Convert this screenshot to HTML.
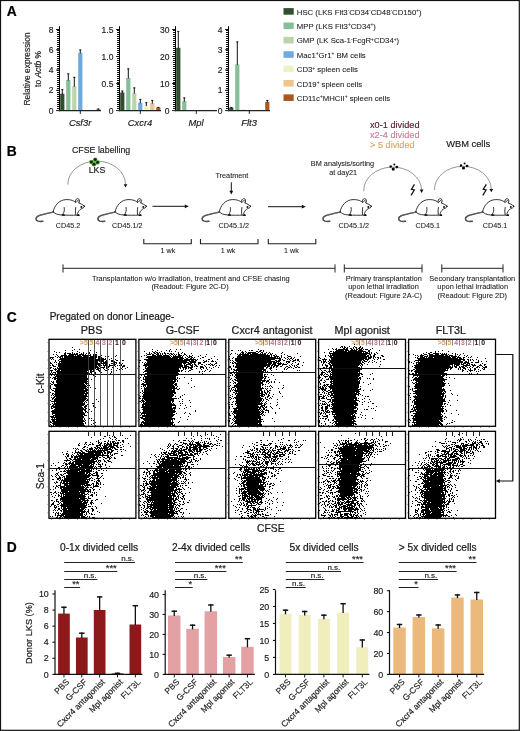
<!DOCTYPE html>
<html><head><meta charset="utf-8"><title>Figure</title>
<style>
html,body{margin:0;padding:0;background:#fff;}
body{width:520px;height:731px;overflow:hidden;}
svg{display:block;will-change:transform;font-family:"Liberation Sans", sans-serif;}

</style></head>
<body>
<svg width="520" height="731" viewBox="0 0 520 731">
<rect width="520" height="731" fill="#fff"/>
<rect x="0.5" y="0.5" width="518.8" height="729.8" fill="none" stroke="#111" stroke-width="1.2"/>
<text x="6.8" y="15.8" font-size="13.8" font-weight="bold" fill="#000" stroke="#000" stroke-width="0.22">A</text>
<text x="6.8" y="155.5" font-size="13.8" font-weight="bold" fill="#000" stroke="#000" stroke-width="0.22">B</text>
<text x="6.8" y="322" font-size="13.8" font-weight="bold" fill="#000" stroke="#000" stroke-width="0.22">C</text>
<text x="6.8" y="551.8" font-size="13.8" font-weight="bold" fill="#000" stroke="#000" stroke-width="0.22">D</text>
<rect x="60.2" y="93.7" width="4.2" height="16.9" fill="#2f4f2f"/>
<line x1="62.3" y1="89.3" x2="62.3" y2="94.2" stroke="#111" stroke-width="1"/>
<line x1="61.2" y1="89.7" x2="63.4" y2="89.7" stroke="#111" stroke-width="0.9"/>
<rect x="66.2" y="80" width="4.2" height="30.6" fill="#86bf97"/>
<line x1="68.3" y1="73.5" x2="68.3" y2="80.5" stroke="#111" stroke-width="1"/>
<line x1="67.2" y1="73.9" x2="69.4" y2="73.9" stroke="#111" stroke-width="0.9"/>
<rect x="72.2" y="86.3" width="4.2" height="24.3" fill="#b9d5a9"/>
<line x1="74.3" y1="76.9" x2="74.3" y2="86.8" stroke="#111" stroke-width="1"/>
<line x1="73.2" y1="77.3" x2="75.4" y2="77.3" stroke="#111" stroke-width="0.9"/>
<rect x="78.2" y="52.8" width="4.2" height="57.8" fill="#6eaade"/>
<line x1="80.3" y1="49.6" x2="80.3" y2="53.3" stroke="#111" stroke-width="1"/>
<line x1="79.2" y1="50" x2="81.4" y2="50" stroke="#111" stroke-width="0.9"/>
<rect x="84.2" y="110.2" width="4.2" height="0.4" fill="#eef0c6"/>
<rect x="90.2" y="110.2" width="4.2" height="0.4" fill="#eec590"/>
<rect x="96.2" y="109.4" width="4.2" height="1.2" fill="#a9591f"/>
<line x1="98.3" y1="108.6" x2="98.3" y2="109.9" stroke="#111" stroke-width="1"/>
<line x1="97.2" y1="109" x2="99.4" y2="109" stroke="#111" stroke-width="0.9"/>
<line x1="59.5" y1="26.2" x2="59.5" y2="111.2" stroke="#000" stroke-width="1"/>
<line x1="58" y1="30" x2="58" y2="110" stroke="#111" stroke-width="2" stroke-dasharray="1 1"/>
<line x1="56.1" y1="110.6" x2="59.5" y2="110.6" stroke="#111" stroke-width="1"/>
<text x="53.4" y="113.6" font-size="8.5" text-anchor="end" fill="#1a1a1a" stroke="#1a1a1a" stroke-width="0.16">0</text>
<line x1="56.1" y1="90.32" x2="59.5" y2="90.32" stroke="#111" stroke-width="1"/>
<text x="53.4" y="93.32" font-size="8.5" text-anchor="end" fill="#1a1a1a" stroke="#1a1a1a" stroke-width="0.16">2</text>
<line x1="56.1" y1="70.05" x2="59.5" y2="70.05" stroke="#111" stroke-width="1"/>
<text x="53.4" y="73.05" font-size="8.5" text-anchor="end" fill="#1a1a1a" stroke="#1a1a1a" stroke-width="0.16">4</text>
<line x1="56.1" y1="49.77" x2="59.5" y2="49.77" stroke="#111" stroke-width="1"/>
<text x="53.4" y="52.77" font-size="8.5" text-anchor="end" fill="#1a1a1a" stroke="#1a1a1a" stroke-width="0.16">6</text>
<line x1="56.1" y1="29.5" x2="59.5" y2="29.5" stroke="#111" stroke-width="1"/>
<text x="53.4" y="32.5" font-size="8.5" text-anchor="end" fill="#1a1a1a" stroke="#1a1a1a" stroke-width="0.16">8</text>
<line x1="59" y1="110.6" x2="101" y2="110.6" stroke="#222" stroke-width="1.3"/>
<line x1="80.3" y1="110.6" x2="80.3" y2="113.9" stroke="#222" stroke-width="1"/>
<text x="80.1" y="125.6" font-size="9.4" text-anchor="middle" font-style="italic" fill="#1a1a1a" stroke="#1a1a1a" stroke-width="0.16">Csf3r</text>
<rect x="120.2" y="92.5" width="4.2" height="18.1" fill="#2f4f2f"/>
<line x1="122.3" y1="90.6" x2="122.3" y2="93" stroke="#111" stroke-width="1"/>
<line x1="121.2" y1="91" x2="123.4" y2="91" stroke="#111" stroke-width="0.9"/>
<rect x="126.2" y="78" width="4.2" height="32.6" fill="#86bf97"/>
<line x1="128.3" y1="68.5" x2="128.3" y2="78.5" stroke="#111" stroke-width="1"/>
<line x1="127.2" y1="68.9" x2="129.4" y2="68.9" stroke="#111" stroke-width="0.9"/>
<rect x="132.2" y="93.1" width="4.2" height="17.5" fill="#b9d5a9"/>
<line x1="134.3" y1="87.5" x2="134.3" y2="93.6" stroke="#111" stroke-width="1"/>
<line x1="133.2" y1="87.9" x2="135.4" y2="87.9" stroke="#111" stroke-width="0.9"/>
<rect x="138.2" y="102.8" width="4.2" height="7.8" fill="#6eaade"/>
<line x1="140.3" y1="99" x2="140.3" y2="103.3" stroke="#111" stroke-width="1"/>
<line x1="139.2" y1="99.4" x2="141.4" y2="99.4" stroke="#111" stroke-width="0.9"/>
<rect x="144.2" y="105.6" width="4.2" height="5" fill="#eef0c6"/>
<line x1="146.3" y1="102.3" x2="146.3" y2="106.1" stroke="#111" stroke-width="1"/>
<line x1="145.2" y1="102.7" x2="147.4" y2="102.7" stroke="#111" stroke-width="0.9"/>
<rect x="150.2" y="103.1" width="4.2" height="7.5" fill="#eec590"/>
<line x1="152.3" y1="100" x2="152.3" y2="103.6" stroke="#111" stroke-width="1"/>
<line x1="151.2" y1="100.4" x2="153.4" y2="100.4" stroke="#111" stroke-width="0.9"/>
<rect x="156.2" y="107.5" width="4.2" height="3.1" fill="#a9591f"/>
<line x1="158.3" y1="107" x2="158.3" y2="108" stroke="#111" stroke-width="1"/>
<line x1="157.2" y1="107.4" x2="159.4" y2="107.4" stroke="#111" stroke-width="0.9"/>
<line x1="119.5" y1="26.2" x2="119.5" y2="111.2" stroke="#000" stroke-width="1"/>
<line x1="118" y1="30" x2="118" y2="110" stroke="#111" stroke-width="2" stroke-dasharray="1 1"/>
<line x1="116.1" y1="110.6" x2="119.5" y2="110.6" stroke="#111" stroke-width="1"/>
<text x="113.4" y="113.6" font-size="8.5" text-anchor="end" fill="#1a1a1a" stroke="#1a1a1a" stroke-width="0.16">0</text>
<line x1="116.1" y1="83.57" x2="119.5" y2="83.57" stroke="#111" stroke-width="1"/>
<text x="113.4" y="86.57" font-size="8.5" text-anchor="end" fill="#1a1a1a" stroke="#1a1a1a" stroke-width="0.16">0.5</text>
<line x1="116.1" y1="56.53" x2="119.5" y2="56.53" stroke="#111" stroke-width="1"/>
<text x="113.4" y="59.53" font-size="8.5" text-anchor="end" fill="#1a1a1a" stroke="#1a1a1a" stroke-width="0.16">1.0</text>
<line x1="116.1" y1="29.5" x2="119.5" y2="29.5" stroke="#111" stroke-width="1"/>
<text x="113.4" y="32.5" font-size="8.5" text-anchor="end" fill="#1a1a1a" stroke="#1a1a1a" stroke-width="0.16">1.5</text>
<line x1="119" y1="110.6" x2="161" y2="110.6" stroke="#222" stroke-width="1.3"/>
<line x1="140.3" y1="110.6" x2="140.3" y2="113.9" stroke="#222" stroke-width="1"/>
<text x="140.1" y="125.6" font-size="9.4" text-anchor="middle" font-style="italic" fill="#1a1a1a" stroke="#1a1a1a" stroke-width="0.16">Cxcr4</text>
<rect x="176.2" y="47.8" width="4.2" height="62.8" fill="#2f4f2f"/>
<line x1="178.3" y1="31" x2="178.3" y2="48.3" stroke="#111" stroke-width="1"/>
<line x1="177.2" y1="31.4" x2="179.4" y2="31.4" stroke="#111" stroke-width="0.9"/>
<rect x="182.2" y="101" width="4.2" height="9.6" fill="#86bf97"/>
<line x1="184.3" y1="97.5" x2="184.3" y2="101.5" stroke="#111" stroke-width="1"/>
<line x1="183.2" y1="97.9" x2="185.4" y2="97.9" stroke="#111" stroke-width="0.9"/>
<rect x="188.2" y="110.3" width="4.2" height="0.3" fill="#b9d5a9"/>
<rect x="194.2" y="110.4" width="4.2" height="0.2" fill="#6eaade"/>
<rect x="200.2" y="110.4" width="4.2" height="0.2" fill="#eef0c6"/>
<rect x="206.2" y="110.4" width="4.2" height="0.2" fill="#eec590"/>
<rect x="212.2" y="110.4" width="4.2" height="0.2" fill="#a9591f"/>
<line x1="175.5" y1="26.2" x2="175.5" y2="111.2" stroke="#000" stroke-width="1"/>
<line x1="174" y1="30" x2="174" y2="110" stroke="#111" stroke-width="2" stroke-dasharray="1 1"/>
<line x1="172.1" y1="110.6" x2="175.5" y2="110.6" stroke="#111" stroke-width="1"/>
<text x="169.4" y="113.6" font-size="8.5" text-anchor="end" fill="#1a1a1a" stroke="#1a1a1a" stroke-width="0.16">0</text>
<line x1="172.1" y1="83.57" x2="175.5" y2="83.57" stroke="#111" stroke-width="1"/>
<text x="169.4" y="86.57" font-size="8.5" text-anchor="end" fill="#1a1a1a" stroke="#1a1a1a" stroke-width="0.16">10</text>
<line x1="172.1" y1="56.53" x2="175.5" y2="56.53" stroke="#111" stroke-width="1"/>
<text x="169.4" y="59.53" font-size="8.5" text-anchor="end" fill="#1a1a1a" stroke="#1a1a1a" stroke-width="0.16">20</text>
<line x1="172.1" y1="29.5" x2="175.5" y2="29.5" stroke="#111" stroke-width="1"/>
<text x="169.4" y="32.5" font-size="8.5" text-anchor="end" fill="#1a1a1a" stroke="#1a1a1a" stroke-width="0.16">30</text>
<line x1="175" y1="110.6" x2="217" y2="110.6" stroke="#222" stroke-width="1.3"/>
<line x1="196.3" y1="110.6" x2="196.3" y2="113.9" stroke="#222" stroke-width="1"/>
<text x="196.1" y="125.6" font-size="9.4" text-anchor="middle" font-style="italic" fill="#1a1a1a" stroke="#1a1a1a" stroke-width="0.16">Mpl</text>
<rect x="229.2" y="107.6" width="4.2" height="3" fill="#2f4f2f"/>
<line x1="231.3" y1="107" x2="231.3" y2="108.1" stroke="#111" stroke-width="1"/>
<line x1="230.2" y1="107.4" x2="232.4" y2="107.4" stroke="#111" stroke-width="0.9"/>
<rect x="235.2" y="64.4" width="4.2" height="46.2" fill="#86bf97"/>
<line x1="237.3" y1="41.5" x2="237.3" y2="64.9" stroke="#111" stroke-width="1"/>
<line x1="236.2" y1="41.9" x2="238.4" y2="41.9" stroke="#111" stroke-width="0.9"/>
<rect x="241.2" y="109.6" width="4.2" height="1" fill="#b9d5a9"/>
<rect x="247.2" y="110.4" width="4.2" height="0.2" fill="#6eaade"/>
<rect x="253.2" y="110.4" width="4.2" height="0.2" fill="#eef0c6"/>
<rect x="259.2" y="110.4" width="4.2" height="0.2" fill="#eec590"/>
<rect x="265.2" y="101.9" width="4.2" height="8.7" fill="#a9591f"/>
<line x1="267.3" y1="100" x2="267.3" y2="102.4" stroke="#111" stroke-width="1"/>
<line x1="266.2" y1="100.4" x2="268.4" y2="100.4" stroke="#111" stroke-width="0.9"/>
<line x1="228.5" y1="26.2" x2="228.5" y2="111.2" stroke="#000" stroke-width="1"/>
<line x1="227" y1="30" x2="227" y2="110" stroke="#111" stroke-width="2" stroke-dasharray="1 1"/>
<line x1="225.1" y1="110.6" x2="228.5" y2="110.6" stroke="#111" stroke-width="1"/>
<text x="222.4" y="113.6" font-size="8.5" text-anchor="end" fill="#1a1a1a" stroke="#1a1a1a" stroke-width="0.16">0</text>
<line x1="225.1" y1="90.32" x2="228.5" y2="90.32" stroke="#111" stroke-width="1"/>
<text x="222.4" y="93.32" font-size="8.5" text-anchor="end" fill="#1a1a1a" stroke="#1a1a1a" stroke-width="0.16">1</text>
<line x1="225.1" y1="70.05" x2="228.5" y2="70.05" stroke="#111" stroke-width="1"/>
<text x="222.4" y="73.05" font-size="8.5" text-anchor="end" fill="#1a1a1a" stroke="#1a1a1a" stroke-width="0.16">2</text>
<line x1="225.1" y1="49.77" x2="228.5" y2="49.77" stroke="#111" stroke-width="1"/>
<text x="222.4" y="52.77" font-size="8.5" text-anchor="end" fill="#1a1a1a" stroke="#1a1a1a" stroke-width="0.16">3</text>
<line x1="225.1" y1="29.5" x2="228.5" y2="29.5" stroke="#111" stroke-width="1"/>
<text x="222.4" y="32.5" font-size="8.5" text-anchor="end" fill="#1a1a1a" stroke="#1a1a1a" stroke-width="0.16">4</text>
<line x1="228" y1="110.6" x2="270" y2="110.6" stroke="#222" stroke-width="1.3"/>
<line x1="249.3" y1="110.6" x2="249.3" y2="113.9" stroke="#222" stroke-width="1"/>
<text x="249.1" y="125.6" font-size="9.4" text-anchor="middle" font-style="italic" fill="#1a1a1a" stroke="#1a1a1a" stroke-width="0.16">Flt3</text>
<text transform="translate(29.6 69) rotate(-90)" font-size="8.4" text-anchor="middle" fill="#222" stroke="#222" stroke-width="0.16">Relative expression</text>
<text transform="translate(41.2 69) rotate(-90)" font-size="8.4" text-anchor="middle" fill="#222" stroke="#222" stroke-width="0.16">to <tspan font-style="italic">Actb</tspan> %</text>
<rect x="283.5" y="8.1" width="10.2" height="6.6" fill="#2f4f2f"/>
<text x="296.8" y="14.6" font-size="7.75" fill="#222" stroke="#222" stroke-width="0.08">HSC (LKS Flt3<tspan dy="-2.6" font-size="4.8">-</tspan><tspan dy="2.6">CD34</tspan><tspan dy="-2.6" font-size="4.8">-</tspan><tspan dy="2.6">CD48</tspan><tspan dy="-2.6" font-size="4.8">-</tspan><tspan dy="2.6">CD150</tspan><tspan dy="-2.6" font-size="4.8">+</tspan><tspan dy="2.6">)</tspan></text>
<rect x="283.5" y="22.48" width="10.2" height="6.6" fill="#86bf97"/>
<text x="296.8" y="28.98" font-size="7.75" fill="#222" stroke="#222" stroke-width="0.08">MPP (LKS Flt3<tspan dy="-2.6" font-size="4.8">+</tspan><tspan dy="2.6">CD34</tspan><tspan dy="-2.6" font-size="4.8">+</tspan><tspan dy="2.6">)</tspan></text>
<rect x="283.5" y="36.86" width="10.2" height="6.6" fill="#b9d5a9"/>
<text x="296.8" y="43.36" font-size="7.75" fill="#222" stroke="#222" stroke-width="0.08">GMP (LK Sca-1<tspan dy="-2.6" font-size="4.8">-</tspan><tspan dy="2.6">FcgR</tspan><tspan dy="-2.6" font-size="4.8">+</tspan><tspan dy="2.6">CD34</tspan><tspan dy="-2.6" font-size="4.8">+</tspan><tspan dy="2.6">)</tspan></text>
<rect x="283.5" y="51.24" width="10.2" height="6.6" fill="#6eaade"/>
<text x="296.8" y="57.74" font-size="7.75" fill="#222" stroke="#222" stroke-width="0.08">Mac1<tspan dy="-2.6" font-size="4.8">+</tspan><tspan dy="2.6">Gr1</tspan><tspan dy="-2.6" font-size="4.8">+</tspan><tspan dy="2.6"> BM cells</tspan></text>
<rect x="283.5" y="65.62" width="10.2" height="6.6" fill="#eef0c6"/>
<text x="296.8" y="72.12" font-size="7.75" fill="#222" stroke="#222" stroke-width="0.08">CD3<tspan dy="-2.6" font-size="4.8">+</tspan><tspan dy="2.6"> spleen cells</tspan></text>
<rect x="283.5" y="80" width="10.2" height="6.6" fill="#eec590"/>
<text x="296.8" y="86.5" font-size="7.75" fill="#222" stroke="#222" stroke-width="0.08">CD19<tspan dy="-2.6" font-size="4.8">+</tspan><tspan dy="2.6"> spleen cells</tspan></text>
<rect x="283.5" y="94.38" width="10.2" height="6.6" fill="#a9591f"/>
<text x="296.8" y="100.88" font-size="7.75" fill="#222" stroke="#222" stroke-width="0.08">CD11c<tspan dy="-2.6" font-size="4.8">+</tspan><tspan dy="2.6">MHCII</tspan><tspan dy="-2.6" font-size="4.8">+</tspan><tspan dy="2.6"> spleen cells</tspan></text>
<g transform="translate(84.4 206.3)"><g fill="none" stroke="#111" stroke-width="0.85" stroke-linejoin="round" stroke-linecap="round"><path d="M-31.2 5.4 C-30 -1 -25 -6.5 -18.3 -6.7 C-13 -6.9 -10.2 -5.2 -8.8 -3.9"/><path d="M-8.8 -3.9 C-9.8 -6.6 -7.2 -8.6 -5.6 -7.2 C-4.6 -6.2 -4.8 -4.6 -5.4 -3.6"/><path d="M-7.6 -4.6 C-7.4 -5.6 -6.6 -6.2 -6 -5.6"/><path d="M-5.6 -3.4 C-3.6 -2.6 -1.4 -1.4 0.2 -0.1 C-0.4 1.3 -1.8 2.1 -3.2 2.5 C-4.5 3.2 -5.8 4.6 -6.6 6.6 C-7 7.6 -6.6 8.4 -5.4 8.9"/><path d="M-8.6 1.2 C-9 3.6 -9.2 6 -8.6 8.4"/><path d="M-7.6 8.8 C-12 9 -18 9 -22.4 8.7 C-27 8.4 -30 7.5 -31.2 5.4"/><path d="M-20.2 1.2 C-19.6 4.2 -20.4 6.8 -22 8.3 L-19.8 8.9"/></g><path d="M-31 5.8 C-36 6.8 -42.5 8 -46 9.6 C-49 11 -49.2 13.8 -46.4 14.8 C-45 15.2 -43.2 15.2 -41.6 15" fill="none" stroke="#111" stroke-width="1.5" stroke-linecap="round"/><path d="M-31 5.8 C-36 6.8 -42.5 8 -46 9.6 C-49 11 -49.2 13.8 -46.4 14.8 C-45 15.2 -43.2 15.2 -41.6 15" fill="none" stroke="#fff" stroke-width="0.35" stroke-linecap="round"/><g fill="#111"><ellipse cx="-21.2" cy="8.7" rx="1.6" ry="0.85"/><ellipse cx="-6.2" cy="8.9" rx="1.5" ry="0.85"/><circle cx="-3" cy="0.6" r="1"/><circle cx="-0.1" cy="0" r="0.7"/></g></g>
<g transform="translate(146.3 206.3)"><g fill="none" stroke="#111" stroke-width="0.85" stroke-linejoin="round" stroke-linecap="round"><path d="M-31.2 5.4 C-30 -1 -25 -6.5 -18.3 -6.7 C-13 -6.9 -10.2 -5.2 -8.8 -3.9"/><path d="M-8.8 -3.9 C-9.8 -6.6 -7.2 -8.6 -5.6 -7.2 C-4.6 -6.2 -4.8 -4.6 -5.4 -3.6"/><path d="M-7.6 -4.6 C-7.4 -5.6 -6.6 -6.2 -6 -5.6"/><path d="M-5.6 -3.4 C-3.6 -2.6 -1.4 -1.4 0.2 -0.1 C-0.4 1.3 -1.8 2.1 -3.2 2.5 C-4.5 3.2 -5.8 4.6 -6.6 6.6 C-7 7.6 -6.6 8.4 -5.4 8.9"/><path d="M-8.6 1.2 C-9 3.6 -9.2 6 -8.6 8.4"/><path d="M-7.6 8.8 C-12 9 -18 9 -22.4 8.7 C-27 8.4 -30 7.5 -31.2 5.4"/><path d="M-20.2 1.2 C-19.6 4.2 -20.4 6.8 -22 8.3 L-19.8 8.9"/></g><path d="M-31 5.8 C-36 6.8 -42.5 8 -46 9.6 C-49 11 -49.2 13.8 -46.4 14.8 C-45 15.2 -43.2 15.2 -41.6 15" fill="none" stroke="#111" stroke-width="1.5" stroke-linecap="round"/><path d="M-31 5.8 C-36 6.8 -42.5 8 -46 9.6 C-49 11 -49.2 13.8 -46.4 14.8 C-45 15.2 -43.2 15.2 -41.6 15" fill="none" stroke="#fff" stroke-width="0.35" stroke-linecap="round"/><g fill="#111"><ellipse cx="-21.2" cy="8.7" rx="1.6" ry="0.85"/><ellipse cx="-6.2" cy="8.9" rx="1.5" ry="0.85"/><circle cx="-3" cy="0.6" r="1"/><circle cx="-0.1" cy="0" r="0.7"/></g></g>
<g transform="translate(250.5 206.3)"><g fill="none" stroke="#111" stroke-width="0.85" stroke-linejoin="round" stroke-linecap="round"><path d="M-31.2 5.4 C-30 -1 -25 -6.5 -18.3 -6.7 C-13 -6.9 -10.2 -5.2 -8.8 -3.9"/><path d="M-8.8 -3.9 C-9.8 -6.6 -7.2 -8.6 -5.6 -7.2 C-4.6 -6.2 -4.8 -4.6 -5.4 -3.6"/><path d="M-7.6 -4.6 C-7.4 -5.6 -6.6 -6.2 -6 -5.6"/><path d="M-5.6 -3.4 C-3.6 -2.6 -1.4 -1.4 0.2 -0.1 C-0.4 1.3 -1.8 2.1 -3.2 2.5 C-4.5 3.2 -5.8 4.6 -6.6 6.6 C-7 7.6 -6.6 8.4 -5.4 8.9"/><path d="M-8.6 1.2 C-9 3.6 -9.2 6 -8.6 8.4"/><path d="M-7.6 8.8 C-12 9 -18 9 -22.4 8.7 C-27 8.4 -30 7.5 -31.2 5.4"/><path d="M-20.2 1.2 C-19.6 4.2 -20.4 6.8 -22 8.3 L-19.8 8.9"/></g><path d="M-31 5.8 C-36 6.8 -42.5 8 -46 9.6 C-49 11 -49.2 13.8 -46.4 14.8 C-45 15.2 -43.2 15.2 -41.6 15" fill="none" stroke="#111" stroke-width="1.5" stroke-linecap="round"/><path d="M-31 5.8 C-36 6.8 -42.5 8 -46 9.6 C-49 11 -49.2 13.8 -46.4 14.8 C-45 15.2 -43.2 15.2 -41.6 15" fill="none" stroke="#fff" stroke-width="0.35" stroke-linecap="round"/><g fill="#111"><ellipse cx="-21.2" cy="8.7" rx="1.6" ry="0.85"/><ellipse cx="-6.2" cy="8.9" rx="1.5" ry="0.85"/><circle cx="-3" cy="0.6" r="1"/><circle cx="-0.1" cy="0" r="0.7"/></g></g>
<g transform="translate(371.3 206.3)"><g fill="none" stroke="#111" stroke-width="0.85" stroke-linejoin="round" stroke-linecap="round"><path d="M-31.2 5.4 C-30 -1 -25 -6.5 -18.3 -6.7 C-13 -6.9 -10.2 -5.2 -8.8 -3.9"/><path d="M-8.8 -3.9 C-9.8 -6.6 -7.2 -8.6 -5.6 -7.2 C-4.6 -6.2 -4.8 -4.6 -5.4 -3.6"/><path d="M-7.6 -4.6 C-7.4 -5.6 -6.6 -6.2 -6 -5.6"/><path d="M-5.6 -3.4 C-3.6 -2.6 -1.4 -1.4 0.2 -0.1 C-0.4 1.3 -1.8 2.1 -3.2 2.5 C-4.5 3.2 -5.8 4.6 -6.6 6.6 C-7 7.6 -6.6 8.4 -5.4 8.9"/><path d="M-8.6 1.2 C-9 3.6 -9.2 6 -8.6 8.4"/><path d="M-7.6 8.8 C-12 9 -18 9 -22.4 8.7 C-27 8.4 -30 7.5 -31.2 5.4"/><path d="M-20.2 1.2 C-19.6 4.2 -20.4 6.8 -22 8.3 L-19.8 8.9"/></g><path d="M-31 5.8 C-36 6.8 -42.5 8 -46 9.6 C-49 11 -49.2 13.8 -46.4 14.8 C-45 15.2 -43.2 15.2 -41.6 15" fill="none" stroke="#111" stroke-width="1.5" stroke-linecap="round"/><path d="M-31 5.8 C-36 6.8 -42.5 8 -46 9.6 C-49 11 -49.2 13.8 -46.4 14.8 C-45 15.2 -43.2 15.2 -41.6 15" fill="none" stroke="#fff" stroke-width="0.35" stroke-linecap="round"/><g fill="#111"><ellipse cx="-21.2" cy="8.7" rx="1.6" ry="0.85"/><ellipse cx="-6.2" cy="8.9" rx="1.5" ry="0.85"/><circle cx="-3" cy="0.6" r="1"/><circle cx="-0.1" cy="0" r="0.7"/></g></g>
<g transform="translate(447 206.3)"><g fill="none" stroke="#111" stroke-width="0.85" stroke-linejoin="round" stroke-linecap="round"><path d="M-31.2 5.4 C-30 -1 -25 -6.5 -18.3 -6.7 C-13 -6.9 -10.2 -5.2 -8.8 -3.9"/><path d="M-8.8 -3.9 C-9.8 -6.6 -7.2 -8.6 -5.6 -7.2 C-4.6 -6.2 -4.8 -4.6 -5.4 -3.6"/><path d="M-7.6 -4.6 C-7.4 -5.6 -6.6 -6.2 -6 -5.6"/><path d="M-5.6 -3.4 C-3.6 -2.6 -1.4 -1.4 0.2 -0.1 C-0.4 1.3 -1.8 2.1 -3.2 2.5 C-4.5 3.2 -5.8 4.6 -6.6 6.6 C-7 7.6 -6.6 8.4 -5.4 8.9"/><path d="M-8.6 1.2 C-9 3.6 -9.2 6 -8.6 8.4"/><path d="M-7.6 8.8 C-12 9 -18 9 -22.4 8.7 C-27 8.4 -30 7.5 -31.2 5.4"/><path d="M-20.2 1.2 C-19.6 4.2 -20.4 6.8 -22 8.3 L-19.8 8.9"/></g><path d="M-31 5.8 C-36 6.8 -42.5 8 -46 9.6 C-49 11 -49.2 13.8 -46.4 14.8 C-45 15.2 -43.2 15.2 -41.6 15" fill="none" stroke="#111" stroke-width="1.5" stroke-linecap="round"/><path d="M-31 5.8 C-36 6.8 -42.5 8 -46 9.6 C-49 11 -49.2 13.8 -46.4 14.8 C-45 15.2 -43.2 15.2 -41.6 15" fill="none" stroke="#fff" stroke-width="0.35" stroke-linecap="round"/><g fill="#111"><ellipse cx="-21.2" cy="8.7" rx="1.6" ry="0.85"/><ellipse cx="-6.2" cy="8.9" rx="1.5" ry="0.85"/><circle cx="-3" cy="0.6" r="1"/><circle cx="-0.1" cy="0" r="0.7"/></g></g>
<g transform="translate(513.8 206.3)"><g fill="none" stroke="#111" stroke-width="0.85" stroke-linejoin="round" stroke-linecap="round"><path d="M-31.2 5.4 C-30 -1 -25 -6.5 -18.3 -6.7 C-13 -6.9 -10.2 -5.2 -8.8 -3.9"/><path d="M-8.8 -3.9 C-9.8 -6.6 -7.2 -8.6 -5.6 -7.2 C-4.6 -6.2 -4.8 -4.6 -5.4 -3.6"/><path d="M-7.6 -4.6 C-7.4 -5.6 -6.6 -6.2 -6 -5.6"/><path d="M-5.6 -3.4 C-3.6 -2.6 -1.4 -1.4 0.2 -0.1 C-0.4 1.3 -1.8 2.1 -3.2 2.5 C-4.5 3.2 -5.8 4.6 -6.6 6.6 C-7 7.6 -6.6 8.4 -5.4 8.9"/><path d="M-8.6 1.2 C-9 3.6 -9.2 6 -8.6 8.4"/><path d="M-7.6 8.8 C-12 9 -18 9 -22.4 8.7 C-27 8.4 -30 7.5 -31.2 5.4"/><path d="M-20.2 1.2 C-19.6 4.2 -20.4 6.8 -22 8.3 L-19.8 8.9"/></g><path d="M-31 5.8 C-36 6.8 -42.5 8 -46 9.6 C-49 11 -49.2 13.8 -46.4 14.8 C-45 15.2 -43.2 15.2 -41.6 15" fill="none" stroke="#111" stroke-width="1.5" stroke-linecap="round"/><path d="M-31 5.8 C-36 6.8 -42.5 8 -46 9.6 C-49 11 -49.2 13.8 -46.4 14.8 C-45 15.2 -43.2 15.2 -41.6 15" fill="none" stroke="#fff" stroke-width="0.35" stroke-linecap="round"/><g fill="#111"><ellipse cx="-21.2" cy="8.7" rx="1.6" ry="0.85"/><ellipse cx="-6.2" cy="8.9" rx="1.5" ry="0.85"/><circle cx="-3" cy="0.6" r="1"/><circle cx="-0.1" cy="0" r="0.7"/></g></g>
<text x="68" y="228" font-size="7.2" text-anchor="middle" fill="#222" stroke="#222" stroke-width="0.08">CD45.2</text>
<text x="127.3" y="228" font-size="7.2" text-anchor="middle" fill="#222" stroke="#222" stroke-width="0.08">CD45.1/2</text>
<text x="233.8" y="228" font-size="7.2" text-anchor="middle" fill="#222" stroke="#222" stroke-width="0.08">CD45.1/2</text>
<text x="353.8" y="228" font-size="7.2" text-anchor="middle" fill="#222" stroke="#222" stroke-width="0.08">CD45.1/2</text>
<text x="427.8" y="228" font-size="7.2" text-anchor="middle" fill="#222" stroke="#222" stroke-width="0.08">CD45.1</text>
<text x="495" y="228" font-size="7.2" text-anchor="middle" fill="#222" stroke="#222" stroke-width="0.08">CD45.1</text>
<text x="72" y="152.5" font-size="8.8" fill="#222" stroke="#222" stroke-width="0.16">CFSE labelling</text>
<text x="97" y="172.8" font-size="8.8" text-anchor="middle" fill="#1a1a1a" stroke="#1a1a1a" stroke-width="0.16">LKS</text>
<path d="M67.8 184.6 A28.85 23.3 0 0 1 125.5 184.2" fill="none" stroke="#8a8a8a" stroke-width="0.9"/>
<path d="M125.5 187.6 l-1.9 -3.4 l3.8 0 z" fill="#111"/>
<path d="M363.8 191.3 A28.9 23.4 0 0 1 421.6 189.6" fill="none" stroke="#8a8a8a" stroke-width="0.9"/>
<path d="M421.6 192.9 l-1.9 -3.4 l3.8 0 z" fill="#111"/>
<path d="M434.5 190 A28.4 23.2 0 0 1 491.3 189" fill="none" stroke="#8a8a8a" stroke-width="0.9"/>
<path d="M491.3 192.3 l-1.9 -3.4 l3.8 0 z" fill="#111"/>
<circle cx="91.4" cy="162" r="2.2" fill="#4f9e30"/>
<circle cx="95.2" cy="159.6" r="2.2" fill="#4f9e30"/>
<circle cx="97.6" cy="162.4" r="2.2" fill="#4f9e30"/>
<circle cx="94" cy="164.3" r="2.2" fill="#4f9e30"/>
<circle cx="91.4" cy="162" r="1.35" fill="#0b2205"/>
<circle cx="95.2" cy="159.6" r="1.35" fill="#0b2205"/>
<circle cx="97.6" cy="162.4" r="1.35" fill="#0b2205"/>
<circle cx="94" cy="164.3" r="1.35" fill="#0b2205"/>
<circle cx="394.3" cy="164.6" r="1" fill="#0a0a0a"/>
<circle cx="390.7" cy="166.6" r="1.25" fill="#0a0a0a"/>
<circle cx="396.8" cy="167.1" r="1.35" fill="#0a0a0a"/>
<circle cx="393.2" cy="169.1" r="1.6" fill="#0a0a0a"/>
<circle cx="464.6" cy="163.5" r="1" fill="#0a0a0a"/>
<circle cx="461" cy="165.5" r="1.25" fill="#0a0a0a"/>
<circle cx="467.1" cy="166" r="1.35" fill="#0a0a0a"/>
<circle cx="463.5" cy="168" r="1.6" fill="#0a0a0a"/>
<path d="M414.5 184.3 L411.4 189.3 L414.3 190 L411 195.3" fill="none" stroke="#111" stroke-width="1.25" stroke-linejoin="miter"/>
<path d="M486.3 184.3 L483.2 189.3 L486.1 190 L482.8 195.3" fill="none" stroke="#111" stroke-width="1.25" stroke-linejoin="miter"/>
<line x1="152.5" y1="206.3" x2="185.8" y2="206.3" stroke="#111" stroke-width="1"/>
<path d="M188.8 206.3 l-4 -1.9 l0 3.8 z" fill="#111"/>
<line x1="268" y1="206.7" x2="302.8" y2="206.7" stroke="#111" stroke-width="1"/>
<path d="M305.8 206.7 l-4 -1.9 l0 3.8 z" fill="#111"/>
<text x="231.9" y="178.2" font-size="7.3" text-anchor="middle" fill="#222" stroke="#222" stroke-width="0.08">Treatment</text>
<line x1="231.3" y1="182.3" x2="231.3" y2="191.5" stroke="#111" stroke-width="1"/>
<path d="M231.3 194.6 l-1.9 -3.8 l3.8 0 z" fill="#111"/>
<path d="M143.8 239 V243.7 H191.3 V239" fill="none" stroke="#222" stroke-width="1.1"/>
<text x="167.9" y="253.2" font-size="7.1" text-anchor="middle" fill="#222" stroke="#222" stroke-width="0.08">1 wk</text>
<path d="M200.5 239 V243.7 H258 V239" fill="none" stroke="#222" stroke-width="1.1"/>
<text x="228.1" y="253.2" font-size="7.1" text-anchor="middle" fill="#222" stroke="#222" stroke-width="0.08">1 wk</text>
<path d="M268.3 239 V243.7 H315.8 V239" fill="none" stroke="#222" stroke-width="1.1"/>
<text x="291.4" y="253.2" font-size="7.1" text-anchor="middle" fill="#222" stroke="#222" stroke-width="0.08">1 wk</text>
<text x="342.5" y="166.2" font-size="7.3" text-anchor="middle" fill="#222" stroke="#222" stroke-width="0.08">BM analysis/sorting</text>
<text x="343.2" y="175" font-size="7.3" text-anchor="middle" fill="#222" stroke="#222" stroke-width="0.08">at day21</text>
<text x="370" y="127.5" font-size="9.2" fill="#55202e" stroke="#55202e" stroke-width="0.16">x0-1 divided</text>
<text x="370" y="137.6" font-size="9.2" fill="#cc7f9a" stroke="#cc7f9a" stroke-width="0.16">x2-4 divided</text>
<text x="370" y="148" font-size="9.2" fill="#d9a865" stroke="#d9a865" stroke-width="0.16">&gt; 5 divided</text>
<text x="446.2" y="147.2" font-size="9.3" fill="#1a1a1a" stroke="#1a1a1a" stroke-width="0.16">WBM cells</text>
<line x1="63" y1="268.3" x2="335" y2="268.3" stroke="#222" stroke-width="1"/>
<line x1="63" y1="264.4" x2="63" y2="272.5" stroke="#222" stroke-width="1"/>
<line x1="335" y1="264.4" x2="335" y2="272.5" stroke="#222" stroke-width="1"/>
<line x1="344.3" y1="268.3" x2="422" y2="268.3" stroke="#222" stroke-width="1"/>
<line x1="344.3" y1="264.4" x2="344.3" y2="272.5" stroke="#222" stroke-width="1"/>
<line x1="422" y1="264.4" x2="422" y2="272.5" stroke="#222" stroke-width="1"/>
<line x1="441.8" y1="268.3" x2="503" y2="268.3" stroke="#222" stroke-width="1"/>
<line x1="441.8" y1="264.4" x2="441.8" y2="272.5" stroke="#222" stroke-width="1"/>
<line x1="503" y1="264.4" x2="503" y2="272.5" stroke="#222" stroke-width="1"/>
<text x="190.8" y="280.7" font-size="7.4" text-anchor="middle" fill="#222" stroke="#222" stroke-width="0.08">Transplantation w/o irradiation, treatment and CFSE chasing</text>
<text x="190" y="288.8" font-size="7.4" text-anchor="middle" fill="#222" stroke="#222" stroke-width="0.08">(Readout: Figure 2C-D)</text>
<text x="383.8" y="280.7" font-size="7.4" text-anchor="middle" fill="#222" stroke="#222" stroke-width="0.08">Primary transplantation</text>
<text x="383.5" y="289.2" font-size="7.4" text-anchor="middle" fill="#222" stroke="#222" stroke-width="0.08">upon lethal irradiation</text>
<text x="383.5" y="297.5" font-size="7.4" text-anchor="middle" fill="#222" stroke="#222" stroke-width="0.08">(Readout: Figure 2A-C)</text>
<text x="472.3" y="280.7" font-size="7.4" text-anchor="middle" fill="#222" stroke="#222" stroke-width="0.08">Secondary transplantation</text>
<text x="472.7" y="289.2" font-size="7.4" text-anchor="middle" fill="#222" stroke="#222" stroke-width="0.08">upon lethal irradiation</text>
<text x="472.3" y="297.5" font-size="7.4" text-anchor="middle" fill="#222" stroke="#222" stroke-width="0.08">(Readout: Figure 2D)</text>
<text x="49.7" y="320.2" font-size="10" fill="#1a1a1a" stroke="#1a1a1a" stroke-width="0.22">Pregated on donor Lineage-</text>
<text x="91.6" y="334" font-size="10.8" text-anchor="middle" fill="#1a1a1a" stroke="#1a1a1a" stroke-width="0.22">PBS</text>
<text x="182.5" y="334" font-size="10.8" text-anchor="middle" fill="#1a1a1a" stroke="#1a1a1a" stroke-width="0.22">G-CSF</text>
<text x="272.1" y="334" font-size="10.8" text-anchor="middle" fill="#1a1a1a" stroke="#1a1a1a" stroke-width="0.22">Cxcr4 antagonist</text>
<text x="362.2" y="334" font-size="10.8" text-anchor="middle" fill="#1a1a1a" stroke="#1a1a1a" stroke-width="0.22">Mpl agonist</text>
<text x="450.9" y="334" font-size="10.8" text-anchor="middle" fill="#1a1a1a" stroke="#1a1a1a" stroke-width="0.22">FLT3L</text>
<path d="M88 344h1v1h-1zm6 2h1v1h-1zm-22 1h1v1h-1zm2 2h1v1h-1zm5 0h1v1h-1zm-14 1h1v1h-1zm7 0h1v1h-1zm18 0h1v1h-1zm-36 1h1v1h-1zm23 0h1v1h-1zm17 0h1v1h-1zm-38 1h1v1h-1zm3 0h1v1h-1zm6 0h1v1h-1zm7 0h1v1h-1zm7 0h1v1h-1zm4 0h1v1h-1zm6 0h1v1h-1zm7 0h1v1h-1zm-32 1h2v1h-2zm3 0h4v1h-4zm5 0h1v1h-1zm2 0h1v1h-1zm2 0h2v1h-2zm5 0h1v1h-1zm2 0h1v1h-1zm3 0h1v1h-1zm3 0h1v1h-1zm-36 1h1v1h-1zm3 0h1v1h-1zm8 0h2v1h-2zm5 0h9v1h-9zm10 0h5v1h-5zm6 0h1v1h-1zm3 0h1v1h-1zm2 0h1v1h-1zm3 0h1v1h-1zm2 0h2v1h-2zm-38 1h1v1h-1zm4 0h6v1h-6zm7 0h6v1h-6zm7 0h1v1h-1zm2 0h4v1h-4zm5 0h9v1h-9zm11 0h4v1h-4zm8 0h1v1h-1zm15 0h1v1h-1zm-61 1h1v1h-1zm3 0h1v1h-1zm2 0h3v1h-3zm4 0h18v1h-18zm19 0h6v1h-6zm7 0h4v1h-4zm5 0h2v1h-2zm3 0h3v1h-3zm7 0h1v1h-1zm3 0h1v1h-1zm7 0h1v1h-1zm-65 1h4v1h-4zm7 0h1v1h-1zm2 0h2v1h-2zm3 0h1v1h-1zm2 0h33v1h-33zm34 0h2v1h-2zm3 0h1v1h-1zm6 0h1v1h-1zm-57 1h1v1h-1zm2 0h1v1h-1zm8 0h36v1h-36zm38 0h6v1h-6zm7 0h1v1h-1zm6 0h1v1h-1zm-60 1h1v1h-1zm2 0h1v1h-1zm6 0h47v1h-47zm50 0h1v1h-1zm6 0h1v1h-1zm-60 1h1v1h-1zm3 0h1v1h-1zm3 0h43v1h-43zm45 0h1v1h-1zm5 0h2v1h-2zm5 0h2v1h-2zm6 0h2v1h-2zm-67 1h1v1h-1zm4 0h39v1h-39zm40 0h5v1h-5zm6 0h2v1h-2zm6 0h4v1h-4zm-61 1h1v1h-1zm4 0h1v1h-1zm2 0h1v1h-1zm3 0h1v1h-1zm2 0h37v1h-37zm40 0h1v1h-1zm2 0h5v1h-5zm11 0h3v1h-3zm5 0h1v1h-1zm-69 1h2v1h-2zm8 0h50v1h-50zm53 0h2v1h-2zm3 0h1v1h-1zm2 0h1v1h-1zm3 0h2v1h-2zm3 0h1v1h-1zm-70 1h1v1h-1zm4 0h1v1h-1zm2 0h43v1h-43zm45 0h1v1h-1zm2 0h2v1h-2zm4 0h1v1h-1zm4 0h3v1h-3zm8 0h1v1h-1zm-71 1h1v1h-1zm2 0h2v1h-2zm6 0h39v1h-39zm40 0h4v1h-4zm5 0h4v1h-4zm6 0h6v1h-6zm8 0h1v1h-1zm2 0h3v1h-3zm4 0h2v1h-2zm-70 1h3v1h-3zm5 0h40v1h-40zm41 0h1v1h-1zm5 0h1v1h-1zm2 0h1v1h-1zm2 0h2v1h-2zm5 0h1v1h-1zm2 0h1v1h-1zm7 0h3v1h-3zm-72 1h2v1h-2zm7 0h1v1h-1zm2 0h40v1h-40zm41 0h5v1h-5zm6 0h1v1h-1zm2 0h1v1h-1zm4 0h2v1h-2zm8 0h1v1h-1zm2 0h1v1h-1zm5 0h1v1h-1zm-77 1h1v1h-1zm3 0h1v1h-1zm2 0h1v1h-1zm2 0h37v1h-37zm38 0h1v1h-1zm2 0h3v1h-3zm6 0h1v1h-1zm3 0h1v1h-1zm7 0h1v1h-1zm4 0h1v1h-1zm4 0h1v1h-1zm4 0h1v1h-1zm-71 1h3v1h-3zm4 0h36v1h-36zm38 0h3v1h-3zm4 0h1v1h-1zm4 0h1v1h-1zm4 0h1v1h-1zm3 0h1v1h-1zm8 0h1v1h-1zm3 0h1v1h-1zm-72 1h3v1h-3zm5 0h1v1h-1zm2 0h3v1h-3zm4 0h28v1h-28zm29 0h2v1h-2zm3 0h1v1h-1zm5 0h3v1h-3zm7 0h2v1h-2zm8 0h1v1h-1zm3 0h1v1h-1zm-65 1h1v1h-1zm5 0h31v1h-31zm32 0h1v1h-1zm2 0h4v1h-4zm9 0h1v1h-1zm12 0h1v1h-1zm-60 1h1v1h-1zm2 0h3v1h-3zm4 0h32v1h-32zm33 0h2v1h-2zm4 0h2v1h-2zm7 0h1v1h-1zm10 0h1v1h-1zm-61 1h1v1h-1zm2 0h1v1h-1zm3 0h1v1h-1zm2 0h33v1h-33zm34 0h1v1h-1zm4 0h1v1h-1zm15 0h1v1h-1zm-60 1h1v1h-1zm3 0h37v1h-37zm-2 1h1v1h-1zm3 0h1v1h-1zm2 0h31v1h-31zm37 0h1v1h-1zm-38 1h32v1h-32zm33 0h1v1h-1zm7 0h1v1h-1zm-45 1h1v1h-1zm3 0h3v1h-3zm4 0h30v1h-30zm31 0h1v1h-1zm-36 1h1v1h-1zm2 0h34v1h-34zm0 1h2v1h-2zm3 0h31v1h-31zm34 0h1v1h-1zm-35 1h31v1h-31zm32 0h1v1h-1zm-37 1h1v1h-1zm2 0h1v1h-1zm3 0h32v1h-32zm-4 1h2v1h-2zm4 0h31v1h-31zm-6 1h1v1h-1zm3 0h1v1h-1zm4 0h27v1h-27zm28 0h4v1h-4zm-34 1h2v1h-2zm3 0h31v1h-31zm32 0h1v1h-1zm2 0h1v1h-1zm-38 1h1v1h-1zm4 0h32v1h-32zm33 0h3v1h-3zm-37 1h1v1h-1zm5 0h32v1h-32zm-5 1h1v1h-1zm6 0h30v1h-30zm31 0h1v1h-1zm3 0h1v1h-1zm-40 1h1v1h-1zm3 0h34v1h-34zm42 0h1v1h-1zm-44 1h1v1h-1zm4 0h29v1h-29zm30 0h3v1h-3zm-33 1h2v1h-2zm3 0h33v1h-33zm-1 1h33v1h-33zm-4 1h1v1h-1zm5 0h30v1h-30zm31 0h2v1h-2zm-34 1h2v1h-2zm3 0h34v1h-34zm-3 1h1v1h-1zm2 0h30v1h-30zm31 0h2v1h-2zm-34 1h1v1h-1zm2 0h1v1h-1zm2 0h32v1h-32zm-1 1h34v1h-34zm-3 1h1v1h-1zm2 0h2v1h-2zm3 0h30v1h-30zm-4 1h2v1h-2zm3 0h32v1h-32zm-3 1h1v1h-1zm2 0h32v1h-32zm33 0h1v1h-1zm9 0h1v1h-1zm-46 1h1v1h-1zm4 0h31v1h-31zm32 0h2v1h-2zm-35 1h33v1h-33zm34 0h1v1h-1zm13 0h1v1h-1zm-44 1h1v1h-1zm2 0h27v1h-27zm28 0h1v1h-1zm2 0h1v1h-1zm-34 1h1v1h-1zm2 0h31v1h-31zm38 0h2v1h-2zm-42 1h1v1h-1zm3 0h32v1h-32zm34 0h1v1h-1zm-35 1h2v1h-2zm3 0h29v1h-29zm30 0h2v1h-2zm8 0h1v1h-1zm-42 1h31v1h-31zm33 0h3v1h-3zm9 0h1v1h-1zm-42 1h1v1h-1zm2 0h30v1h-30zm31 0h2v1h-2zm11 0h1v1h-1zm-44 1h2v1h-2zm4 0h29v1h-29zm30 0h2v1h-2zm-31 1h32v1h-32zm35 0h1v1h-1zm-37 1h31v1h-31zm32 0h2v1h-2zm-33 1h32v1h-32zm34 0h2v1h-2zm6 0h1v1h-1zm-39 1h32v1h-32zm33 0h1v1h-1zm2 0h1v1h-1zm-35 1h33v1h-33zm0 1h1v1h-1zm3 0h30v1h-30zm-2 1h30v1h-30zm31 0h3v1h-3zm-34 1h4v1h-4zm5 0h29v1h-29zm-4 1h33v1h-33zm1 1h1v1h-1zm2 0h1v1h-1zm2 0h27v1h-27zm28 0h1v1h-1zm5 0h1v1h-1zm2 0h1v1h-1zm-40 1h32v1h-32zm33 0h1v1h-1zm-32 1h3v1h-3zm4 0h28v1h-28zm29 0h1v1h-1zm6 0h1v1h-1zm2 0h1v1h-1zm-43 1h1v1h-1zm2 0h33v1h-33zm-2 1h2v1h-2zm3 0h30v1h-30zm32 0h1v1h-1zm10 0h1v1h-1zm-43 1h32v1h-32zm33 0h1v1h-1zm8 0h1v1h-1zm-43 1h1v1h-1zm3 0h31v1h-31zm38 0h1v1h-1zm-40 1h1v1h-1zm2 0h1v1h-1zm2 0h30v1h-30zm33 0h1v1h-1zm7 0h1v1h-1z" fill="#000"/>
<path d="M113 434h1v1h-1zm-4 1h1v1h-1zm13 0h1v1h-1zm8 0h1v1h-1zm-26 1h2v1h-2zm8 0h1v1h-1zm2 0h1v1h-1zm-23 1h1v1h-1zm18 0h1v1h-1zm5 0h2v1h-2zm-11 1h1v1h-1zm7 0h1v1h-1zm6 0h1v1h-1zm9 0h1v1h-1zm2 0h1v1h-1zm-27 1h1v1h-1zm12 0h1v1h-1zm3 0h1v1h-1zm-17 1h1v1h-1zm10 0h1v1h-1zm8 0h1v1h-1zm2 0h2v1h-2zm4 0h2v1h-2zm-26 1h1v1h-1zm2 0h1v1h-1zm6 0h2v1h-2zm4 0h1v1h-1zm2 0h1v1h-1zm2 0h3v1h-3zm10 0h2v1h-2zm-37 1h2v1h-2zm5 0h1v1h-1zm8 0h2v1h-2zm3 0h1v1h-1zm6 0h1v1h-1zm3 0h1v1h-1zm2 0h2v1h-2zm3 0h1v1h-1zm2 0h2v1h-2zm3 0h1v1h-1zm3 0h1v1h-1zm-44 1h1v1h-1zm6 0h1v1h-1zm7 0h1v1h-1zm6 0h1v1h-1zm2 0h2v1h-2zm4 0h2v1h-2zm3 0h2v1h-2zm3 0h2v1h-2zm3 0h6v1h-6zm15 0h1v1h-1zm-50 1h1v1h-1zm6 0h1v1h-1zm2 0h1v1h-1zm3 0h2v1h-2zm3 0h2v1h-2zm7 0h2v1h-2zm5 0h1v1h-1zm2 0h6v1h-6zm7 0h2v1h-2zm4 0h1v1h-1zm5 0h1v1h-1zm-44 1h2v1h-2zm10 0h1v1h-1zm8 0h5v1h-5zm6 0h1v1h-1zm2 0h4v1h-4zm5 0h3v1h-3zm4 0h5v1h-5zm7 0h1v1h-1zm-36 1h2v1h-2zm12 0h2v1h-2zm4 0h1v1h-1zm3 0h4v1h-4zm5 0h6v1h-6zm8 0h2v1h-2zm7 0h1v1h-1zm7 0h1v1h-1zm-47 1h2v1h-2zm4 0h1v1h-1zm4 0h1v1h-1zm3 0h2v1h-2zm3 0h3v1h-3zm4 0h1v1h-1zm2 0h6v1h-6zm7 0h5v1h-5zm7 0h2v1h-2zm3 0h2v1h-2zm-47 1h1v1h-1zm2 0h1v1h-1zm2 0h1v1h-1zm5 0h1v1h-1zm7 0h4v1h-4zm6 0h3v1h-3zm4 0h9v1h-9zm10 0h2v1h-2zm3 0h1v1h-1zm2 0h2v1h-2zm-38 1h1v1h-1zm2 0h1v1h-1zm5 0h2v1h-2zm4 0h1v1h-1zm2 0h4v1h-4zm5 0h1v1h-1zm2 0h1v1h-1zm2 0h1v1h-1zm2 0h1v1h-1zm2 0h1v1h-1zm2 0h8v1h-8zm11 0h3v1h-3zm5 0h2v1h-2zm3 0h1v1h-1zm-48 1h1v1h-1zm5 0h2v1h-2zm5 0h2v1h-2zm3 0h1v1h-1zm2 0h1v1h-1zm2 0h4v1h-4zm5 0h11v1h-11zm14 0h3v1h-3zm14 0h1v1h-1zm-58 1h1v1h-1zm8 0h1v1h-1zm3 0h1v1h-1zm3 0h2v1h-2zm5 0h16v1h-16zm17 0h2v1h-2zm4 0h3v1h-3zm4 0h2v1h-2zm6 0h1v1h-1zm4 0h1v1h-1zm-59 1h1v1h-1zm10 0h1v1h-1zm3 0h6v1h-6zm7 0h3v1h-3zm6 0h15v1h-15zm16 0h2v1h-2zm3 0h5v1h-5zm-41 1h2v1h-2zm8 0h1v1h-1zm3 0h1v1h-1zm2 0h15v1h-15zm16 0h6v1h-6zm7 0h1v1h-1zm2 0h2v1h-2zm3 0h2v1h-2zm3 0h1v1h-1zm4 0h4v1h-4zm-51 1h1v1h-1zm3 0h1v1h-1zm2 0h1v1h-1zm4 0h1v1h-1zm5 0h2v1h-2zm3 0h3v1h-3zm4 0h17v1h-17zm18 0h2v1h-2zm5 0h1v1h-1zm3 0h1v1h-1zm2 0h1v1h-1zm2 0h1v1h-1zm-47 1h2v1h-2zm4 0h1v1h-1zm2 0h1v1h-1zm3 0h1v1h-1zm2 0h31v1h-31zm33 0h2v1h-2zm10 0h2v1h-2zm-56 1h1v1h-1zm2 0h2v1h-2zm4 0h2v1h-2zm3 0h21v1h-21zm22 0h3v1h-3zm6 0h1v1h-1zm5 0h2v1h-2zm3 0h1v1h-1zm-44 1h1v1h-1zm5 0h2v1h-2zm3 0h4v1h-4zm5 0h19v1h-19zm20 0h2v1h-2zm4 0h2v1h-2zm4 0h3v1h-3zm4 0h1v1h-1zm3 0h1v1h-1zm-48 1h1v1h-1zm3 0h2v1h-2zm5 0h2v1h-2zm3 0h14v1h-14zm15 0h6v1h-6zm13 0h2v1h-2zm4 0h2v1h-2zm5 0h2v1h-2zm-47 1h1v1h-1zm3 0h2v1h-2zm3 0h8v1h-8zm9 0h8v1h-8zm9 0h5v1h-5zm6 0h1v1h-1zm6 0h1v1h-1zm6 0h1v1h-1zm-45 1h6v1h-6zm8 0h1v1h-1zm3 0h19v1h-19zm21 0h1v1h-1zm2 0h3v1h-3zm6 0h1v1h-1zm3 0h2v1h-2zm-41 1h1v1h-1zm4 0h1v1h-1zm3 0h24v1h-24zm25 0h1v1h-1zm2 0h1v1h-1zm4 0h2v1h-2zm4 0h3v1h-3zm-50 1h1v1h-1zm6 0h1v1h-1zm5 0h2v1h-2zm3 0h2v1h-2zm3 0h20v1h-20zm22 0h1v1h-1zm2 0h1v1h-1zm7 0h1v1h-1zm5 0h1v1h-1zm-58 1h1v1h-1zm10 0h1v1h-1zm2 0h2v1h-2zm3 0h6v1h-6zm7 0h17v1h-17zm18 0h2v1h-2zm5 0h1v1h-1zm4 0h1v1h-1zm-37 1h3v1h-3zm4 0h1v1h-1zm2 0h11v1h-11zm12 0h7v1h-7zm8 0h3v1h-3zm5 0h1v1h-1zm2 0h3v1h-3zm4 0h1v1h-1zm3 0h1v1h-1zm-54 1h1v1h-1zm4 0h1v1h-1zm7 0h2v1h-2zm4 0h1v1h-1zm4 0h6v1h-6zm8 0h11v1h-11zm12 0h2v1h-2zm3 0h1v1h-1zm7 0h1v1h-1zm5 0h1v1h-1zm-44 1h1v1h-1zm4 0h1v1h-1zm2 0h1v1h-1zm2 0h11v1h-11zm12 0h13v1h-13zm14 0h1v1h-1zm3 0h4v1h-4zm11 0h1v1h-1zm-51 1h2v1h-2zm6 0h1v1h-1zm3 0h1v1h-1zm2 0h9v1h-9zm10 0h14v1h-14zm15 0h1v1h-1zm2 0h1v1h-1zm4 0h1v1h-1zm6 0h1v1h-1zm-48 1h1v1h-1zm6 0h1v1h-1zm2 0h15v1h-15zm16 0h12v1h-12zm13 0h1v1h-1zm2 0h1v1h-1zm5 0h1v1h-1zm-46 1h1v1h-1zm3 0h1v1h-1zm6 0h1v1h-1zm3 0h1v1h-1zm2 0h15v1h-15zm16 0h4v1h-4zm5 0h1v1h-1zm2 0h1v1h-1zm3 0h1v1h-1zm5 0h1v1h-1zm-49 1h1v1h-1zm4 0h1v1h-1zm8 0h1v1h-1zm2 0h14v1h-14zm15 0h11v1h-11zm17 0h2v1h-2zm5 0h1v1h-1zm3 0h1v1h-1zm-46 1h2v1h-2zm3 0h3v1h-3zm4 0h11v1h-11zm12 0h13v1h-13zm14 0h1v1h-1zm3 0h1v1h-1zm-38 1h1v1h-1zm8 0h19v1h-19zm20 0h4v1h-4zm9 0h3v1h-3zm-39 1h2v1h-2zm8 0h2v1h-2zm3 0h18v1h-18zm19 0h2v1h-2zm3 0h2v1h-2zm4 0h2v1h-2zm3 0h2v1h-2zm5 0h2v1h-2zm-46 1h1v1h-1zm2 0h1v1h-1zm3 0h2v1h-2zm3 0h1v1h-1zm5 0h19v1h-19zm20 0h2v1h-2zm3 0h2v1h-2zm5 0h2v1h-2zm-45 1h1v1h-1zm5 0h1v1h-1zm2 0h1v1h-1zm3 0h2v1h-2zm5 0h25v1h-25zm26 0h7v1h-7zm10 0h1v1h-1zm-50 1h1v1h-1zm3 0h1v1h-1zm4 0h1v1h-1zm4 0h2v1h-2zm3 0h24v1h-24zm31 0h2v1h-2zm4 0h1v1h-1zm-45 1h1v1h-1zm3 0h2v1h-2zm3 0h1v1h-1zm2 0h1v1h-1zm2 0h23v1h-23zm25 0h1v1h-1zm6 0h1v1h-1zm3 0h1v1h-1zm-43 1h4v1h-4zm7 0h23v1h-23zm25 0h2v1h-2zm3 0h1v1h-1zm4 0h4v1h-4zm7 0h1v1h-1zm-51 1h2v1h-2zm5 0h2v1h-2zm3 0h1v1h-1zm2 0h1v1h-1zm2 0h26v1h-26zm30 0h1v1h-1zm4 0h1v1h-1zm-39 1h1v1h-1zm2 0h25v1h-25zm26 0h1v1h-1zm2 0h1v1h-1zm2 0h2v1h-2zm6 0h3v1h-3zm-41 1h1v1h-1zm5 0h1v1h-1zm2 0h26v1h-26zm31 0h1v1h-1zm2 0h1v1h-1zm2 0h2v1h-2zm-44 1h1v1h-1zm2 0h2v1h-2zm4 0h2v1h-2zm3 0h2v1h-2zm3 0h2v1h-2zm3 0h20v1h-20zm27 0h2v1h-2zm4 0h1v1h-1zm-45 1h1v1h-1zm5 0h1v1h-1zm2 0h26v1h-26zm30 0h2v1h-2zm4 0h3v1h-3zm4 0h1v1h-1zm-40 1h1v1h-1zm4 0h4v1h-4zm5 0h16v1h-16zm17 0h4v1h-4zm5 0h1v1h-1zm2 0h1v1h-1zm3 0h1v1h-1zm2 0h1v1h-1zm2 0h1v1h-1zm3 0h1v1h-1zm-47 1h1v1h-1zm2 0h3v1h-3zm6 0h17v1h-17zm18 0h1v1h-1zm2 0h7v1h-7zm9 0h1v1h-1zm2 0h3v1h-3zm-42 1h1v1h-1zm3 0h2v1h-2zm4 0h5v1h-5zm6 0h18v1h-18zm19 0h1v1h-1zm2 0h1v1h-1zm6 0h6v1h-6zm-38 1h1v1h-1zm3 0h1v1h-1zm2 0h25v1h-25zm26 0h3v1h-3zm4 0h2v1h-2zm3 0h1v1h-1zm7 0h1v1h-1zm-45 1h1v1h-1zm5 0h2v1h-2zm3 0h21v1h-21zm22 0h2v1h-2zm7 0h1v1h-1zm-42 1h1v1h-1zm3 0h1v1h-1zm8 0h27v1h-27zm28 0h2v1h-2zm4 0h2v1h-2zm6 0h1v1h-1zm-38 1h25v1h-25zm26 0h2v1h-2zm3 0h1v1h-1zm3 0h1v1h-1zm-38 1h1v1h-1zm6 0h7v1h-7zm8 0h10v1h-10zm11 0h11v1h-11zm-30 1h2v1h-2zm4 0h2v1h-2zm4 0h1v1h-1zm2 0h1v1h-1zm2 0h23v1h-23zm26 0h1v1h-1zm2 0h1v1h-1zm2 0h1v1h-1zm2 0h1v1h-1zm2 0h1v1h-1zm-43 1h1v1h-1zm3 0h1v1h-1zm4 0h4v1h-4zm5 0h15v1h-15zm16 0h4v1h-4zm6 0h1v1h-1zm7 0h1v1h-1zm-43 1h1v1h-1zm7 0h1v1h-1zm3 0h1v1h-1zm2 0h20v1h-20zm21 0h3v1h-3zm4 0h1v1h-1zm3 0h2v1h-2zm5 0h1v1h-1zm-41 1h1v1h-1zm3 0h2v1h-2zm3 0h1v1h-1zm2 0h1v1h-1zm2 0h20v1h-20zm25 0h3v1h-3zm6 0h1v1h-1zm-44 1h1v1h-1zm6 0h1v1h-1zm2 0h2v1h-2zm3 0h23v1h-23zm25 0h1v1h-1zm4 0h1v1h-1zm13 0h1v1h-1zm-51 1h1v1h-1zm7 0h24v1h-24zm27 0h1v1h-1zm-28 1h19v1h-19zm20 0h7v1h-7zm8 0h3v1h-3zm-32 1h2v1h-2zm4 0h25v1h-25zm27 0h1v1h-1zm9 0h2v1h-2zm-45 1h2v1h-2zm5 0h1v1h-1zm4 0h1v1h-1zm2 0h19v1h-19zm20 0h7v1h-7zm9 0h2v1h-2zm4 0h1v1h-1zm-41 1h1v1h-1zm2 0h3v1h-3zm5 0h22v1h-22zm23 0h2v1h-2zm3 0h1v1h-1zm4 0h1v1h-1zm-38 1h1v1h-1zm5 0h1v1h-1zm2 0h1v1h-1zm3 0h19v1h-19zm20 0h5v1h-5zm7 0h3v1h-3zm-38 1h2v1h-2zm7 0h1v1h-1zm2 0h1v1h-1zm2 0h24v1h-24zm27 0h2v1h-2zm3 0h1v1h-1zm8 0h1v1h-1zm-50 1h3v1h-3zm6 0h2v1h-2zm4 0h24v1h-24zm25 0h1v1h-1zm2 0h1v1h-1zm3 0h1v1h-1zm-40 1h1v1h-1zm3 0h2v1h-2zm6 0h27v1h-27zm-10 1h1v1h-1zm4 0h1v1h-1zm2 0h1v1h-1zm2 0h1v1h-1zm3 0h25v1h-25zm27 0h3v1h-3zm4 0h1v1h-1zm3 0h1v1h-1zm-41 1h3v1h-3zm7 0h1v1h-1zm2 0h3v1h-3zm4 0h20v1h-20zm29 0h1v1h-1zm-41 1h1v1h-1zm3 0h2v1h-2zm3 0h1v1h-1zm2 0h17v1h-17zm18 0h4v1h-4zm10 0h2v1h-2zm5 0h1v1h-1zm-42 1h1v1h-1zm4 0h2v1h-2zm4 0h5v1h-5zm6 0h16v1h-16zm17 0h1v1h-1zm3 0h1v1h-1zm4 0h2v1h-2zm-39 1h1v1h-1zm2 0h1v1h-1zm2 0h1v1h-1zm3 0h2v1h-2zm3 0h20v1h-20zm21 0h1v1h-1zm4 0h1v1h-1zm4 0h2v1h-2zm-31 1h1v1h-1zm2 0h23v1h-23zm24 0h2v1h-2zm5 0h1v1h-1zm5 0h1v1h-1zm-44 1h1v1h-1zm3 0h1v1h-1zm2 0h1v1h-1zm5 0h17v1h-17zm18 0h4v1h-4zm5 0h1v1h-1zm2 0h1v1h-1zm11 0h1v1h-1zm-44 1h1v1h-1zm2 0h2v1h-2zm3 0h1v1h-1zm2 0h21v1h-21zm24 0h1v1h-1zm3 0h1v1h-1zm2 0h1v1h-1zm-36 1h1v1h-1zm3 0h1v1h-1zm3 0h22v1h-22zm23 0h1v1h-1zm2 0h1v1h-1zm5 0h2v1h-2zm3 0h1v1h-1zm-39 1h1v1h-1zm2 0h7v1h-7zm8 0h18v1h-18zm20 0h1v1h-1zm-35 1h1v1h-1zm2 0h1v1h-1zm5 0h1v1h-1zm3 0h2v1h-2zm3 0h17v1h-17zm18 0h4v1h-4zm6 0h1v1h-1zm2 0h1v1h-1zm-33 1h2v1h-2zm3 0h2v1h-2zm3 0h1v1h-1zm2 0h16v1h-16zm17 0h6v1h-6zm8 0h1v1h-1zm3 0h3v1h-3z" fill="#000"/>
<path d="M152 349h1v1h-1zm18 0h1v1h-1zm6 0h1v1h-1zm4 0h1v1h-1zm-23 1h1v1h-1zm9 0h1v1h-1zm3 0h1v1h-1zm-25 1h1v1h-1zm8 0h1v1h-1zm3 0h1v1h-1zm6 0h1v1h-1zm8 0h1v1h-1zm2 0h1v1h-1zm4 0h1v1h-1zm-26 1h1v1h-1zm4 0h2v1h-2zm3 0h2v1h-2zm3 0h1v1h-1zm5 0h1v1h-1zm14 0h1v1h-1zm4 0h1v1h-1zm-36 1h1v1h-1zm3 0h1v1h-1zm2 0h1v1h-1zm3 0h2v1h-2zm3 0h2v1h-2zm3 0h1v1h-1zm2 0h1v1h-1zm2 0h2v1h-2zm3 0h2v1h-2zm3 0h2v1h-2zm3 0h1v1h-1zm5 0h1v1h-1zm3 0h1v1h-1zm3 0h1v1h-1zm7 0h1v1h-1zm-44 1h4v1h-4zm5 0h2v1h-2zm4 0h3v1h-3zm4 0h1v1h-1zm2 0h1v1h-1zm3 0h1v1h-1zm4 0h1v1h-1zm2 0h2v1h-2zm3 0h1v1h-1zm2 0h1v1h-1zm2 0h2v1h-2zm6 0h2v1h-2zm22 0h1v1h-1zm-62 1h1v1h-1zm2 0h1v1h-1zm6 0h4v1h-4zm5 0h5v1h-5zm6 0h6v1h-6zm7 0h1v1h-1zm3 0h1v1h-1zm2 0h1v1h-1zm3 0h4v1h-4zm5 0h1v1h-1zm3 0h1v1h-1zm3 0h1v1h-1zm3 0h1v1h-1zm8 0h1v1h-1zm-59 1h1v1h-1zm6 0h23v1h-23zm24 0h1v1h-1zm2 0h8v1h-8zm9 0h1v1h-1zm5 0h1v1h-1zm2 0h3v1h-3zm9 0h1v1h-1zm7 0h1v1h-1zm9 0h1v1h-1zm-68 1h25v1h-25zm26 0h11v1h-11zm13 0h1v1h-1zm3 0h2v1h-2zm3 0h2v1h-2zm3 0h1v1h-1zm8 0h2v1h-2zm-54 1h30v1h-30zm31 0h5v1h-5zm7 0h2v1h-2zm4 0h2v1h-2zm3 0h1v1h-1zm7 0h1v1h-1zm11 0h1v1h-1zm-67 1h39v1h-39zm40 0h12v1h-12zm13 0h1v1h-1zm11 0h2v1h-2zm9 0h1v1h-1zm-78 1h2v1h-2zm7 0h44v1h-44zm45 0h3v1h-3zm4 0h2v1h-2zm8 0h1v1h-1zm3 0h1v1h-1zm6 0h1v1h-1zm-65 1h40v1h-40zm42 0h7v1h-7zm15 0h3v1h-3zm4 0h1v1h-1zm3 0h3v1h-3zm4 0h1v1h-1zm-76 1h1v1h-1zm3 0h1v1h-1zm3 0h1v1h-1zm2 0h42v1h-42zm43 0h6v1h-6zm8 0h3v1h-3zm5 0h2v1h-2zm13 0h1v1h-1zm-72 1h1v1h-1zm2 0h36v1h-36zm37 0h3v1h-3zm5 0h4v1h-4zm6 0h1v1h-1zm4 0h3v1h-3zm12 0h1v1h-1zm5 0h2v1h-2zm-71 1h38v1h-38zm40 0h1v1h-1zm2 0h5v1h-5zm6 0h1v1h-1zm2 0h2v1h-2zm4 0h1v1h-1zm3 0h2v1h-2zm5 0h1v1h-1zm2 0h2v1h-2zm3 0h2v1h-2zm3 0h1v1h-1zm-71 1h40v1h-40zm41 0h3v1h-3zm6 0h3v1h-3zm5 0h2v1h-2zm9 0h1v1h-1zm6 0h1v1h-1zm2 0h2v1h-2zm4 0h1v1h-1zm3 0h1v1h-1zm-80 1h1v1h-1zm6 0h2v1h-2zm3 0h35v1h-35zm36 0h5v1h-5zm7 0h2v1h-2zm3 0h1v1h-1zm2 0h2v1h-2zm4 0h3v1h-3zm5 0h1v1h-1zm10 0h1v1h-1zm-70 1h1v1h-1zm2 0h34v1h-34zm35 0h5v1h-5zm6 0h5v1h-5zm12 0h4v1h-4zm6 0h1v1h-1zm3 0h1v1h-1zm4 0h1v1h-1zm5 0h1v1h-1zm-73 1h34v1h-34zm35 0h1v1h-1zm3 0h1v1h-1zm2 0h2v1h-2zm3 0h1v1h-1zm2 0h2v1h-2zm6 0h1v1h-1zm4 0h1v1h-1zm3 0h1v1h-1zm3 0h1v1h-1zm5 0h1v1h-1zm-68 1h1v1h-1zm3 0h33v1h-33zm37 0h1v1h-1zm2 0h1v1h-1zm6 0h2v1h-2zm10 0h1v1h-1zm6 0h1v1h-1zm-62 1h35v1h-35zm36 0h2v1h-2zm8 0h2v1h-2zm16 0h1v1h-1zm5 0h1v1h-1zm-66 1h36v1h-36zm37 0h1v1h-1zm4 0h1v1h-1zm3 0h1v1h-1zm11 0h1v1h-1zm3 0h1v1h-1zm2 0h1v1h-1zm5 0h1v1h-1zm-66 1h1v1h-1zm4 0h31v1h-31zm52 0h1v1h-1zm-54 1h34v1h-34zm57 0h1v1h-1zm-63 1h1v1h-1zm2 0h1v1h-1zm4 0h32v1h-32zm34 0h1v1h-1zm6 0h1v1h-1zm-44 1h1v1h-1zm3 0h1v1h-1zm3 0h31v1h-31zm-3 1h32v1h-32zm-4 1h1v1h-1zm3 0h1v1h-1zm2 0h31v1h-31zm32 0h1v1h-1zm7 0h1v1h-1zm-45 1h1v1h-1zm4 0h1v1h-1zm2 0h31v1h-31zm32 0h1v1h-1zm2 0h1v1h-1zm12 0h1v1h-1zm-48 1h34v1h-34zm-2 1h1v1h-1zm4 0h28v1h-28zm29 0h2v1h-2zm3 0h1v1h-1zm14 0h1v1h-1zm-48 1h1v1h-1zm2 0h31v1h-31zm32 0h1v1h-1zm-33 1h31v1h-31zm-2 1h2v1h-2zm4 0h28v1h-28zm29 0h2v1h-2zm13 0h1v1h-1zm-47 1h32v1h-32zm33 0h3v1h-3zm-31 1h3v1h-3zm4 0h27v1h-27zm28 0h2v1h-2zm-34 1h1v1h-1zm2 0h1v1h-1zm2 0h1v1h-1zm2 0h28v1h-28zm30 0h1v1h-1zm17 0h1v1h-1zm-50 1h1v1h-1zm2 0h29v1h-29zm30 0h1v1h-1zm15 0h1v1h-1zm-50 1h1v1h-1zm3 0h33v1h-33zm35 0h1v1h-1zm-35 1h28v1h-28zm29 0h2v1h-2zm4 0h2v1h-2zm-35 1h1v1h-1zm2 0h31v1h-31zm-2 1h1v1h-1zm2 0h31v1h-31zm-4 1h1v1h-1zm3 0h33v1h-33zm-1 1h1v1h-1zm2 0h29v1h-29zm30 0h2v1h-2zm-31 1h31v1h-31zm41 0h1v1h-1zm-45 1h1v1h-1zm4 0h31v1h-31zm39 0h1v1h-1zm-42 1h1v1h-1zm2 0h31v1h-31zm33 0h1v1h-1zm5 0h1v1h-1zm-41 1h1v1h-1zm4 0h29v1h-29zm37 0h1v1h-1zm-41 1h2v1h-2zm3 0h35v1h-35zm36 0h1v1h-1zm-36 1h1v1h-1zm2 0h30v1h-30zm38 0h1v1h-1zm-41 1h3v1h-3zm4 0h29v1h-29zm44 0h1v1h-1zm-50 1h2v1h-2zm3 0h3v1h-3zm4 0h25v1h-25zm26 0h2v1h-2zm7 0h1v1h-1zm3 0h1v1h-1zm-41 1h1v1h-1zm2 0h1v1h-1zm2 0h26v1h-26zm27 0h1v1h-1zm18 0h1v1h-1zm-47 1h29v1h-29zm30 0h1v1h-1zm7 0h1v1h-1zm2 0h1v1h-1zm-40 1h33v1h-33zm0 1h2v1h-2zm3 0h31v1h-31zm35 0h1v1h-1zm5 0h1v1h-1zm-43 1h30v1h-30zm33 0h1v1h-1zm15 0h1v1h-1zm-49 1h31v1h-31zm32 0h3v1h-3zm13 0h1v1h-1zm-43 1h33v1h-33zm36 0h1v1h-1zm5 0h1v1h-1zm-42 1h31v1h-31zm32 0h1v1h-1zm-35 1h1v1h-1zm4 0h32v1h-32zm52 0h1v1h-1zm-52 1h33v1h-33zm52 0h1v1h-1zm-55 1h1v1h-1zm2 0h33v1h-33zm43 0h1v1h-1zm-44 1h32v1h-32zm35 0h1v1h-1zm8 0h1v1h-1zm5 0h1v1h-1zm-48 1h1v1h-1zm3 0h1v1h-1zm2 0h29v1h-29zm44 0h1v1h-1zm-50 1h1v1h-1zm2 0h32v1h-32zm0 1h31v1h-31zm46 0h1v1h-1zm-48 1h3v1h-3zm5 0h27v1h-27zm35 0h1v1h-1zm-39 1h34v1h-34zm-2 1h1v1h-1zm4 0h30v1h-30zm31 0h1v1h-1zm13 0h1v1h-1zm-43 1h27v1h-27zm28 0h1v1h-1zm-30 1h2v1h-2zm3 0h26v1h-26zm27 0h1v1h-1zm7 0h1v1h-1zm-38 1h33v1h-33zm37 0h1v1h-1zm-37 1h1v1h-1zm2 0h30v1h-30zm-3 1h3v1h-3zm4 0h29v1h-29zm30 0h1v1h-1zm-34 1h31v1h-31zm32 0h3v1h-3z" fill="#000"/>
<path d="M207 434h1v1h-1zm13 0h1v1h-1zm-20 1h1v1h-1zm13 0h1v1h-1zm-20 1h1v1h-1zm8 0h1v1h-1zm15 0h1v1h-1zm2 1h1v1h-1zm-32 1h1v1h-1zm5 0h1v1h-1zm10 0h1v1h-1zm4 0h1v1h-1zm2 0h1v1h-1zm2 0h1v1h-1zm5 0h1v1h-1zm-20 1h1v1h-1zm15 0h1v1h-1zm9 0h1v1h-1zm-45 1h1v1h-1zm6 0h1v1h-1zm4 0h3v1h-3zm5 0h1v1h-1zm4 0h1v1h-1zm9 0h1v1h-1zm15 0h1v1h-1zm4 0h2v1h-2zm-42 1h1v1h-1zm11 0h1v1h-1zm2 0h1v1h-1zm2 0h1v1h-1zm5 0h1v1h-1zm6 0h1v1h-1zm2 0h1v1h-1zm4 0h1v1h-1zm7 0h1v1h-1zm-37 1h2v1h-2zm3 0h1v1h-1zm7 0h1v1h-1zm2 0h1v1h-1zm3 0h4v1h-4zm5 0h1v1h-1zm2 0h1v1h-1zm2 0h1v1h-1zm4 0h1v1h-1zm-39 1h1v1h-1zm6 0h1v1h-1zm8 0h4v1h-4zm6 0h2v1h-2zm3 0h1v1h-1zm4 0h4v1h-4zm8 0h2v1h-2zm3 0h2v1h-2zm3 0h2v1h-2zm7 0h1v1h-1zm2 0h1v1h-1zm-51 1h1v1h-1zm2 0h1v1h-1zm4 0h1v1h-1zm2 0h2v1h-2zm6 0h1v1h-1zm3 0h1v1h-1zm2 0h1v1h-1zm2 0h7v1h-7zm8 0h4v1h-4zm6 0h2v1h-2zm6 0h2v1h-2zm3 0h1v1h-1zm2 0h2v1h-2zm-46 1h1v1h-1zm2 0h1v1h-1zm3 0h1v1h-1zm6 0h3v1h-3zm8 0h2v1h-2zm3 0h2v1h-2zm3 0h1v1h-1zm2 0h7v1h-7zm8 0h6v1h-6zm10 0h1v1h-1zm3 0h2v1h-2zm3 0h1v1h-1zm-52 1h1v1h-1zm2 0h1v1h-1zm3 0h2v1h-2zm5 0h2v1h-2zm5 0h2v1h-2zm4 0h1v1h-1zm3 0h2v1h-2zm4 0h5v1h-5zm6 0h11v1h-11zm12 0h2v1h-2zm11 0h1v1h-1zm-54 1h1v1h-1zm5 0h1v1h-1zm5 0h1v1h-1zm4 0h1v1h-1zm2 0h1v1h-1zm2 0h2v1h-2zm3 0h8v1h-8zm9 0h3v1h-3zm5 0h4v1h-4zm-43 1h1v1h-1zm7 0h1v1h-1zm4 0h3v1h-3zm4 0h3v1h-3zm5 0h2v1h-2zm6 0h2v1h-2zm3 0h2v1h-2zm4 0h5v1h-5zm6 0h2v1h-2zm4 0h1v1h-1zm3 0h2v1h-2zm5 0h1v1h-1zm5 0h1v1h-1zm-54 1h1v1h-1zm11 0h1v1h-1zm3 0h2v1h-2zm3 0h1v1h-1zm2 0h1v1h-1zm2 0h4v1h-4zm5 0h3v1h-3zm4 0h6v1h-6zm7 0h4v1h-4zm5 0h2v1h-2zm5 0h1v1h-1zm-45 1h1v1h-1zm5 0h1v1h-1zm3 0h1v1h-1zm2 0h3v1h-3zm4 0h7v1h-7zm10 0h4v1h-4zm5 0h2v1h-2zm3 0h2v1h-2zm3 0h3v1h-3zm8 0h1v1h-1zm3 0h1v1h-1zm-44 1h1v1h-1zm5 0h8v1h-8zm9 0h2v1h-2zm4 0h3v1h-3zm5 0h4v1h-4zm5 0h1v1h-1zm2 0h5v1h-5zm9 0h2v1h-2zm-44 1h1v1h-1zm2 0h4v1h-4zm5 0h1v1h-1zm3 0h1v1h-1zm2 0h3v1h-3zm5 0h5v1h-5zm7 0h3v1h-3zm4 0h1v1h-1zm3 0h2v1h-2zm5 0h1v1h-1zm3 0h1v1h-1zm3 0h1v1h-1zm-42 1h1v1h-1zm3 0h2v1h-2zm4 0h7v1h-7zm8 0h1v1h-1zm2 0h5v1h-5zm7 0h1v1h-1zm2 0h1v1h-1zm3 0h2v1h-2zm4 0h4v1h-4zm5 0h1v1h-1zm7 0h1v1h-1zm-55 1h1v1h-1zm4 0h1v1h-1zm4 0h1v1h-1zm3 0h2v1h-2zm3 0h3v1h-3zm4 0h2v1h-2zm4 0h4v1h-4zm5 0h1v1h-1zm3 0h8v1h-8zm9 0h3v1h-3zm4 0h2v1h-2zm3 0h1v1h-1zm5 0h1v1h-1zm5 0h1v1h-1zm-53 1h1v1h-1zm7 0h1v1h-1zm6 0h2v1h-2zm3 0h8v1h-8zm9 0h7v1h-7zm9 0h6v1h-6zm10 0h1v1h-1zm-43 1h1v1h-1zm3 0h1v1h-1zm3 0h1v1h-1zm2 0h1v1h-1zm2 0h4v1h-4zm12 0h1v1h-1zm2 0h2v1h-2zm3 0h1v1h-1zm4 0h2v1h-2zm7 0h2v1h-2zm-43 1h1v1h-1zm6 0h1v1h-1zm4 0h1v1h-1zm4 0h1v1h-1zm2 0h12v1h-12zm13 0h1v1h-1zm3 0h9v1h-9zm11 0h1v1h-1zm-33 1h1v1h-1zm2 0h3v1h-3zm5 0h6v1h-6zm7 0h15v1h-15zm19 0h1v1h-1zm3 0h1v1h-1zm4 0h1v1h-1zm-44 1h1v1h-1zm2 0h2v1h-2zm3 0h9v1h-9zm10 0h6v1h-6zm7 0h7v1h-7zm8 0h2v1h-2zm5 0h1v1h-1zm2 0h2v1h-2zm7 0h1v1h-1zm-43 1h1v1h-1zm2 0h1v1h-1zm3 0h2v1h-2zm3 0h14v1h-14zm15 0h6v1h-6zm9 0h1v1h-1zm2 0h1v1h-1zm4 0h2v1h-2zm3 0h1v1h-1zm-51 1h1v1h-1zm7 0h1v1h-1zm3 0h2v1h-2zm3 0h27v1h-27zm30 0h2v1h-2zm5 0h1v1h-1zm2 0h1v1h-1zm-40 1h2v1h-2zm3 0h1v1h-1zm2 0h23v1h-23zm25 0h4v1h-4zm5 0h1v1h-1zm-49 1h1v1h-1zm6 0h1v1h-1zm4 0h2v1h-2zm5 0h2v1h-2zm3 0h21v1h-21zm22 0h2v1h-2zm4 0h1v1h-1zm-31 1h1v1h-1zm3 0h24v1h-24zm28 0h1v1h-1zm4 0h3v1h-3zm6 0h1v1h-1zm-38 1h14v1h-14zm15 0h5v1h-5zm6 0h1v1h-1zm2 0h1v1h-1zm2 0h1v1h-1zm2 0h2v1h-2zm-35 1h1v1h-1zm5 0h28v1h-28zm29 0h2v1h-2zm3 0h2v1h-2zm5 0h1v1h-1zm-36 1h5v1h-5zm6 0h18v1h-18zm22 0h1v1h-1zm3 0h2v1h-2zm3 0h1v1h-1zm-44 1h1v1h-1zm3 0h1v1h-1zm2 0h4v1h-4zm5 0h24v1h-24zm25 0h1v1h-1zm5 0h2v1h-2zm-41 1h2v1h-2zm9 0h3v1h-3zm4 0h9v1h-9zm10 0h13v1h-13zm14 0h1v1h-1zm2 0h2v1h-2zm4 0h1v1h-1zm-42 1h1v1h-1zm3 0h1v1h-1zm2 0h1v1h-1zm2 0h13v1h-13zm14 0h7v1h-7zm8 0h5v1h-5zm9 0h1v1h-1zm-41 1h1v1h-1zm4 0h2v1h-2zm5 0h2v1h-2zm3 0h2v1h-2zm3 0h6v1h-6zm7 0h17v1h-17zm20 0h1v1h-1zm-43 1h2v1h-2zm3 0h2v1h-2zm3 0h1v1h-1zm4 0h2v1h-2zm4 0h11v1h-11zm12 0h13v1h-13zm14 0h2v1h-2zm7 0h1v1h-1zm-44 1h1v1h-1zm3 0h2v1h-2zm4 0h22v1h-22zm23 0h2v1h-2zm3 0h3v1h-3zm5 0h2v1h-2zm5 0h1v1h-1zm-46 1h1v1h-1zm3 0h1v1h-1zm3 0h1v1h-1zm4 0h24v1h-24zm25 0h3v1h-3zm4 0h1v1h-1zm4 0h1v1h-1zm4 0h1v1h-1zm-51 1h1v1h-1zm8 0h1v1h-1zm4 0h28v1h-28zm30 0h1v1h-1zm2 0h1v1h-1zm2 0h1v1h-1zm5 0h1v1h-1zm-45 1h1v1h-1zm2 0h1v1h-1zm3 0h1v1h-1zm2 0h1v1h-1zm2 0h2v1h-2zm3 0h16v1h-16zm17 0h6v1h-6zm9 0h1v1h-1zm-41 1h1v1h-1zm7 0h1v1h-1zm2 0h27v1h-27zm29 0h1v1h-1zm2 0h2v1h-2zm3 0h1v1h-1zm-46 1h1v1h-1zm4 0h3v1h-3zm7 0h1v1h-1zm2 0h6v1h-6zm7 0h12v1h-12zm13 0h5v1h-5zm6 0h1v1h-1zm2 0h1v1h-1zm5 0h1v1h-1zm-41 1h1v1h-1zm3 0h1v1h-1zm2 0h1v1h-1zm4 0h2v1h-2zm3 0h21v1h-21zm28 0h3v1h-3zm4 0h1v1h-1zm-43 1h1v1h-1zm5 0h1v1h-1zm2 0h3v1h-3zm4 0h21v1h-21zm22 0h1v1h-1zm8 0h1v1h-1zm-43 1h2v1h-2zm3 0h1v1h-1zm3 0h23v1h-23zm24 0h2v1h-2zm3 0h2v1h-2zm5 0h1v1h-1zm2 0h1v1h-1zm2 0h1v1h-1zm-39 1h1v1h-1zm3 0h1v1h-1zm2 0h20v1h-20zm21 0h5v1h-5zm6 0h1v1h-1zm6 0h1v1h-1zm4 0h1v1h-1zm4 0h1v1h-1zm-49 1h1v1h-1zm2 0h3v1h-3zm4 0h29v1h-29zm30 0h1v1h-1zm2 0h3v1h-3zm4 0h1v1h-1zm3 0h1v1h-1zm-45 1h1v1h-1zm3 0h3v1h-3zm4 0h29v1h-29zm-10 1h2v1h-2zm3 0h1v1h-1zm2 0h2v1h-2zm6 0h5v1h-5zm6 0h13v1h-13zm14 0h7v1h-7zm9 0h1v1h-1zm2 0h1v1h-1zm3 0h2v1h-2zm-43 1h1v1h-1zm2 0h1v1h-1zm5 0h2v1h-2zm3 0h24v1h-24zm25 0h2v1h-2zm3 0h1v1h-1zm-37 1h2v1h-2zm4 0h1v1h-1zm3 0h27v1h-27zm32 0h1v1h-1zm6 0h1v1h-1zm-44 1h1v1h-1zm3 0h8v1h-8zm9 0h18v1h-18zm20 0h1v1h-1zm2 0h2v1h-2zm5 0h1v1h-1zm7 0h1v1h-1zm-50 1h1v1h-1zm3 0h2v1h-2zm6 0h25v1h-25zm26 0h7v1h-7zm9 0h1v1h-1zm-43 1h3v1h-3zm4 0h1v1h-1zm4 0h28v1h-28zm30 0h1v1h-1zm-38 1h1v1h-1zm3 0h1v1h-1zm4 0h1v1h-1zm3 0h22v1h-22zm23 0h2v1h-2zm3 0h1v1h-1zm2 0h1v1h-1zm2 0h1v1h-1zm-38 1h1v1h-1zm4 0h2v1h-2zm3 0h21v1h-21zm22 0h1v1h-1zm2 0h3v1h-3zm4 0h3v1h-3zm11 0h1v1h-1zm-46 1h2v1h-2zm8 0h24v1h-24zm25 0h2v1h-2zm5 0h2v1h-2zm4 0h1v1h-1zm-46 1h1v1h-1zm2 0h3v1h-3zm4 0h1v1h-1zm2 0h1v1h-1zm4 0h20v1h-20zm21 0h3v1h-3zm5 0h1v1h-1zm2 0h1v1h-1zm3 0h1v1h-1zm-42 1h1v1h-1zm5 0h1v1h-1zm3 0h28v1h-28zm30 0h1v1h-1zm5 0h2v1h-2zm-41 1h1v1h-1zm3 0h3v1h-3zm4 0h1v1h-1zm2 0h17v1h-17zm18 0h3v1h-3zm4 0h3v1h-3zm4 0h2v1h-2zm5 0h2v1h-2zm-39 1h1v1h-1zm2 0h1v1h-1zm2 0h25v1h-25zm26 0h1v1h-1zm3 0h1v1h-1zm2 0h1v1h-1zm2 0h1v1h-1zm3 0h1v1h-1zm-44 1h2v1h-2zm7 0h2v1h-2zm3 0h25v1h-25zm26 0h2v1h-2zm3 0h1v1h-1zm3 0h2v1h-2zm3 0h1v1h-1zm-38 1h28v1h-28zm29 0h3v1h-3zm7 0h1v1h-1zm2 0h1v1h-1zm-45 1h1v1h-1zm8 0h25v1h-25zm26 0h3v1h-3zm5 0h1v1h-1zm11 0h1v1h-1zm-49 1h1v1h-1zm4 0h2v1h-2zm3 0h2v1h-2zm3 0h1v1h-1zm2 0h1v1h-1zm2 0h18v1h-18zm19 0h2v1h-2zm6 0h2v1h-2zm4 0h1v1h-1zm-40 1h1v1h-1zm3 0h1v1h-1zm2 0h2v1h-2zm3 0h22v1h-22zm23 0h3v1h-3zm9 0h1v1h-1zm4 0h2v1h-2zm-43 1h1v1h-1zm3 0h1v1h-1zm4 0h1v1h-1zm2 0h22v1h-22zm26 0h1v1h-1zm5 0h1v1h-1zm-45 1h1v1h-1zm3 0h1v1h-1zm5 0h21v1h-21zm22 0h3v1h-3zm4 0h3v1h-3zm4 0h1v1h-1zm3 0h1v1h-1zm2 0h2v1h-2zm-43 1h2v1h-2zm4 0h2v1h-2zm4 0h1v1h-1zm3 0h24v1h-24zm26 0h1v1h-1zm2 0h2v1h-2zm-34 1h1v1h-1zm3 0h5v1h-5zm6 0h15v1h-15zm16 0h5v1h-5zm6 0h1v1h-1zm4 0h1v1h-1zm-38 1h1v1h-1zm3 0h1v1h-1zm3 0h2v1h-2zm3 0h24v1h-24zm25 0h1v1h-1zm2 0h1v1h-1zm-34 1h1v1h-1zm3 0h2v1h-2zm3 0h2v1h-2zm3 0h16v1h-16zm17 0h4v1h-4zm5 0h1v1h-1zm2 0h1v1h-1zm2 0h1v1h-1zm3 0h2v1h-2zm-40 1h1v1h-1zm4 0h1v1h-1zm5 0h3v1h-3zm4 0h2v1h-2zm3 0h16v1h-16zm17 0h1v1h-1zm2 0h1v1h-1zm4 0h1v1h-1zm6 0h1v1h-1zm-47 1h1v1h-1zm4 0h1v1h-1zm3 0h2v1h-2zm5 0h1v1h-1zm2 0h16v1h-16zm17 0h5v1h-5zm8 0h2v1h-2zm-34 1h2v1h-2zm3 0h2v1h-2zm3 0h24v1h-24zm25 0h3v1h-3zm4 0h1v1h-1zm-38 1h1v1h-1zm3 0h4v1h-4zm5 0h26v1h-26zm27 0h1v1h-1zm4 0h2v1h-2zm3 0h1v1h-1zm-37 1h1v1h-1zm4 0h18v1h-18zm19 0h9v1h-9zm14 0h1v1h-1zm6 0h1v1h-1zm-47 1h1v1h-1zm3 0h3v1h-3zm6 0h19v1h-19zm20 0h3v1h-3zm6 0h1v1h-1zm5 0h1v1h-1zm-41 1h1v1h-1zm2 0h1v1h-1zm5 0h1v1h-1zm2 0h24v1h-24zm-5 1h1v1h-1zm3 0h1v1h-1zm2 0h4v1h-4zm5 0h18v1h-18zm19 0h1v1h-1zm4 0h1v1h-1zm3 0h1v1h-1zm2 0h1v1h-1zm-39 1h1v1h-1zm2 0h1v1h-1zm6 0h19v1h-19zm21 0h1v1h-1zm3 0h1v1h-1zm6 0h1v1h-1z" fill="#000"/>
<path d="M258 349h1v1h-1zm-27 1h2v1h-2zm7 0h1v1h-1zm2 0h1v1h-1zm9 0h1v1h-1zm2 0h2v1h-2zm9 0h2v1h-2zm3 0h1v1h-1zm-21 1h1v1h-1zm3 0h1v1h-1zm11 0h2v1h-2zm3 0h2v1h-2zm4 0h1v1h-1zm-22 1h3v1h-3zm5 0h1v1h-1zm2 0h8v1h-8zm10 0h1v1h-1zm3 0h2v1h-2zm5 0h1v1h-1zm3 0h1v1h-1zm13 0h1v1h-1zm-51 1h1v1h-1zm4 0h1v1h-1zm5 0h1v1h-1zm2 0h2v1h-2zm3 0h1v1h-1zm2 0h4v1h-4zm5 0h6v1h-6zm8 0h1v1h-1zm2 0h1v1h-1zm2 0h2v1h-2zm4 0h1v1h-1zm2 0h1v1h-1zm2 0h1v1h-1zm9 0h1v1h-1zm16 0h1v1h-1zm-67 1h1v1h-1zm7 0h1v1h-1zm2 0h10v1h-10zm11 0h16v1h-16zm17 0h1v1h-1zm3 0h2v1h-2zm5 0h1v1h-1zm9 0h1v1h-1zm-46 1h3v1h-3zm4 0h28v1h-28zm29 0h1v1h-1zm2 0h2v1h-2zm3 0h1v1h-1zm5 0h1v1h-1zm6 0h1v1h-1zm-58 1h1v1h-1zm8 0h33v1h-33zm34 0h1v1h-1zm3 0h5v1h-5zm7 0h1v1h-1zm7 0h3v1h-3zm12 0h1v1h-1zm-67 1h1v1h-1zm4 0h39v1h-39zm40 0h1v1h-1zm2 0h1v1h-1zm2 0h1v1h-1zm3 0h1v1h-1zm3 0h1v1h-1zm4 0h1v1h-1zm3 0h1v1h-1zm-65 1h1v1h-1zm3 0h1v1h-1zm3 0h46v1h-46zm50 0h1v1h-1zm3 0h1v1h-1zm2 0h2v1h-2zm3 0h1v1h-1zm-64 1h1v1h-1zm6 0h40v1h-40zm44 0h2v1h-2zm3 0h1v1h-1zm5 0h1v1h-1zm2 0h1v1h-1zm3 0h1v1h-1zm3 0h1v1h-1zm2 0h2v1h-2zm-67 1h1v1h-1zm2 0h1v1h-1zm3 0h36v1h-36zm40 0h2v1h-2zm3 0h3v1h-3zm5 0h2v1h-2zm7 0h1v1h-1zm3 0h3v1h-3zm4 0h2v1h-2zm-64 1h1v1h-1zm3 0h39v1h-39zm40 0h4v1h-4zm10 0h4v1h-4zm6 0h2v1h-2zm7 0h1v1h-1zm-69 1h1v1h-1zm2 0h1v1h-1zm2 0h2v1h-2zm3 0h35v1h-35zm36 0h4v1h-4zm5 0h1v1h-1zm2 0h1v1h-1zm6 0h1v1h-1zm2 0h2v1h-2zm7 0h1v1h-1zm8 0h1v1h-1zm-71 1h2v1h-2zm3 0h32v1h-32zm33 0h4v1h-4zm5 0h3v1h-3zm4 0h5v1h-5zm6 0h1v1h-1zm4 0h1v1h-1zm5 0h1v1h-1zm6 0h1v1h-1zm-62 1h35v1h-35zm36 0h4v1h-4zm6 0h3v1h-3zm4 0h5v1h-5zm9 0h1v1h-1zm6 0h2v1h-2zm-64 1h1v1h-1zm3 0h34v1h-34zm35 0h2v1h-2zm3 0h5v1h-5zm8 0h1v1h-1zm7 0h1v1h-1zm3 0h1v1h-1zm2 0h1v1h-1zm2 0h1v1h-1zm6 0h1v1h-1zm-73 1h2v1h-2zm4 0h1v1h-1zm2 0h31v1h-31zm32 0h3v1h-3zm4 0h1v1h-1zm2 0h2v1h-2zm3 0h2v1h-2zm4 0h2v1h-2zm6 0h2v1h-2zm4 0h1v1h-1zm4 0h1v1h-1zm3 0h1v1h-1zm-68 1h2v1h-2zm6 0h29v1h-29zm31 0h2v1h-2zm4 0h2v1h-2zm3 0h1v1h-1zm3 0h1v1h-1zm9 0h1v1h-1zm3 0h2v1h-2zm3 0h1v1h-1zm4 0h2v1h-2zm3 0h2v1h-2zm-67 1h1v1h-1zm6 0h27v1h-27zm29 0h1v1h-1zm3 0h3v1h-3zm15 0h1v1h-1zm3 0h1v1h-1zm6 0h1v1h-1zm-62 1h1v1h-1zm2 0h2v1h-2zm3 0h30v1h-30zm34 0h1v1h-1zm6 0h1v1h-1zm8 0h1v1h-1zm2 0h1v1h-1zm-57 1h1v1h-1zm5 0h28v1h-28zm29 0h3v1h-3zm8 0h1v1h-1zm26 0h1v1h-1zm2 0h1v1h-1zm-66 1h1v1h-1zm3 0h1v1h-1zm2 0h26v1h-26zm27 0h1v1h-1zm2 0h1v1h-1zm15 0h1v1h-1zm-53 1h1v1h-1zm6 0h27v1h-27zm54 0h1v1h-1zm-59 1h2v1h-2zm4 0h1v1h-1zm2 0h27v1h-27zm-4 1h1v1h-1zm3 0h28v1h-28zm29 0h2v1h-2zm3 0h1v1h-1zm4 0h1v1h-1zm-41 1h1v1h-1zm2 0h1v1h-1zm3 0h28v1h-28zm29 0h1v1h-1zm9 0h1v1h-1zm-39 1h1v1h-1zm2 0h27v1h-27zm28 0h3v1h-3zm-35 1h1v1h-1zm6 0h29v1h-29zm30 0h1v1h-1zm3 0h1v1h-1zm-37 1h1v1h-1zm5 0h27v1h-27zm28 0h2v1h-2zm-34 1h1v1h-1zm4 0h2v1h-2zm3 0h25v1h-25zm27 0h1v1h-1zm5 0h1v1h-1zm6 0h1v1h-1zm-43 1h1v1h-1zm3 0h31v1h-31zm32 0h2v1h-2zm-34 1h1v1h-1zm4 0h24v1h-24zm25 0h3v1h-3zm4 0h3v1h-3zm5 0h1v1h-1zm3 0h1v1h-1zm-44 1h1v1h-1zm4 0h2v1h-2zm4 0h25v1h-25zm28 0h1v1h-1zm3 0h1v1h-1zm2 0h1v1h-1zm3 0h1v1h-1zm5 0h1v1h-1zm-46 1h1v1h-1zm2 0h1v1h-1zm2 0h26v1h-26zm31 0h1v1h-1zm-32 1h25v1h-25zm26 0h2v1h-2zm3 0h1v1h-1zm-35 1h1v1h-1zm4 0h27v1h-27zm28 0h1v1h-1zm8 0h1v1h-1zm13 0h1v1h-1zm-54 1h1v1h-1zm5 0h27v1h-27zm31 0h1v1h-1zm2 0h1v1h-1zm2 0h1v1h-1zm2 0h1v1h-1zm-39 1h3v1h-3zm4 0h25v1h-25zm26 0h1v1h-1zm10 0h1v1h-1zm11 0h1v1h-1zm-54 1h1v1h-1zm2 0h1v1h-1zm4 0h1v1h-1zm2 0h27v1h-27zm28 0h1v1h-1zm2 0h1v1h-1zm3 0h1v1h-1zm8 0h1v1h-1zm4 0h1v1h-1zm-51 1h1v1h-1zm2 0h1v1h-1zm2 0h1v1h-1zm2 0h25v1h-25zm29 0h1v1h-1zm-36 1h1v1h-1zm2 0h1v1h-1zm2 0h28v1h-28zm30 0h1v1h-1zm3 0h1v1h-1zm2 0h2v1h-2zm-39 1h1v1h-1zm5 0h25v1h-25zm26 0h2v1h-2zm3 0h1v1h-1zm3 0h2v1h-2zm12 0h1v1h-1zm-46 1h2v1h-2zm3 0h1v1h-1zm2 0h22v1h-22zm23 0h2v1h-2zm3 0h2v1h-2zm3 0h1v1h-1zm2 0h1v1h-1zm10 0h1v1h-1zm-44 1h28v1h-28zm30 0h2v1h-2zm4 0h1v1h-1zm11 0h1v1h-1zm-48 1h1v1h-1zm3 0h1v1h-1zm2 0h23v1h-23zm24 0h4v1h-4zm5 0h1v1h-1zm2 0h1v1h-1zm5 0h1v1h-1zm-43 1h1v1h-1zm6 0h27v1h-27zm28 0h1v1h-1zm4 0h2v1h-2zm-36 1h1v1h-1zm4 0h24v1h-24zm25 0h3v1h-3zm6 0h2v1h-2zm5 0h1v1h-1zm10 0h1v1h-1zm-53 1h2v1h-2zm5 0h27v1h-27zm31 0h1v1h-1zm2 0h1v1h-1zm3 0h1v1h-1zm-39 1h1v1h-1zm2 0h1v1h-1zm2 0h28v1h-28zm30 0h1v1h-1zm4 0h1v1h-1zm2 0h1v1h-1zm-41 1h1v1h-1zm6 0h26v1h-26zm27 0h1v1h-1zm3 0h2v1h-2zm11 0h1v1h-1zm-41 1h26v1h-26zm27 0h1v1h-1zm5 0h1v1h-1zm-35 1h1v1h-1zm2 0h26v1h-26zm27 0h1v1h-1zm4 0h1v1h-1zm-37 1h1v1h-1zm3 0h1v1h-1zm4 0h24v1h-24zm25 0h1v1h-1zm4 0h1v1h-1zm12 0h1v1h-1zm-42 1h28v1h-28zm29 0h1v1h-1zm2 0h1v1h-1zm4 0h1v1h-1zm-41 1h1v1h-1zm2 0h2v1h-2zm4 0h1v1h-1zm2 0h25v1h-25zm27 0h2v1h-2zm13 0h1v1h-1zm-41 1h22v1h-22zm25 0h4v1h-4zm15 0h1v1h-1zm-47 1h1v1h-1zm3 0h1v1h-1zm5 0h22v1h-22zm23 0h3v1h-3zm4 0h1v1h-1zm2 0h1v1h-1zm4 0h1v1h-1zm-41 1h1v1h-1zm7 0h25v1h-25zm26 0h2v1h-2zm3 0h2v1h-2zm6 0h1v1h-1zm-42 1h1v1h-1zm4 0h25v1h-25zm26 0h2v1h-2zm4 0h2v1h-2zm9 0h1v1h-1zm7 0h1v1h-1zm-45 1h3v1h-3zm4 0h22v1h-22zm23 0h1v1h-1zm2 0h2v1h-2zm3 0h1v1h-1zm-32 1h25v1h-25zm26 0h1v1h-1zm2 0h1v1h-1zm3 0h4v1h-4zm-34 1h1v1h-1zm2 0h27v1h-27zm28 0h3v1h-3zm7 0h1v1h-1zm-35 1h28v1h-28zm29 0h2v1h-2zm3 0h1v1h-1zm3 0h1v1h-1zm7 0h1v1h-1zm-46 1h1v1h-1zm3 0h1v1h-1zm2 0h26v1h-26zm27 0h2v1h-2zm14 0h1v1h-1zm-46 1h1v1h-1zm4 0h1v1h-1zm3 0h26v1h-26zm27 0h1v1h-1zm-34 1h2v1h-2zm5 0h1v1h-1zm2 0h24v1h-24zm26 0h1v1h-1zm2 0h1v1h-1zm-30 1h27v1h-27zm0 1h27v1h-27zm-5 1h2v1h-2zm4 0h1v1h-1zm2 0h26v1h-26zm37 0h1v1h-1zm-40 1h1v1h-1zm2 0h1v1h-1zm2 0h22v1h-22zm23 0h4v1h-4zm-30 1h1v1h-1zm4 0h1v1h-1zm2 0h26v1h-26zm-6 1h1v1h-1zm5 0h28v1h-28zm29 0h1v1h-1zm11 0h1v1h-1zm-42 1h1v1h-1zm3 0h26v1h-26zm-4 1h1v1h-1zm3 0h24v1h-24zm25 0h2v1h-2zm-26 1h1v1h-1zm4 0h25v1h-25zm-5 1h1v1h-1zm3 0h1v1h-1zm2 0h25v1h-25z" fill="#000"/>
<path d="M283 438h1v1h-1zm-2 1h1v1h-1zm14 0h1v1h-1zm-35 1h2v1h-2zm7 0h1v1h-1zm11 0h1v1h-1zm10 0h2v1h-2zm6 0h1v1h-1zm9 0h1v1h-1zm2 0h1v1h-1zm-33 1h1v1h-1zm26 0h1v1h-1zm-42 1h2v1h-2zm5 0h1v1h-1zm19 0h1v1h-1zm2 0h1v1h-1zm12 0h1v1h-1zm2 0h1v1h-1zm-44 1h1v1h-1zm17 0h3v1h-3zm6 0h1v1h-1zm-21 1h1v1h-1zm6 0h2v1h-2zm3 0h2v1h-2zm5 0h1v1h-1zm2 0h1v1h-1zm10 0h1v1h-1zm2 0h1v1h-1zm4 0h1v1h-1zm4 0h1v1h-1zm6 0h1v1h-1zm4 0h1v1h-1zm2 0h1v1h-1zm-59 1h1v1h-1zm13 0h2v1h-2zm7 0h5v1h-5zm6 0h1v1h-1zm6 0h2v1h-2zm9 0h1v1h-1zm3 0h1v1h-1zm2 0h3v1h-3zm6 0h1v1h-1zm2 0h1v1h-1zm4 0h1v1h-1zm-52 1h1v1h-1zm4 0h1v1h-1zm8 0h2v1h-2zm14 0h3v1h-3zm4 0h1v1h-1zm2 0h1v1h-1zm2 0h1v1h-1zm2 0h1v1h-1zm5 0h1v1h-1zm2 0h1v1h-1zm8 0h1v1h-1zm-58 1h1v1h-1zm12 0h1v1h-1zm8 0h2v1h-2zm3 0h1v1h-1zm2 0h1v1h-1zm3 0h2v1h-2zm5 0h1v1h-1zm2 0h1v1h-1zm3 0h1v1h-1zm3 0h3v1h-3zm5 0h2v1h-2zm3 0h1v1h-1zm4 0h2v1h-2zm3 0h2v1h-2zm-44 1h1v1h-1zm2 0h2v1h-2zm4 0h1v1h-1zm3 0h1v1h-1zm2 0h1v1h-1zm5 0h1v1h-1zm3 0h1v1h-1zm2 0h1v1h-1zm5 0h6v1h-6zm8 0h1v1h-1zm-38 1h1v1h-1zm2 0h1v1h-1zm4 0h2v1h-2zm4 0h5v1h-5zm6 0h2v1h-2zm3 0h1v1h-1zm3 0h1v1h-1zm5 0h4v1h-4zm5 0h3v1h-3zm4 0h1v1h-1zm2 0h3v1h-3zm4 0h1v1h-1zm-45 1h1v1h-1zm4 0h2v1h-2zm3 0h1v1h-1zm3 0h1v1h-1zm2 0h1v1h-1zm3 0h1v1h-1zm2 0h2v1h-2zm4 0h1v1h-1zm2 0h1v1h-1zm2 0h4v1h-4zm6 0h1v1h-1zm3 0h1v1h-1zm4 0h4v1h-4zm8 0h1v1h-1zm5 0h2v1h-2zm-51 1h3v1h-3zm9 0h1v1h-1zm3 0h2v1h-2zm4 0h2v1h-2zm5 0h2v1h-2zm3 0h1v1h-1zm2 0h1v1h-1zm4 0h3v1h-3zm7 0h2v1h-2zm3 0h1v1h-1zm3 0h1v1h-1zm2 0h1v1h-1zm3 0h1v1h-1zm-50 1h4v1h-4zm8 0h1v1h-1zm2 0h1v1h-1zm2 0h2v1h-2zm3 0h1v1h-1zm2 0h4v1h-4zm5 0h2v1h-2zm3 0h2v1h-2zm4 0h1v1h-1zm2 0h2v1h-2zm3 0h4v1h-4zm5 0h1v1h-1zm5 0h1v1h-1zm3 0h1v1h-1zm-49 1h1v1h-1zm4 0h4v1h-4zm5 0h2v1h-2zm10 0h1v1h-1zm3 0h3v1h-3zm5 0h1v1h-1zm2 0h2v1h-2zm3 0h4v1h-4zm7 0h1v1h-1zm3 0h1v1h-1zm4 0h2v1h-2zm3 0h1v1h-1zm-42 1h3v1h-3zm4 0h1v1h-1zm2 0h2v1h-2zm3 0h1v1h-1zm2 0h5v1h-5zm6 0h4v1h-4zm6 0h3v1h-3zm6 0h6v1h-6zm9 0h1v1h-1zm6 0h2v1h-2zm-46 1h1v1h-1zm2 0h1v1h-1zm2 0h2v1h-2zm5 0h1v1h-1zm7 0h2v1h-2zm4 0h3v1h-3zm6 0h1v1h-1zm2 0h2v1h-2zm3 0h2v1h-2zm4 0h2v1h-2zm-47 1h1v1h-1zm4 0h2v1h-2zm4 0h2v1h-2zm6 0h4v1h-4zm5 0h2v1h-2zm3 0h1v1h-1zm5 0h1v1h-1zm2 0h3v1h-3zm4 0h2v1h-2zm3 0h6v1h-6zm7 0h4v1h-4zm9 0h1v1h-1zm-41 1h3v1h-3zm4 0h1v1h-1zm2 0h1v1h-1zm2 0h2v1h-2zm3 0h3v1h-3zm6 0h7v1h-7zm9 0h4v1h-4zm15 0h1v1h-1zm-45 1h1v1h-1zm9 0h1v1h-1zm2 0h1v1h-1zm2 0h1v1h-1zm2 0h1v1h-1zm4 0h1v1h-1zm3 0h1v1h-1zm3 0h1v1h-1zm3 0h2v1h-2zm4 0h1v1h-1zm2 0h2v1h-2zm3 0h1v1h-1zm6 0h1v1h-1zm-51 1h1v1h-1zm8 0h1v1h-1zm2 0h1v1h-1zm10 0h2v1h-2zm3 0h2v1h-2zm5 0h2v1h-2zm3 0h1v1h-1zm3 0h1v1h-1zm2 0h1v1h-1zm2 0h3v1h-3zm4 0h1v1h-1zm5 0h1v1h-1zm3 0h1v1h-1zm3 0h1v1h-1zm2 0h1v1h-1zm-45 1h1v1h-1zm2 0h1v1h-1zm2 0h1v1h-1zm2 0h1v1h-1zm2 0h1v1h-1zm3 0h1v1h-1zm5 0h1v1h-1zm3 0h1v1h-1zm5 0h1v1h-1zm2 0h1v1h-1zm2 0h2v1h-2zm3 0h1v1h-1zm-30 1h5v1h-5zm6 0h4v1h-4zm5 0h1v1h-1zm2 0h1v1h-1zm4 0h1v1h-1zm2 0h4v1h-4zm5 0h1v1h-1zm2 0h4v1h-4zm7 0h1v1h-1zm3 0h1v1h-1zm7 0h1v1h-1zm-47 1h1v1h-1zm4 0h3v1h-3zm6 0h1v1h-1zm4 0h4v1h-4zm6 0h1v1h-1zm3 0h4v1h-4zm6 0h1v1h-1zm7 0h1v1h-1zm7 0h1v1h-1zm3 0h1v1h-1zm3 0h1v1h-1zm-44 1h1v1h-1zm2 0h1v1h-1zm2 0h3v1h-3zm4 0h2v1h-2zm4 0h1v1h-1zm2 0h2v1h-2zm4 0h3v1h-3zm6 0h3v1h-3zm4 0h1v1h-1zm2 0h1v1h-1zm4 0h1v1h-1zm-46 1h1v1h-1zm4 0h1v1h-1zm7 0h1v1h-1zm2 0h1v1h-1zm2 0h1v1h-1zm2 0h3v1h-3zm4 0h5v1h-5zm7 0h1v1h-1zm3 0h2v1h-2zm5 0h1v1h-1zm4 0h1v1h-1zm3 0h1v1h-1zm2 0h1v1h-1zm2 0h1v1h-1zm-42 1h2v1h-2zm3 0h1v1h-1zm3 0h1v1h-1zm3 0h1v1h-1zm4 0h3v1h-3zm5 0h1v1h-1zm4 0h1v1h-1zm2 0h1v1h-1zm3 0h1v1h-1zm9 0h1v1h-1zm-34 1h1v1h-1zm2 0h4v1h-4zm16 0h2v1h-2zm3 0h1v1h-1zm3 0h1v1h-1zm7 0h1v1h-1zm-35 1h1v1h-1zm2 0h1v1h-1zm3 0h1v1h-1zm2 0h1v1h-1zm2 0h1v1h-1zm5 0h6v1h-6zm8 0h2v1h-2zm3 0h1v1h-1zm2 0h1v1h-1zm3 0h1v1h-1zm4 0h1v1h-1zm5 0h1v1h-1zm4 0h1v1h-1zm-41 1h2v1h-2zm4 0h1v1h-1zm2 0h1v1h-1zm2 0h2v1h-2zm3 0h1v1h-1zm2 0h2v1h-2zm3 0h1v1h-1zm2 0h2v1h-2zm7 0h2v1h-2zm3 0h1v1h-1zm2 0h4v1h-4zm9 0h2v1h-2zm-40 1h3v1h-3zm5 0h11v1h-11zm12 0h2v1h-2zm3 0h1v1h-1zm3 0h4v1h-4zm11 0h1v1h-1zm2 0h1v1h-1zm3 0h1v1h-1zm-38 1h1v1h-1zm4 0h5v1h-5zm8 0h10v1h-10zm11 0h2v1h-2zm3 0h1v1h-1zm10 0h1v1h-1zm5 0h1v1h-1zm-40 1h1v1h-1zm2 0h1v1h-1zm2 0h6v1h-6zm7 0h7v1h-7zm8 0h4v1h-4zm9 0h1v1h-1zm6 0h1v1h-1zm3 0h1v1h-1zm-44 1h1v1h-1zm9 0h3v1h-3zm4 0h9v1h-9zm11 0h2v1h-2zm3 0h1v1h-1zm3 0h3v1h-3zm5 0h1v1h-1zm2 0h1v1h-1zm-38 1h1v1h-1zm9 0h1v1h-1zm2 0h1v1h-1zm2 0h2v1h-2zm4 0h5v1h-5zm6 0h1v1h-1zm2 0h1v1h-1zm2 0h7v1h-7zm11 0h2v1h-2zm6 0h2v1h-2zm-48 1h1v1h-1zm8 0h1v1h-1zm2 0h2v1h-2zm3 0h1v1h-1zm2 0h8v1h-8zm9 0h12v1h-12zm13 0h1v1h-1zm8 0h1v1h-1zm-37 1h1v1h-1zm3 0h1v1h-1zm2 0h6v1h-6zm7 0h14v1h-14zm23 0h1v1h-1zm2 0h2v1h-2zm-38 1h1v1h-1zm5 0h1v1h-1zm3 0h2v1h-2zm3 0h7v1h-7zm8 0h3v1h-3zm4 0h5v1h-5zm9 0h1v1h-1zm3 0h2v1h-2zm3 0h1v1h-1zm-36 1h2v1h-2zm3 0h1v1h-1zm2 0h17v1h-17zm19 0h4v1h-4zm6 0h1v1h-1zm-39 1h1v1h-1zm5 0h1v1h-1zm7 0h19v1h-19zm21 0h1v1h-1zm2 0h2v1h-2zm3 0h1v1h-1zm3 0h1v1h-1zm6 0h1v1h-1zm-41 1h1v1h-1zm6 0h1v1h-1zm5 0h15v1h-15zm16 0h3v1h-3zm-25 1h1v1h-1zm5 0h1v1h-1zm2 0h18v1h-18zm19 0h2v1h-2zm-22 1h1v1h-1zm2 0h3v1h-3zm4 0h15v1h-15zm16 0h1v1h-1zm3 0h1v1h-1zm2 0h1v1h-1zm12 0h1v1h-1zm-38 1h3v1h-3zm4 0h20v1h-20zm-7 1h1v1h-1zm2 0h3v1h-3zm5 0h13v1h-13zm14 0h1v1h-1zm3 0h2v1h-2zm4 0h1v1h-1zm3 0h2v1h-2zm3 0h1v1h-1zm-33 1h1v1h-1zm3 0h16v1h-16zm17 0h4v1h-4zm5 0h1v1h-1zm2 0h1v1h-1zm2 0h2v1h-2zm5 0h1v1h-1zm-33 1h1v1h-1zm2 0h2v1h-2zm3 0h17v1h-17zm19 0h1v1h-1zm7 0h2v1h-2zm-34 1h1v1h-1zm3 0h1v1h-1zm2 0h2v1h-2zm4 0h19v1h-19zm22 0h2v1h-2zm-25 1h20v1h-20zm25 0h1v1h-1zm-33 1h1v1h-1zm3 0h1v1h-1zm2 0h5v1h-5zm6 0h18v1h-18zm25 0h1v1h-1zm-33 1h5v1h-5zm6 0h13v1h-13zm14 0h6v1h-6zm10 0h1v1h-1zm-33 1h1v1h-1zm3 0h1v1h-1zm2 0h1v1h-1zm3 0h1v1h-1zm3 0h12v1h-12zm13 0h4v1h-4zm5 0h1v1h-1zm2 0h1v1h-1zm-28 1h1v1h-1zm2 0h1v1h-1zm2 0h17v1h-17zm19 0h1v1h-1zm4 0h1v1h-1zm2 0h1v1h-1zm-29 1h1v1h-1zm3 0h5v1h-5zm6 0h13v1h-13zm15 0h1v1h-1zm7 0h1v1h-1zm7 0h1v1h-1zm5 0h1v1h-1zm-46 1h1v1h-1zm3 0h1v1h-1zm2 0h5v1h-5zm6 0h17v1h-17zm18 0h1v1h-1zm3 0h1v1h-1zm3 0h1v1h-1zm-29 1h1v1h-1zm2 0h3v1h-3zm4 0h9v1h-9zm10 0h5v1h-5zm6 0h1v1h-1zm4 0h1v1h-1zm-28 1h1v1h-1zm2 0h6v1h-6zm7 0h1v1h-1zm2 0h8v1h-8zm9 0h1v1h-1zm2 0h2v1h-2zm-24 1h2v1h-2zm4 0h1v1h-1zm2 0h6v1h-6zm7 0h2v1h-2zm3 0h6v1h-6zm7 0h2v1h-2zm3 0h1v1h-1zm-22 1h4v1h-4zm5 0h1v1h-1zm2 0h5v1h-5zm6 0h9v1h-9zm18 0h1v1h-1zm-34 1h2v1h-2zm3 0h4v1h-4zm5 0h6v1h-6zm7 0h1v1h-1zm2 0h6v1h-6zm10 0h1v1h-1zm11 0h1v1h-1zm-43 1h1v1h-1zm5 0h1v1h-1zm3 0h3v1h-3zm4 0h1v1h-1zm2 0h2v1h-2zm3 0h11v1h-11zm18 0h1v1h-1zm7 0h1v1h-1zm-37 1h1v1h-1zm2 0h1v1h-1zm2 0h2v1h-2zm3 0h2v1h-2zm3 0h1v1h-1zm2 0h2v1h-2zm3 0h2v1h-2zm3 0h2v1h-2zm4 0h1v1h-1zm7 0h1v1h-1zm3 0h1v1h-1zm-40 1h1v1h-1zm7 0h1v1h-1zm7 0h11v1h-11zm12 0h1v1h-1zm3 0h2v1h-2zm5 0h1v1h-1zm7 0h1v1h-1zm-32 1h1v1h-1zm3 0h1v1h-1zm4 0h4v1h-4zm5 0h2v1h-2zm3 0h3v1h-3zm4 0h4v1h-4zm8 0h1v1h-1zm10 0h1v1h-1zm6 0h1v1h-1zm-42 1h1v1h-1zm2 0h1v1h-1zm3 0h2v1h-2zm4 0h2v1h-2zm3 0h2v1h-2zm4 0h2v1h-2zm4 0h1v1h-1zm4 0h1v1h-1zm4 0h1v1h-1zm3 0h1v1h-1zm-35 1h1v1h-1zm2 0h1v1h-1zm2 0h1v1h-1zm3 0h1v1h-1zm2 0h2v1h-2zm5 0h1v1h-1zm5 0h1v1h-1zm2 0h3v1h-3zm11 0h1v1h-1zm-36 1h1v1h-1zm7 0h1v1h-1zm3 0h2v1h-2zm3 0h1v1h-1zm2 0h8v1h-8zm34 0h1v1h-1zm-47 1h1v1h-1zm10 0h1v1h-1zm2 0h2v1h-2zm4 0h1v1h-1zm8 0h1v1h-1zm8 0h1v1h-1zm-31 1h1v1h-1zm3 0h1v1h-1zm8 0h2v1h-2zm3 0h1v1h-1zm2 0h3v1h-3zm6 0h1v1h-1zm7 0h1v1h-1zm4 0h1v1h-1zm7 0h1v1h-1zm-34 1h1v1h-1zm4 0h2v1h-2zm7 0h3v1h-3zm4 0h1v1h-1zm2 0h1v1h-1zm6 0h1v1h-1zm2 0h1v1h-1zm-29 1h1v1h-1zm4 0h1v1h-1zm5 0h4v1h-4zm6 0h3v1h-3zm4 0h7v1h-7zm8 0h1v1h-1zm6 0h1v1h-1zm-36 1h1v1h-1zm2 0h1v1h-1zm10 0h1v1h-1zm3 0h2v1h-2zm3 0h1v1h-1zm2 0h4v1h-4zm9 0h1v1h-1zm14 0h1v1h-1zm2 0h1v1h-1zm-40 1h2v1h-2zm6 0h1v1h-1zm2 0h1v1h-1zm5 0h1v1h-1zm3 0h4v1h-4zm5 0h2v1h-2zm-26 1h1v1h-1zm9 0h2v1h-2zm6 0h2v1h-2zm3 0h1v1h-1zm2 0h2v1h-2zm3 0h1v1h-1zm9 0h1v1h-1zm-26 1h1v1h-1zm6 0h2v1h-2zm7 0h1v1h-1zm2 0h1v1h-1zm2 0h1v1h-1zm4 0h1v1h-1zm14 0h1v1h-1zm-37 1h1v1h-1zm13 0h1v1h-1zm3 0h1v1h-1zm2 0h4v1h-4zm5 0h2v1h-2zm3 0h1v1h-1zm5 0h1v1h-1zm-28 1h1v1h-1zm5 0h2v1h-2zm4 0h1v1h-1zm2 0h4v1h-4zm7 0h1v1h-1zm5 0h4v1h-4zm-24 1h1v1h-1zm7 0h1v1h-1zm2 0h3v1h-3zm4 0h2v1h-2zm8 0h2v1h-2zm12 0h1v1h-1zm-33 1h2v1h-2zm3 0h1v1h-1zm5 0h1v1h-1zm2 0h3v1h-3zm4 0h1v1h-1zm3 0h1v1h-1zm6 0h1v1h-1zm2 0h1v1h-1z" fill="#000"/>
<path d="M354 344h1v1h-1zm-13 2h2v1h-2zm3 0h1v1h-1zm5 0h1v1h-1zm5 0h1v1h-1zm6 0h1v1h-1zm-20 1h1v1h-1zm2 0h1v1h-1zm2 0h2v1h-2zm3 0h1v1h-1zm6 0h1v1h-1zm2 0h2v1h-2zm4 0h2v1h-2zm3 0h1v1h-1zm-30 1h1v1h-1zm4 0h1v1h-1zm7 0h2v1h-2zm3 0h2v1h-2zm4 0h2v1h-2zm3 0h1v1h-1zm3 0h1v1h-1zm2 0h2v1h-2zm3 0h2v1h-2zm11 0h1v1h-1zm-44 1h1v1h-1zm5 0h1v1h-1zm2 0h2v1h-2zm3 0h10v1h-10zm13 0h2v1h-2zm3 0h1v1h-1zm2 0h2v1h-2zm3 0h3v1h-3zm4 0h1v1h-1zm2 0h3v1h-3zm5 0h1v1h-1zm-34 1h8v1h-8zm9 0h4v1h-4zm5 0h7v1h-7zm8 0h5v1h-5zm10 0h2v1h-2zm11 0h1v1h-1zm-49 1h2v1h-2zm3 0h1v1h-1zm2 0h12v1h-12zm13 0h18v1h-18zm20 0h2v1h-2zm-44 1h1v1h-1zm5 0h1v1h-1zm4 0h29v1h-29zm30 0h1v1h-1zm2 0h3v1h-3zm4 0h1v1h-1zm2 0h1v1h-1zm5 0h1v1h-1zm-47 1h41v1h-41zm42 0h1v1h-1zm3 0h1v1h-1zm3 0h1v1h-1zm-47 1h1v1h-1zm2 0h35v1h-35zm37 0h2v1h-2zm5 0h2v1h-2zm-49 1h1v1h-1zm3 0h1v1h-1zm2 0h36v1h-36zm37 0h2v1h-2zm3 0h1v1h-1zm3 0h2v1h-2zm8 0h2v1h-2zm-56 1h1v1h-1zm4 0h3v1h-3zm4 0h36v1h-36zm37 0h2v1h-2zm3 0h2v1h-2zm9 0h2v1h-2zm-63 1h1v1h-1zm11 0h37v1h-37zm38 0h4v1h-4zm5 0h1v1h-1zm2 0h1v1h-1zm2 0h2v1h-2zm3 0h1v1h-1zm-60 1h1v1h-1zm4 0h1v1h-1zm7 0h36v1h-36zm37 0h3v1h-3zm5 0h1v1h-1zm5 0h1v1h-1zm2 0h1v1h-1zm-58 1h5v1h-5zm7 0h1v1h-1zm2 0h33v1h-33zm34 0h4v1h-4zm9 0h1v1h-1zm3 0h1v1h-1zm6 0h2v1h-2zm-64 1h2v1h-2zm4 0h1v1h-1zm2 0h1v1h-1zm4 0h33v1h-33zm34 0h2v1h-2zm4 0h1v1h-1zm5 0h1v1h-1zm-51 1h1v1h-1zm2 0h3v1h-3zm5 0h1v1h-1zm2 0h31v1h-31zm32 0h1v1h-1zm2 0h3v1h-3zm5 0h1v1h-1zm5 0h1v1h-1zm6 0h1v1h-1zm-59 1h1v1h-1zm2 0h2v1h-2zm3 0h1v1h-1zm3 0h32v1h-32zm33 0h2v1h-2zm6 0h1v1h-1zm4 0h1v1h-1zm4 0h1v1h-1zm-53 1h1v1h-1zm5 0h2v1h-2zm3 0h31v1h-31zm33 0h1v1h-1zm-42 1h1v1h-1zm3 0h1v1h-1zm4 0h2v1h-2zm3 0h28v1h-28zm29 0h2v1h-2zm6 0h1v1h-1zm13 0h1v1h-1zm-58 1h1v1h-1zm3 0h3v1h-3zm5 0h29v1h-29zm30 0h1v1h-1zm2 0h1v1h-1zm-36 1h2v1h-2zm4 0h2v1h-2zm3 0h25v1h-25zm28 0h1v1h-1zm18 0h1v1h-1zm-56 1h2v1h-2zm3 0h1v1h-1zm3 0h3v1h-3zm4 0h27v1h-27zm28 0h1v1h-1zm-37 1h1v1h-1zm2 0h2v1h-2zm3 0h2v1h-2zm3 0h25v1h-25zm26 0h2v1h-2zm3 0h1v1h-1zm-41 1h1v1h-1zm9 0h1v1h-1zm2 0h31v1h-31zm-10 1h1v1h-1zm3 0h2v1h-2zm5 0h1v1h-1zm2 0h29v1h-29zm-9 1h1v1h-1zm4 0h1v1h-1zm2 0h3v1h-3zm4 0h28v1h-28zm-11 1h4v1h-4zm6 0h1v1h-1zm2 0h1v1h-1zm2 0h27v1h-27zm28 0h1v1h-1zm-38 1h2v1h-2zm4 0h1v1h-1zm5 0h1v1h-1zm2 0h30v1h-30zm40 0h1v1h-1zm-52 1h3v1h-3zm4 0h1v1h-1zm2 0h2v1h-2zm4 0h30v1h-30zm31 0h2v1h-2zm9 0h1v1h-1zm-51 1h1v1h-1zm2 0h1v1h-1zm2 0h1v1h-1zm5 0h1v1h-1zm2 0h1v1h-1zm2 0h28v1h-28zm-13 1h1v1h-1zm5 0h4v1h-4zm5 0h30v1h-30zm33 0h1v1h-1zm-43 1h2v1h-2zm6 0h1v1h-1zm4 0h29v1h-29zm30 0h2v1h-2zm-40 1h1v1h-1zm3 0h1v1h-1zm6 0h1v1h-1zm2 0h31v1h-31zm37 0h1v1h-1zm2 0h1v1h-1zm4 0h1v1h-1zm-52 1h1v1h-1zm5 0h3v1h-3zm4 0h29v1h-29zm30 0h1v1h-1zm13 0h1v1h-1zm-53 1h2v1h-2zm4 0h1v1h-1zm7 0h1v1h-1zm2 0h25v1h-25zm26 0h1v1h-1zm-40 1h1v1h-1zm6 0h1v1h-1zm5 0h30v1h-30zm-11 1h1v1h-1zm4 0h2v1h-2zm7 0h2v1h-2zm3 0h27v1h-27zm30 0h1v1h-1zm-43 1h1v1h-1zm11 0h29v1h-29zm39 0h1v1h-1zm-50 1h1v1h-1zm4 0h1v1h-1zm2 0h3v1h-3zm4 0h2v1h-2zm3 0h26v1h-26zm35 0h1v1h-1zm-45 1h3v1h-3zm4 0h1v1h-1zm3 0h29v1h-29zm-10 1h1v1h-1zm2 0h1v1h-1zm2 0h1v1h-1zm2 0h1v1h-1zm2 0h31v1h-31zm32 0h1v1h-1zm-41 1h2v1h-2zm3 0h2v1h-2zm3 0h1v1h-1zm4 0h30v1h-30zm-9 1h4v1h-4zm5 0h2v1h-2zm5 0h28v1h-28zm30 0h1v1h-1zm-41 1h1v1h-1zm2 0h5v1h-5zm9 0h1v1h-1zm2 0h29v1h-29zm40 0h1v1h-1zm-50 1h1v1h-1zm2 0h2v1h-2zm4 0h2v1h-2zm4 0h27v1h-27zm31 0h1v1h-1zm7 0h1v1h-1zm-47 1h1v1h-1zm3 0h2v1h-2zm4 0h30v1h-30zm-11 1h1v1h-1zm3 0h1v1h-1zm2 0h1v1h-1zm4 0h4v1h-4zm5 0h22v1h-22zm23 0h3v1h-3zm-32 1h1v1h-1zm2 0h1v1h-1zm2 0h1v1h-1zm3 0h26v1h-26zm27 0h2v1h-2zm-38 1h2v1h-2zm8 0h2v1h-2zm3 0h2v1h-2zm3 0h25v1h-25zm26 0h1v1h-1zm-37 1h1v1h-1zm2 0h1v1h-1zm2 0h1v1h-1zm3 0h26v1h-26zm28 0h1v1h-1zm4 0h1v1h-1zm-43 1h3v1h-3zm4 0h2v1h-2zm5 0h1v1h-1zm2 0h1v1h-1zm3 0h23v1h-23zm32 0h1v1h-1zm2 0h2v1h-2zm-48 1h1v1h-1zm3 0h2v1h-2zm4 0h1v1h-1zm5 0h26v1h-26zm-12 1h1v1h-1zm2 0h4v1h-4zm5 0h1v1h-1zm5 0h1v1h-1zm3 0h23v1h-23zm24 0h1v1h-1zm6 0h1v1h-1zm-45 1h1v1h-1zm8 0h4v1h-4zm5 0h22v1h-22zm23 0h2v1h-2zm7 0h1v1h-1zm7 0h1v1h-1zm-49 1h1v1h-1zm10 0h1v1h-1zm2 0h27v1h-27zm-10 1h3v1h-3zm7 0h2v1h-2zm3 0h24v1h-24zm27 0h1v1h-1zm5 0h1v1h-1zm6 0h1v1h-1zm-45 1h1v1h-1zm3 0h1v1h-1zm3 0h2v1h-2zm3 0h23v1h-23zm28 0h1v1h-1zm6 0h1v1h-1zm-48 1h1v1h-1zm2 0h1v1h-1zm2 0h1v1h-1zm2 0h1v1h-1zm6 0h26v1h-26zm40 0h2v1h-2zm-50 1h4v1h-4zm5 0h1v1h-1zm2 0h1v1h-1zm2 0h27v1h-27zm31 0h1v1h-1zm-43 1h1v1h-1zm2 0h1v1h-1zm6 0h3v1h-3zm5 0h22v1h-22zm23 0h3v1h-3zm-33 1h1v1h-1zm3 0h3v1h-3zm4 0h1v1h-1zm2 0h1v1h-1zm2 0h23v1h-23zm35 0h1v1h-1zm8 0h1v1h-1zm-55 1h2v1h-2zm4 0h3v1h-3zm7 0h25v1h-25zm-11 1h2v1h-2zm4 0h3v1h-3zm5 0h26v1h-26zm27 0h1v1h-1zm14 0h1v1h-1zm2 0h1v1h-1zm-54 1h1v1h-1zm3 0h1v1h-1zm3 0h2v1h-2zm7 0h22v1h-22zm25 0h1v1h-1zm7 0h1v1h-1zm2 0h2v1h-2zm-45 1h3v1h-3zm4 0h1v1h-1zm2 0h2v1h-2zm6 0h24v1h-24zm42 0h1v1h-1zm-52 1h1v1h-1zm2 0h3v1h-3zm4 0h1v1h-1zm2 0h26v1h-26zm-12 1h1v1h-1zm2 0h1v1h-1zm3 0h1v1h-1zm2 0h4v1h-4zm6 0h24v1h-24zm29 0h1v1h-1zm-41 1h2v1h-2zm3 0h1v1h-1zm2 0h1v1h-1zm7 0h1v1h-1zm3 0h19v1h-19zm20 0h2v1h-2zm-35 1h1v1h-1zm5 0h1v1h-1zm4 0h1v1h-1zm3 0h21v1h-21zm22 0h1v1h-1zm6 0h1v1h-1zm-38 1h1v1h-1zm4 0h2v1h-2zm8 0h1v1h-1zm2 0h15v1h-15zm16 0h3v1h-3zm10 0h1v1h-1zm3 0h1v1h-1zm-46 1h1v1h-1zm4 0h5v1h-5zm10 0h23v1h-23zm-6 1h1v1h-1zm7 0h20v1h-20zm21 0h1v1h-1zm3 0h1v1h-1zm3 0h1v1h-1zm-41 1h1v1h-1zm2 0h2v1h-2zm3 0h2v1h-2zm9 0h22v1h-22zm31 0h1v1h-1zm7 0h1v1h-1zm-47 1h1v1h-1zm3 0h1v1h-1zm5 0h1v1h-1zm2 0h19v1h-19zm-16 1h1v1h-1zm9 0h1v1h-1zm4 0h2v1h-2zm4 0h16v1h-16zm17 0h2v1h-2zm-34 1h1v1h-1zm5 0h1v1h-1zm10 0h22v1h-22zm-15 1h1v1h-1zm11 0h1v1h-1zm3 0h1v1h-1zm2 0h2v1h-2zm3 0h16v1h-16zm-17 1h1v1h-1zm4 0h1v1h-1zm7 0h1v1h-1zm3 0h21v1h-21zm-10 1h1v1h-1zm9 0h1v1h-1zm2 0h16v1h-16zm17 0h1v1h-1zm2 0h2v1h-2zm-36 1h1v1h-1zm2 0h1v1h-1zm2 0h1v1h-1zm5 0h1v1h-1zm4 0h1v1h-1zm3 0h19v1h-19z" fill="#000"/>
<path d="M355 433h1v1h-1zm-14 2h1v1h-1zm40 1h1v1h-1zm-33 2h1v1h-1zm16 0h2v1h-2zm12 0h1v1h-1zm-22 1h1v1h-1zm7 0h1v1h-1zm3 0h1v1h-1zm3 0h1v1h-1zm4 0h2v1h-2zm3 0h1v1h-1zm4 0h1v1h-1zm4 0h1v1h-1zm-44 1h1v1h-1zm3 0h1v1h-1zm2 0h1v1h-1zm2 0h2v1h-2zm3 0h1v1h-1zm2 0h2v1h-2zm7 0h1v1h-1zm8 0h2v1h-2zm5 0h1v1h-1zm3 0h1v1h-1zm6 0h1v1h-1zm3 0h1v1h-1zm-43 1h1v1h-1zm6 0h1v1h-1zm2 0h2v1h-2zm9 0h1v1h-1zm9 0h1v1h-1zm8 0h1v1h-1zm2 0h1v1h-1zm2 0h1v1h-1zm8 0h3v1h-3zm-65 1h1v1h-1zm19 0h1v1h-1zm3 0h1v1h-1zm3 0h2v1h-2zm3 0h1v1h-1zm3 0h1v1h-1zm4 0h3v1h-3zm4 0h1v1h-1zm5 0h4v1h-4zm7 0h3v1h-3zm4 0h1v1h-1zm10 0h1v1h-1zm-52 1h1v1h-1zm3 0h1v1h-1zm4 0h1v1h-1zm2 0h5v1h-5zm6 0h4v1h-4zm6 0h5v1h-5zm6 0h12v1h-12zm14 0h1v1h-1zm4 0h2v1h-2zm12 0h1v1h-1zm-53 1h1v1h-1zm3 0h5v1h-5zm6 0h11v1h-11zm12 0h4v1h-4zm6 0h3v1h-3zm4 0h2v1h-2zm4 0h2v1h-2zm3 0h1v1h-1zm4 0h1v1h-1zm4 0h1v1h-1zm-49 1h2v1h-2zm3 0h1v1h-1zm2 0h1v1h-1zm4 0h1v1h-1zm2 0h3v1h-3zm4 0h19v1h-19zm20 0h5v1h-5zm6 0h2v1h-2zm10 0h2v1h-2zm3 0h1v1h-1zm-52 1h1v1h-1zm6 0h12v1h-12zm13 0h18v1h-18zm22 0h1v1h-1zm3 0h1v1h-1zm3 0h2v1h-2zm-59 1h1v1h-1zm9 0h1v1h-1zm5 0h1v1h-1zm2 0h2v1h-2zm3 0h31v1h-31zm-8 1h2v1h-2zm3 0h18v1h-18zm19 0h15v1h-15zm16 0h1v1h-1zm3 0h1v1h-1zm7 0h1v1h-1zm2 0h1v1h-1zm-54 1h2v1h-2zm8 0h28v1h-28zm29 0h2v1h-2zm3 0h1v1h-1zm2 0h1v1h-1zm2 0h1v1h-1zm2 0h1v1h-1zm2 0h1v1h-1zm2 0h1v1h-1zm4 0h1v1h-1zm-57 1h1v1h-1zm3 0h2v1h-2zm7 0h1v1h-1zm2 0h15v1h-15zm16 0h13v1h-13zm14 0h1v1h-1zm2 0h2v1h-2zm11 0h1v1h-1zm-49 1h2v1h-2zm3 0h26v1h-26zm27 0h6v1h-6zm9 0h1v1h-1zm4 0h1v1h-1zm2 0h3v1h-3zm-53 1h1v1h-1zm3 0h1v1h-1zm2 0h1v1h-1zm3 0h2v1h-2zm3 0h1v1h-1zm2 0h1v1h-1zm2 0h23v1h-23zm25 0h2v1h-2zm3 0h4v1h-4zm6 0h1v1h-1zm-40 1h1v1h-1zm4 0h28v1h-28zm29 0h2v1h-2zm3 0h1v1h-1zm-43 1h1v1h-1zm8 0h2v1h-2zm3 0h1v1h-1zm3 0h21v1h-21zm23 0h1v1h-1zm3 0h1v1h-1zm2 0h2v1h-2zm4 0h1v1h-1zm3 0h1v1h-1zm-50 1h2v1h-2zm4 0h1v1h-1zm4 0h4v1h-4zm5 0h15v1h-15zm16 0h7v1h-7zm8 0h1v1h-1zm2 0h3v1h-3zm4 0h1v1h-1zm-45 1h1v1h-1zm5 0h1v1h-1zm2 0h1v1h-1zm5 0h1v1h-1zm2 0h2v1h-2zm3 0h21v1h-21zm24 0h1v1h-1zm3 0h1v1h-1zm3 0h1v1h-1zm-51 1h2v1h-2zm6 0h1v1h-1zm7 0h2v1h-2zm6 0h1v1h-1zm3 0h19v1h-19zm21 0h1v1h-1zm3 0h1v1h-1zm2 0h1v1h-1zm5 0h1v1h-1zm-50 1h1v1h-1zm2 0h1v1h-1zm7 0h2v1h-2zm6 0h26v1h-26zm29 0h1v1h-1zm-40 1h1v1h-1zm6 0h1v1h-1zm4 0h1v1h-1zm3 0h6v1h-6zm7 0h16v1h-16zm20 0h1v1h-1zm-32 1h2v1h-2zm4 0h23v1h-23zm26 0h1v1h-1zm2 0h1v1h-1zm-41 1h2v1h-2zm4 0h1v1h-1zm5 0h1v1h-1zm2 0h2v1h-2zm3 0h25v1h-25zm-11 1h1v1h-1zm3 0h2v1h-2zm3 0h26v1h-26zm-10 1h1v1h-1zm5 0h3v1h-3zm5 0h2v1h-2zm3 0h21v1h-21zm24 0h1v1h-1zm8 0h1v1h-1zm-45 1h1v1h-1zm4 0h1v1h-1zm3 0h1v1h-1zm6 0h20v1h-20zm21 0h3v1h-3zm5 0h1v1h-1zm-37 1h3v1h-3zm7 0h1v1h-1zm4 0h20v1h-20zm21 0h2v1h-2zm5 0h1v1h-1zm5 0h1v1h-1zm-48 1h1v1h-1zm4 0h1v1h-1zm3 0h1v1h-1zm10 0h22v1h-22zm25 0h1v1h-1zm2 0h1v1h-1zm-44 1h1v1h-1zm9 0h2v1h-2zm6 0h1v1h-1zm2 0h20v1h-20zm21 0h4v1h-4zm7 0h2v1h-2zm-44 1h1v1h-1zm3 0h1v1h-1zm2 0h1v1h-1zm3 0h1v1h-1zm3 0h2v1h-2zm3 0h4v1h-4zm5 0h19v1h-19zm22 0h1v1h-1zm4 0h1v1h-1zm-34 1h1v1h-1zm5 0h2v1h-2zm3 0h19v1h-19zm20 0h1v1h-1zm-39 1h1v1h-1zm3 0h1v1h-1zm2 0h1v1h-1zm3 0h1v1h-1zm2 0h1v1h-1zm7 0h21v1h-21zm25 0h1v1h-1zm4 0h1v1h-1zm-45 1h1v1h-1zm2 0h1v1h-1zm6 0h1v1h-1zm5 0h22v1h-22zm24 0h3v1h-3zm10 0h1v1h-1zm-44 1h2v1h-2zm3 0h1v1h-1zm5 0h1v1h-1zm2 0h1v1h-1zm2 0h1v1h-1zm2 0h16v1h-16zm17 0h1v1h-1zm5 0h1v1h-1zm3 0h1v1h-1zm3 0h1v1h-1zm-45 1h1v1h-1zm2 0h1v1h-1zm5 0h1v1h-1zm6 0h13v1h-13zm14 0h9v1h-9zm11 0h1v1h-1zm3 0h1v1h-1zm2 0h2v1h-2zm-45 1h2v1h-2zm7 0h1v1h-1zm6 0h1v1h-1zm2 0h24v1h-24zm25 0h3v1h-3zm-39 1h3v1h-3zm14 0h1v1h-1zm2 0h17v1h-17zm18 0h3v1h-3zm4 0h3v1h-3zm-42 1h1v1h-1zm8 0h3v1h-3zm4 0h2v1h-2zm6 0h2v1h-2zm3 0h18v1h-18zm20 0h2v1h-2zm3 0h2v1h-2zm-23 1h17v1h-17zm21 0h1v1h-1zm-39 1h1v1h-1zm7 0h2v1h-2zm3 0h2v1h-2zm4 0h1v1h-1zm2 0h19v1h-19zm24 0h1v1h-1zm4 0h2v1h-2zm-40 1h1v1h-1zm9 0h1v1h-1zm3 0h2v1h-2zm3 0h18v1h-18zm-16 1h1v1h-1zm2 0h1v1h-1zm4 0h1v1h-1zm2 0h3v1h-3zm4 0h19v1h-19zm20 0h1v1h-1zm3 0h1v1h-1zm2 0h1v1h-1zm5 0h1v1h-1zm3 0h1v1h-1zm-47 1h2v1h-2zm4 0h3v1h-3zm5 0h3v1h-3zm4 0h1v1h-1zm3 0h17v1h-17zm19 0h1v1h-1zm2 0h4v1h-4zm6 0h1v1h-1zm-47 1h1v1h-1zm2 0h1v1h-1zm2 0h1v1h-1zm5 0h1v1h-1zm2 0h1v1h-1zm4 0h2v1h-2zm5 0h19v1h-19zm20 0h1v1h-1zm2 0h1v1h-1zm4 0h1v1h-1zm-40 1h1v1h-1zm9 0h1v1h-1zm2 0h1v1h-1zm3 0h20v1h-20zm23 0h1v1h-1zm4 0h1v1h-1zm-43 1h1v1h-1zm4 0h1v1h-1zm3 0h2v1h-2zm3 0h1v1h-1zm5 0h20v1h-20zm21 0h1v1h-1zm2 0h1v1h-1zm4 0h1v1h-1zm2 0h1v1h-1zm-41 1h1v1h-1zm2 0h3v1h-3zm8 0h2v1h-2zm3 0h18v1h-18zm22 0h1v1h-1zm3 0h1v1h-1zm2 0h2v1h-2zm-42 1h1v1h-1zm4 0h1v1h-1zm2 0h1v1h-1zm2 0h3v1h-3zm5 0h2v1h-2zm3 0h12v1h-12zm13 0h3v1h-3zm4 0h1v1h-1zm2 0h1v1h-1zm2 0h1v1h-1zm3 0h1v1h-1zm-44 1h1v1h-1zm8 0h3v1h-3zm5 0h1v1h-1zm2 0h1v1h-1zm2 0h18v1h-18zm20 0h1v1h-1zm2 0h1v1h-1zm2 0h1v1h-1zm4 0h1v1h-1zm-44 1h1v1h-1zm6 0h1v1h-1zm2 0h1v1h-1zm3 0h2v1h-2zm4 0h21v1h-21zm22 0h2v1h-2zm9 0h1v1h-1zm-48 1h2v1h-2zm5 0h1v1h-1zm7 0h1v1h-1zm8 0h14v1h-14zm15 0h4v1h-4zm6 0h2v1h-2zm4 0h1v1h-1zm-41 1h1v1h-1zm5 0h1v1h-1zm2 0h2v1h-2zm8 0h17v1h-17zm18 0h2v1h-2zm3 0h1v1h-1zm2 0h1v1h-1zm2 0h1v1h-1zm-37 1h2v1h-2zm10 0h17v1h-17zm18 0h3v1h-3zm7 0h1v1h-1zm5 0h1v1h-1zm2 0h1v1h-1zm-49 1h2v1h-2zm3 0h2v1h-2zm6 0h1v1h-1zm2 0h3v1h-3zm4 0h2v1h-2zm4 0h20v1h-20zm21 0h1v1h-1zm-37 1h1v1h-1zm3 0h1v1h-1zm5 0h1v1h-1zm2 0h1v1h-1zm8 0h14v1h-14zm16 0h2v1h-2zm9 0h1v1h-1zm2 0h1v1h-1zm-35 1h1v1h-1zm6 0h1v1h-1zm2 0h15v1h-15zm19 0h1v1h-1zm-39 1h2v1h-2zm6 0h1v1h-1zm2 0h1v1h-1zm8 0h2v1h-2zm3 0h14v1h-14zm15 0h1v1h-1zm6 0h1v1h-1zm8 0h1v1h-1zm-42 1h2v1h-2zm3 0h1v1h-1zm3 0h1v1h-1zm2 0h1v1h-1zm2 0h2v1h-2zm3 0h8v1h-8zm9 0h2v1h-2zm3 0h1v1h-1zm3 0h1v1h-1zm3 0h1v1h-1zm3 0h1v1h-1zm2 0h1v1h-1zm5 0h1v1h-1zm-43 1h1v1h-1zm3 0h1v1h-1zm6 0h2v1h-2zm5 0h1v1h-1zm3 0h4v1h-4zm5 0h5v1h-5zm6 0h5v1h-5zm8 0h1v1h-1zm-40 1h3v1h-3zm8 0h2v1h-2zm7 0h1v1h-1zm2 0h9v1h-9zm10 0h2v1h-2zm3 0h2v1h-2zm3 0h3v1h-3zm4 0h1v1h-1zm3 0h3v1h-3zm-40 1h1v1h-1zm8 0h1v1h-1zm7 0h1v1h-1zm2 0h10v1h-10zm11 0h3v1h-3zm4 0h1v1h-1zm2 0h2v1h-2zm8 0h1v1h-1zm-36 1h1v1h-1zm4 0h1v1h-1zm2 0h1v1h-1zm5 0h3v1h-3zm5 0h2v1h-2zm5 0h2v1h-2zm5 0h5v1h-5zm9 0h1v1h-1zm2 0h1v1h-1zm-41 1h2v1h-2zm3 0h2v1h-2zm3 0h2v1h-2zm4 0h2v1h-2zm3 0h1v1h-1zm3 0h1v1h-1zm2 0h1v1h-1zm4 0h1v1h-1zm2 0h8v1h-8zm11 0h2v1h-2zm4 0h2v1h-2zm3 0h1v1h-1zm-44 1h1v1h-1zm4 0h1v1h-1zm4 0h1v1h-1zm7 0h1v1h-1zm2 0h3v1h-3zm4 0h3v1h-3zm4 0h5v1h-5zm6 0h3v1h-3zm5 0h2v1h-2zm-37 1h1v1h-1zm5 0h1v1h-1zm5 0h1v1h-1zm2 0h1v1h-1zm3 0h2v1h-2zm3 0h3v1h-3zm4 0h2v1h-2zm3 0h2v1h-2zm4 0h1v1h-1zm2 0h6v1h-6zm7 0h2v1h-2zm3 0h2v1h-2zm-38 1h1v1h-1zm2 0h1v1h-1zm3 0h2v1h-2zm5 0h2v1h-2zm4 0h1v1h-1zm2 0h5v1h-5zm8 0h6v1h-6zm8 0h2v1h-2zm3 0h1v1h-1zm2 0h1v1h-1zm2 0h1v1h-1zm5 0h1v1h-1zm-45 1h1v1h-1zm4 0h1v1h-1zm2 0h1v1h-1zm3 0h1v1h-1zm4 0h3v1h-3zm4 0h1v1h-1zm2 0h1v1h-1zm3 0h3v1h-3zm4 0h6v1h-6zm7 0h2v1h-2zm4 0h2v1h-2zm4 0h1v1h-1zm-37 1h1v1h-1zm4 0h1v1h-1zm2 0h1v1h-1zm2 0h1v1h-1zm2 0h2v1h-2zm4 0h1v1h-1zm2 0h7v1h-7zm8 0h1v1h-1zm2 0h4v1h-4zm8 0h1v1h-1zm4 0h1v1h-1zm-40 1h1v1h-1zm6 0h1v1h-1zm2 0h2v1h-2zm4 0h2v1h-2zm4 0h3v1h-3zm4 0h3v1h-3zm4 0h6v1h-6zm7 0h1v1h-1zm2 0h1v1h-1zm3 0h1v1h-1zm-35 1h1v1h-1zm13 0h3v1h-3zm4 0h1v1h-1zm2 0h11v1h-11zm12 0h3v1h-3zm5 0h1v1h-1zm4 0h1v1h-1zm-39 1h1v1h-1zm7 0h1v1h-1zm2 0h1v1h-1zm2 0h1v1h-1zm2 0h2v1h-2zm5 0h4v1h-4zm5 0h11v1h-11zm13 0h1v1h-1zm-42 1h1v1h-1zm6 0h2v1h-2zm3 0h1v1h-1zm4 0h2v1h-2zm4 0h3v1h-3zm8 0h2v1h-2zm4 0h4v1h-4zm6 0h2v1h-2zm3 0h1v1h-1zm5 0h1v1h-1zm2 0h1v1h-1zm-40 1h1v1h-1zm7 0h3v1h-3zm5 0h1v1h-1zm2 0h16v1h-16zm19 0h1v1h-1zm3 0h1v1h-1zm-36 1h2v1h-2zm3 0h1v1h-1zm2 0h1v1h-1zm6 0h6v1h-6zm15 0h1v1h-1zm2 0h1v1h-1zm2 0h2v1h-2zm3 0h1v1h-1zm8 0h1v1h-1zm-42 1h1v1h-1zm8 0h1v1h-1zm6 0h1v1h-1zm3 0h1v1h-1zm4 0h5v1h-5zm6 0h1v1h-1zm5 0h1v1h-1zm3 0h1v1h-1zm5 0h1v1h-1zm-42 1h1v1h-1zm7 0h1v1h-1zm3 0h2v1h-2zm3 0h4v1h-4zm6 0h3v1h-3zm4 0h4v1h-4zm5 0h3v1h-3zm4 0h2v1h-2zm4 0h1v1h-1zm8 0h1v1h-1zm-44 1h5v1h-5zm8 0h2v1h-2zm3 0h1v1h-1zm2 0h1v1h-1zm3 0h1v1h-1zm3 0h2v1h-2zm4 0h4v1h-4zm6 0h2v1h-2zm3 0h1v1h-1zm2 0h3v1h-3zm5 0h2v1h-2zm-36 1h1v1h-1zm6 0h1v1h-1zm2 0h1v1h-1zm3 0h1v1h-1zm5 0h4v1h-4zm7 0h2v1h-2zm4 0h3v1h-3zm5 0h1v1h-1zm2 0h1v1h-1zm3 0h1v1h-1zm-38 1h1v1h-1zm5 0h2v1h-2zm3 0h1v1h-1zm2 0h2v1h-2zm4 0h3v1h-3zm4 0h2v1h-2zm3 0h9v1h-9zm10 0h4v1h-4zm5 0h1v1h-1z" fill="#000"/>
<path d="M442 350h1v1h-1zm-7 1h1v1h-1zm3 0h1v1h-1zm10 0h1v1h-1zm-22 1h1v1h-1zm4 0h2v1h-2zm5 0h1v1h-1zm-12 1h1v1h-1zm5 0h2v1h-2zm5 0h6v1h-6zm7 0h1v1h-1zm2 0h1v1h-1zm2 0h1v1h-1zm2 0h1v1h-1zm6 0h1v1h-1zm3 0h1v1h-1zm8 0h1v1h-1zm-54 1h1v1h-1zm4 0h1v1h-1zm8 0h1v1h-1zm3 0h3v1h-3zm5 0h4v1h-4zm6 0h4v1h-4zm6 0h6v1h-6zm7 0h1v1h-1zm7 0h1v1h-1zm2 0h1v1h-1zm3 0h1v1h-1zm-45 1h1v1h-1zm2 0h1v1h-1zm3 0h4v1h-4zm7 0h1v1h-1zm2 0h15v1h-15zm16 0h3v1h-3zm4 0h4v1h-4zm6 0h1v1h-1zm4 0h1v1h-1zm5 0h1v1h-1zm3 0h1v1h-1zm-49 1h1v1h-1zm2 0h3v1h-3zm4 0h4v1h-4zm5 0h21v1h-21zm22 0h6v1h-6zm7 0h1v1h-1zm8 0h1v1h-1zm5 0h1v1h-1zm-56 1h1v1h-1zm2 0h1v1h-1zm3 0h5v1h-5zm6 0h1v1h-1zm2 0h5v1h-5zm6 0h17v1h-17zm18 0h4v1h-4zm5 0h4v1h-4zm6 0h2v1h-2zm5 0h1v1h-1zm2 0h1v1h-1zm7 0h1v1h-1zm-60 1h41v1h-41zm42 0h3v1h-3zm4 0h1v1h-1zm22 0h1v1h-1zm-67 1h47v1h-47zm49 0h2v1h-2zm3 0h1v1h-1zm2 0h1v1h-1zm4 0h1v1h-1zm-61 1h46v1h-46zm48 0h2v1h-2zm5 0h1v1h-1zm2 0h1v1h-1zm3 0h1v1h-1zm5 0h1v1h-1zm-69 1h1v1h-1zm5 0h1v1h-1zm4 0h1v1h-1zm2 0h43v1h-43zm45 0h2v1h-2zm3 0h1v1h-1zm10 0h1v1h-1zm3 0h1v1h-1zm5 0h1v1h-1zm-77 1h1v1h-1zm2 0h1v1h-1zm5 0h47v1h-47zm48 0h5v1h-5zm7 0h2v1h-2zm4 0h4v1h-4zm-62 1h1v1h-1zm3 0h1v1h-1zm2 0h42v1h-42zm43 0h1v1h-1zm2 0h3v1h-3zm4 0h3v1h-3zm15 0h1v1h-1zm-66 1h37v1h-37zm38 0h6v1h-6zm7 0h3v1h-3zm5 0h2v1h-2zm3 0h1v1h-1zm2 0h2v1h-2zm3 0h1v1h-1zm6 0h1v1h-1zm4 0h2v1h-2zm-70 1h36v1h-36zm38 0h1v1h-1zm2 0h1v1h-1zm2 0h3v1h-3zm7 0h7v1h-7zm9 0h4v1h-4zm7 0h3v1h-3zm5 0h1v1h-1zm-72 1h1v1h-1zm3 0h36v1h-36zm37 0h1v1h-1zm2 0h3v1h-3zm5 0h1v1h-1zm2 0h3v1h-3zm4 0h2v1h-2zm5 0h1v1h-1zm3 0h1v1h-1zm4 0h2v1h-2zm5 0h1v1h-1zm3 0h2v1h-2zm-71 1h39v1h-39zm41 0h2v1h-2zm4 0h2v1h-2zm3 0h3v1h-3zm5 0h1v1h-1zm2 0h1v1h-1zm3 0h1v1h-1zm4 0h2v1h-2zm3 0h1v1h-1zm4 0h4v1h-4zm-68 1h34v1h-34zm35 0h2v1h-2zm8 0h1v1h-1zm2 0h1v1h-1zm3 0h3v1h-3zm7 0h1v1h-1zm4 0h2v1h-2zm8 0h1v1h-1zm2 0h1v1h-1zm-71 1h2v1h-2zm3 0h30v1h-30zm31 0h1v1h-1zm3 0h1v1h-1zm8 0h1v1h-1zm2 0h1v1h-1zm2 0h1v1h-1zm3 0h1v1h-1zm3 0h1v1h-1zm2 0h1v1h-1zm4 0h2v1h-2zm4 0h1v1h-1zm5 0h2v1h-2zm-74 1h1v1h-1zm2 0h2v1h-2zm4 0h33v1h-33zm47 0h2v1h-2zm7 0h4v1h-4zm5 0h1v1h-1zm6 0h1v1h-1zm-69 1h1v1h-1zm3 0h31v1h-31zm48 0h1v1h-1zm5 0h1v1h-1zm3 0h1v1h-1zm6 0h1v1h-1zm2 0h1v1h-1zm-63 1h29v1h-29zm-6 1h1v1h-1zm3 0h2v1h-2zm3 0h2v1h-2zm3 0h29v1h-29zm51 0h1v1h-1zm2 0h1v1h-1zm6 0h1v1h-1zm-63 1h31v1h-31zm32 0h1v1h-1zm-33 1h28v1h-28zm29 0h3v1h-3zm4 0h1v1h-1zm-33 1h1v1h-1zm4 0h1v1h-1zm2 0h25v1h-25zm-7 1h1v1h-1zm3 0h2v1h-2zm3 0h25v1h-25zm28 0h1v1h-1zm3 0h1v1h-1zm-35 1h30v1h-30zm40 0h1v1h-1zm-41 1h34v1h-34zm-2 1h1v1h-1zm2 0h1v1h-1zm2 0h30v1h-30zm1 1h27v1h-27zm28 0h1v1h-1zm-32 1h1v1h-1zm3 0h2v1h-2zm3 0h26v1h-26zm-5 1h2v1h-2zm3 0h30v1h-30zm32 0h1v1h-1zm-33 1h30v1h-30zm0 1h30v1h-30zm34 0h1v1h-1zm-40 1h1v1h-1zm5 0h30v1h-30zm1 1h27v1h-27zm-3 1h1v1h-1zm2 0h28v1h-28zm29 0h1v1h-1zm-33 1h1v1h-1zm2 0h1v1h-1zm5 0h28v1h-28zm-5 1h1v1h-1zm3 0h30v1h-30zm35 0h1v1h-1zm-37 1h30v1h-30zm31 0h2v1h-2zm-29 1h27v1h-27zm28 0h1v1h-1zm2 0h1v1h-1zm-35 1h1v1h-1zm3 0h32v1h-32zm38 0h1v1h-1zm-35 1h28v1h-28zm36 0h1v1h-1zm-43 1h1v1h-1zm6 0h1v1h-1zm2 0h24v1h-24zm25 0h2v1h-2zm3 0h1v1h-1zm12 0h1v1h-1zm-44 1h31v1h-31zm32 0h1v1h-1zm-35 1h1v1h-1zm4 0h29v1h-29zm31 0h1v1h-1zm-30 1h28v1h-28zm29 0h1v1h-1zm-34 1h1v1h-1zm4 0h31v1h-31zm-1 1h2v1h-2zm3 0h29v1h-29zm33 0h1v1h-1zm8 0h1v1h-1zm-45 1h1v1h-1zm2 0h32v1h-32zm-2 1h1v1h-1zm2 0h29v1h-29zm34 0h1v1h-1zm-34 1h29v1h-29zm30 0h2v1h-2zm-30 1h29v1h-29zm30 0h1v1h-1zm3 0h1v1h-1zm-36 1h1v1h-1zm2 0h1v1h-1zm3 0h26v1h-26zm34 0h1v1h-1zm-37 1h1v1h-1zm2 0h29v1h-29zm30 0h1v1h-1zm-32 1h28v1h-28zm29 0h1v1h-1zm-30 1h1v1h-1zm2 0h1v1h-1zm2 0h28v1h-28zm-5 1h2v1h-2zm3 0h29v1h-29zm31 0h1v1h-1zm-32 1h3v1h-3zm4 0h27v1h-27zm29 0h1v1h-1zm10 0h1v1h-1zm-46 1h4v1h-4zm5 0h29v1h-29zm31 0h1v1h-1zm-36 1h1v1h-1zm6 0h25v1h-25zm26 0h1v1h-1zm-29 1h28v1h-28zm31 0h1v1h-1zm7 0h1v1h-1zm-36 1h27v1h-27zm43 0h1v1h-1zm-47 1h2v1h-2zm3 0h27v1h-27zm28 0h1v1h-1zm-29 1h30v1h-30zm32 0h1v1h-1zm-32 1h1v1h-1zm2 0h27v1h-27zm29 0h1v1h-1zm2 0h1v1h-1zm-34 1h31v1h-31zm-3 1h1v1h-1zm4 0h29v1h-29zm31 0h1v1h-1zm-34 1h1v1h-1zm3 0h26v1h-26zm27 0h3v1h-3zm12 0h1v1h-1zm-39 1h1v1h-1zm3 0h24v1h-24zm25 0h2v1h-2zm13 0h1v1h-1zm-45 1h1v1h-1zm3 0h29v1h-29zm39 0h2v1h-2zm-37 1h1v1h-1zm2 0h26v1h-26zm31 0h1v1h-1zm2 0h1v1h-1zm-37 1h1v1h-1zm2 0h25v1h-25zm26 0h3v1h-3zm6 0h1v1h-1zm-34 1h28v1h-28zm29 0h2v1h-2z" fill="#000"/>
<path d="M462 433h1v1h-1zm-4 1h1v1h-1zm-4 2h1v1h-1zm8 1h1v1h-1zm14 0h1v1h-1zm-30 1h1v1h-1zm14 0h1v1h-1zm-15 1h1v1h-1zm13 0h1v1h-1zm2 0h2v1h-2zm3 0h1v1h-1zm5 0h1v1h-1zm2 0h1v1h-1zm5 0h1v1h-1zm6 0h1v1h-1zm2 0h2v1h-2zm-26 1h1v1h-1zm2 0h2v1h-2zm9 0h1v1h-1zm3 0h1v1h-1zm6 0h1v1h-1zm2 0h1v1h-1zm-44 1h1v1h-1zm10 0h1v1h-1zm3 0h1v1h-1zm2 0h1v1h-1zm9 0h1v1h-1zm6 0h2v1h-2zm4 0h1v1h-1zm4 0h1v1h-1zm2 0h1v1h-1zm5 0h2v1h-2zm5 0h1v1h-1zm2 0h1v1h-1zm-48 1h2v1h-2zm13 0h4v1h-4zm5 0h1v1h-1zm9 0h1v1h-1zm6 0h1v1h-1zm2 0h2v1h-2zm3 0h1v1h-1zm2 0h3v1h-3zm-38 1h4v1h-4zm5 0h1v1h-1zm9 0h1v1h-1zm6 0h3v1h-3zm7 0h1v1h-1zm4 0h4v1h-4zm6 0h1v1h-1zm3 0h2v1h-2zm5 0h1v1h-1zm2 0h1v1h-1zm-37 1h2v1h-2zm3 0h1v1h-1zm7 0h1v1h-1zm2 0h1v1h-1zm2 0h3v1h-3zm5 0h4v1h-4zm6 0h2v1h-2zm3 0h1v1h-1zm3 0h1v1h-1zm6 0h1v1h-1zm-46 1h1v1h-1zm4 0h1v1h-1zm2 0h2v1h-2zm7 0h4v1h-4zm5 0h1v1h-1zm2 0h12v1h-12zm14 0h2v1h-2zm5 0h3v1h-3zm-49 1h1v1h-1zm3 0h1v1h-1zm8 0h1v1h-1zm2 0h1v1h-1zm2 0h1v1h-1zm5 0h1v1h-1zm2 0h1v1h-1zm2 0h5v1h-5zm6 0h5v1h-5zm9 0h1v1h-1zm2 0h2v1h-2zm3 0h1v1h-1zm3 0h1v1h-1zm4 0h2v1h-2zm-39 1h1v1h-1zm2 0h1v1h-1zm3 0h3v1h-3zm7 0h6v1h-6zm7 0h2v1h-2zm4 0h1v1h-1zm2 0h3v1h-3zm4 0h4v1h-4zm6 0h1v1h-1zm4 0h2v1h-2zm-37 1h3v1h-3zm5 0h1v1h-1zm2 0h2v1h-2zm6 0h3v1h-3zm4 0h4v1h-4zm6 0h1v1h-1zm2 0h1v1h-1zm2 0h1v1h-1zm2 0h2v1h-2zm3 0h1v1h-1zm-42 1h3v1h-3zm10 0h1v1h-1zm3 0h1v1h-1zm2 0h1v1h-1zm2 0h1v1h-1zm2 0h3v1h-3zm5 0h5v1h-5zm6 0h1v1h-1zm2 0h2v1h-2zm3 0h1v1h-1zm2 0h1v1h-1zm3 0h1v1h-1zm-39 1h3v1h-3zm5 0h4v1h-4zm7 0h1v1h-1zm2 0h1v1h-1zm3 0h2v1h-2zm4 0h1v1h-1zm2 0h6v1h-6zm8 0h1v1h-1zm2 0h1v1h-1zm5 0h1v1h-1zm2 0h1v1h-1zm-49 1h1v1h-1zm2 0h2v1h-2zm5 0h1v1h-1zm2 0h1v1h-1zm4 0h9v1h-9zm12 0h5v1h-5zm6 0h4v1h-4zm5 0h1v1h-1zm2 0h2v1h-2zm4 0h1v1h-1zm2 0h1v1h-1zm6 0h1v1h-1zm2 0h1v1h-1zm-55 1h2v1h-2zm12 0h2v1h-2zm7 0h2v1h-2zm3 0h2v1h-2zm5 0h2v1h-2zm4 0h1v1h-1zm4 0h2v1h-2zm4 0h1v1h-1zm2 0h4v1h-4zm6 0h2v1h-2zm-47 1h1v1h-1zm10 0h1v1h-1zm6 0h1v1h-1zm3 0h1v1h-1zm2 0h3v1h-3zm5 0h2v1h-2zm3 0h4v1h-4zm7 0h2v1h-2zm3 0h1v1h-1zm2 0h1v1h-1zm4 0h2v1h-2zm3 0h1v1h-1zm-54 1h1v1h-1zm9 0h1v1h-1zm2 0h1v1h-1zm7 0h2v1h-2zm5 0h5v1h-5zm6 0h5v1h-5zm6 0h1v1h-1zm2 0h3v1h-3zm4 0h1v1h-1zm4 0h1v1h-1zm9 0h1v1h-1zm-47 1h1v1h-1zm2 0h1v1h-1zm2 0h1v1h-1zm6 0h3v1h-3zm4 0h3v1h-3zm5 0h1v1h-1zm3 0h1v1h-1zm2 0h2v1h-2zm3 0h3v1h-3zm6 0h4v1h-4zm5 0h2v1h-2zm4 0h1v1h-1zm2 0h1v1h-1zm2 0h1v1h-1zm-44 1h1v1h-1zm4 0h1v1h-1zm2 0h1v1h-1zm3 0h4v1h-4zm5 0h5v1h-5zm6 0h1v1h-1zm2 0h7v1h-7zm10 0h2v1h-2zm3 0h1v1h-1zm2 0h1v1h-1zm3 0h1v1h-1zm6 0h1v1h-1zm-48 1h1v1h-1zm3 0h1v1h-1zm9 0h1v1h-1zm7 0h2v1h-2zm4 0h6v1h-6zm8 0h2v1h-2zm5 0h1v1h-1zm4 0h1v1h-1zm-43 1h1v1h-1zm2 0h1v1h-1zm4 0h1v1h-1zm2 0h7v1h-7zm8 0h3v1h-3zm5 0h2v1h-2zm3 0h3v1h-3zm8 0h5v1h-5zm9 0h1v1h-1zm2 0h1v1h-1zm2 0h2v1h-2zm5 0h1v1h-1zm-42 1h3v1h-3zm4 0h2v1h-2zm3 0h1v1h-1zm3 0h3v1h-3zm4 0h1v1h-1zm2 0h2v1h-2zm3 0h1v1h-1zm2 0h6v1h-6zm7 0h1v1h-1zm3 0h1v1h-1zm-38 1h1v1h-1zm4 0h1v1h-1zm3 0h1v1h-1zm3 0h1v1h-1zm2 0h3v1h-3zm4 0h1v1h-1zm3 0h8v1h-8zm9 0h5v1h-5zm6 0h1v1h-1zm2 0h1v1h-1zm2 0h1v1h-1zm8 0h1v1h-1zm-51 1h1v1h-1zm12 0h2v1h-2zm3 0h4v1h-4zm5 0h1v1h-1zm2 0h1v1h-1zm2 0h4v1h-4zm5 0h1v1h-1zm4 0h1v1h-1zm2 0h1v1h-1zm2 0h1v1h-1zm2 0h1v1h-1zm2 0h5v1h-5zm-45 1h1v1h-1zm7 0h1v1h-1zm2 0h1v1h-1zm4 0h1v1h-1zm2 0h1v1h-1zm2 0h3v1h-3zm4 0h10v1h-10zm12 0h5v1h-5zm6 0h2v1h-2zm4 0h1v1h-1zm2 0h1v1h-1zm2 0h2v1h-2zm6 0h1v1h-1zm-50 1h1v1h-1zm3 0h1v1h-1zm5 0h1v1h-1zm4 0h2v1h-2zm3 0h1v1h-1zm2 0h3v1h-3zm5 0h3v1h-3zm6 0h6v1h-6zm7 0h3v1h-3zm4 0h1v1h-1zm5 0h1v1h-1zm8 0h1v1h-1zm-49 1h1v1h-1zm3 0h2v1h-2zm3 0h2v1h-2zm5 0h3v1h-3zm4 0h2v1h-2zm4 0h1v1h-1zm3 0h8v1h-8zm9 0h2v1h-2zm5 0h1v1h-1zm3 0h3v1h-3zm-48 1h1v1h-1zm5 0h1v1h-1zm3 0h1v1h-1zm3 0h1v1h-1zm3 0h1v1h-1zm2 0h2v1h-2zm4 0h2v1h-2zm3 0h4v1h-4zm5 0h1v1h-1zm2 0h1v1h-1zm2 0h1v1h-1zm4 0h3v1h-3zm4 0h6v1h-6zm7 0h1v1h-1zm4 0h2v1h-2zm-41 1h1v1h-1zm2 0h1v1h-1zm3 0h4v1h-4zm7 0h7v1h-7zm9 0h2v1h-2zm3 0h1v1h-1zm4 0h1v1h-1zm3 0h1v1h-1zm3 0h1v1h-1zm2 0h1v1h-1zm3 0h2v1h-2zm-43 1h1v1h-1zm3 0h2v1h-2zm3 0h4v1h-4zm5 0h1v1h-1zm2 0h2v1h-2zm5 0h1v1h-1zm2 0h3v1h-3zm4 0h3v1h-3zm5 0h1v1h-1zm2 0h2v1h-2zm3 0h2v1h-2zm-33 1h2v1h-2zm6 0h1v1h-1zm3 0h12v1h-12zm13 0h1v1h-1zm2 0h3v1h-3zm4 0h2v1h-2zm4 0h1v1h-1zm2 0h1v1h-1zm10 0h1v1h-1zm-54 1h1v1h-1zm3 0h1v1h-1zm11 0h1v1h-1zm2 0h6v1h-6zm7 0h1v1h-1zm2 0h11v1h-11zm13 0h1v1h-1zm3 0h2v1h-2zm9 0h1v1h-1zm-47 1h1v1h-1zm6 0h1v1h-1zm6 0h1v1h-1zm2 0h18v1h-18zm19 0h1v1h-1zm5 0h1v1h-1zm3 0h1v1h-1zm2 0h1v1h-1zm3 0h1v1h-1zm2 0h1v1h-1zm-34 1h14v1h-14zm15 0h2v1h-2zm3 0h1v1h-1zm5 0h2v1h-2zm3 0h2v1h-2zm6 0h1v1h-1zm-43 1h2v1h-2zm3 0h1v1h-1zm3 0h1v1h-1zm4 0h9v1h-9zm10 0h2v1h-2zm3 0h8v1h-8zm9 0h1v1h-1zm3 0h1v1h-1zm3 0h1v1h-1zm-32 1h2v1h-2zm3 0h1v1h-1zm2 0h3v1h-3zm4 0h3v1h-3zm4 0h9v1h-9zm10 0h1v1h-1zm4 0h1v1h-1zm3 0h1v1h-1zm5 0h2v1h-2zm3 0h1v1h-1zm-39 1h1v1h-1zm2 0h10v1h-10zm11 0h11v1h-11zm12 0h1v1h-1zm5 0h1v1h-1zm-41 1h1v1h-1zm5 0h1v1h-1zm10 0h4v1h-4zm6 0h7v1h-7zm8 0h6v1h-6zm9 0h1v1h-1zm3 0h3v1h-3zm4 0h1v1h-1zm2 0h1v1h-1zm-37 1h2v1h-2zm3 0h1v1h-1zm2 0h5v1h-5zm6 0h15v1h-15zm20 0h2v1h-2zm5 0h1v1h-1zm3 0h1v1h-1zm-41 1h1v1h-1zm4 0h1v1h-1zm2 0h3v1h-3zm4 0h16v1h-16zm22 0h3v1h-3zm9 0h1v1h-1zm-38 1h2v1h-2zm4 0h19v1h-19zm20 0h2v1h-2zm4 0h2v1h-2zm4 0h1v1h-1zm5 0h2v1h-2zm-40 1h2v1h-2zm5 0h2v1h-2zm3 0h1v1h-1zm2 0h17v1h-17zm18 0h1v1h-1zm10 0h1v1h-1zm-45 1h1v1h-1zm13 0h22v1h-22zm24 0h3v1h-3zm9 0h1v1h-1zm-41 1h2v1h-2zm8 0h6v1h-6zm7 0h14v1h-14zm15 0h2v1h-2zm5 0h1v1h-1zm-28 1h1v1h-1zm2 0h21v1h-21zm24 0h2v1h-2zm-27 1h3v1h-3zm4 0h18v1h-18zm19 0h1v1h-1zm-26 1h2v1h-2zm6 0h19v1h-19zm20 0h1v1h-1zm3 0h2v1h-2zm3 0h1v1h-1zm4 0h1v1h-1zm-41 1h1v1h-1zm10 0h16v1h-16zm17 0h7v1h-7zm9 0h1v1h-1zm2 0h1v1h-1zm4 0h1v1h-1zm-41 1h1v1h-1zm2 0h1v1h-1zm4 0h1v1h-1zm3 0h21v1h-21zm22 0h1v1h-1zm2 0h2v1h-2zm5 0h1v1h-1zm-36 1h1v1h-1zm2 0h1v1h-1zm5 0h7v1h-7zm8 0h12v1h-12zm13 0h2v1h-2zm3 0h1v1h-1zm2 0h1v1h-1zm6 0h1v1h-1zm-39 1h1v1h-1zm3 0h1v1h-1zm3 0h1v1h-1zm3 0h1v1h-1zm2 0h19v1h-19zm24 0h1v1h-1zm-36 1h1v1h-1zm5 0h2v1h-2zm4 0h19v1h-19zm20 0h2v1h-2zm4 0h1v1h-1zm3 0h1v1h-1zm-36 1h1v1h-1zm4 0h1v1h-1zm2 0h3v1h-3zm5 0h2v1h-2zm3 0h18v1h-18zm21 0h1v1h-1zm6 0h2v1h-2zm-45 1h1v1h-1zm10 0h22v1h-22zm24 0h3v1h-3zm5 0h1v1h-1zm-41 1h1v1h-1zm8 0h1v1h-1zm3 0h3v1h-3zm4 0h20v1h-20zm21 0h1v1h-1zm2 0h1v1h-1zm5 0h1v1h-1zm-32 1h1v1h-1zm2 0h19v1h-19zm20 0h2v1h-2zm3 0h1v1h-1zm5 0h1v1h-1zm2 0h1v1h-1zm-37 1h1v1h-1zm6 0h2v1h-2zm3 0h22v1h-22zm24 0h2v1h-2zm8 0h1v1h-1zm-35 1h1v1h-1zm2 0h22v1h-22zm25 0h2v1h-2zm3 0h2v1h-2zm3 0h1v1h-1zm-42 1h1v1h-1zm7 0h1v1h-1zm2 0h2v1h-2zm3 0h21v1h-21zm22 0h1v1h-1zm3 0h1v1h-1zm4 0h1v1h-1zm4 0h1v1h-1zm-44 1h1v1h-1zm3 0h1v1h-1zm6 0h20v1h-20zm21 0h2v1h-2zm9 0h1v1h-1zm2 0h1v1h-1zm-39 1h1v1h-1zm2 0h1v1h-1zm2 0h1v1h-1zm5 0h22v1h-22zm25 0h1v1h-1zm2 0h1v1h-1zm-32 1h1v1h-1zm5 0h1v1h-1zm2 0h19v1h-19zm23 0h1v1h-1zm2 0h1v1h-1zm2 0h1v1h-1zm-38 1h2v1h-2zm5 0h2v1h-2zm3 0h20v1h-20zm21 0h1v1h-1zm3 0h1v1h-1zm2 0h1v1h-1zm4 0h1v1h-1zm-41 1h1v1h-1zm5 0h1v1h-1zm5 0h1v1h-1zm2 0h3v1h-3zm4 0h17v1h-17zm18 0h1v1h-1zm2 0h3v1h-3zm4 0h2v1h-2zm-34 1h3v1h-3zm5 0h7v1h-7zm8 0h15v1h-15zm17 0h2v1h-2zm-36 1h1v1h-1zm9 0h1v1h-1zm2 0h3v1h-3zm4 0h16v1h-16zm17 0h1v1h-1zm3 0h2v1h-2zm7 0h1v1h-1zm-37 1h3v1h-3zm4 0h21v1h-21zm22 0h1v1h-1zm2 0h4v1h-4zm-30 1h1v1h-1zm2 0h1v1h-1zm2 0h1v1h-1zm3 0h1v1h-1zm3 0h20v1h-20zm21 0h1v1h-1zm-35 1h1v1h-1zm10 0h3v1h-3zm4 0h20v1h-20zm21 0h1v1h-1zm-25 1h17v1h-17zm18 0h3v1h-3zm4 0h1v1h-1zm3 0h1v1h-1zm2 0h1v1h-1zm-30 1h1v1h-1zm3 0h1v1h-1zm4 0h4v1h-4zm5 0h9v1h-9zm10 0h2v1h-2zm3 0h2v1h-2zm-28 1h1v1h-1zm3 0h1v1h-1zm4 0h7v1h-7zm8 0h14v1h-14zm18 0h1v1h-1zm-33 1h3v1h-3zm6 0h9v1h-9zm10 0h12v1h-12zm13 0h1v1h-1zm2 0h1v1h-1zm5 0h1v1h-1zm6 0h1v1h-1zm-42 1h1v1h-1zm2 0h1v1h-1zm4 0h3v1h-3zm4 0h16v1h-16zm17 0h2v1h-2zm6 0h2v1h-2zm-33 1h2v1h-2zm6 0h3v1h-3zm4 0h6v1h-6zm7 0h12v1h-12zm15 0h1v1h-1zm2 0h2v1h-2zm-32 1h1v1h-1zm3 0h1v1h-1zm3 0h7v1h-7zm8 0h10v1h-10zm12 0h1v1h-1zm-28 1h2v1h-2zm3 0h1v1h-1zm2 0h1v1h-1zm2 0h3v1h-3zm4 0h18v1h-18zm20 0h1v1h-1zm9 0h1v1h-1zm-45 1h1v1h-1zm4 0h1v1h-1zm4 0h1v1h-1zm2 0h1v1h-1zm3 0h1v1h-1zm2 0h23v1h-23zm26 0h1v1h-1zm5 0h1v1h-1zm-43 1h1v1h-1zm5 0h1v1h-1zm3 0h21v1h-21zm22 0h1v1h-1zm2 0h1v1h-1zm3 0h2v1h-2zm-34 1h1v1h-1zm2 0h2v1h-2zm3 0h2v1h-2zm3 0h1v1h-1zm2 0h17v1h-17zm29 0h1v1h-1z" fill="#000"/>
<rect x="49" y="339.3" width="86.9" height="87" fill="none" stroke="#000" stroke-width="1.3"/>
<line x1="49" y1="374.5" x2="135.9" y2="374.5" stroke="#111" stroke-width="1"/>
<line x1="47.8" y1="342.3" x2="47.8" y2="426.3" stroke="#555" stroke-width="1" stroke-dasharray="0.6 8.1"/>
<line x1="51" y1="427.5" x2="135.9" y2="427.5" stroke="#555" stroke-width="1" stroke-dasharray="0.6 8.1"/>
<rect x="49" y="431.3" width="86.9" height="87" fill="none" stroke="#000" stroke-width="1.3"/>
<line x1="49" y1="468.5" x2="135.9" y2="468.5" stroke="#111" stroke-width="1"/>
<line x1="47.8" y1="434.3" x2="47.8" y2="518.3" stroke="#555" stroke-width="1" stroke-dasharray="0.6 8.1"/>
<line x1="51" y1="519.5" x2="135.9" y2="519.5" stroke="#555" stroke-width="1" stroke-dasharray="0.6 8.1"/>
<rect x="138.9" y="339.3" width="86.9" height="87" fill="none" stroke="#000" stroke-width="1.3"/>
<line x1="138.9" y1="374.5" x2="225.8" y2="374.5" stroke="#111" stroke-width="1"/>
<line x1="137.7" y1="342.3" x2="137.7" y2="426.3" stroke="#555" stroke-width="1" stroke-dasharray="0.6 8.1"/>
<line x1="140.9" y1="427.5" x2="225.8" y2="427.5" stroke="#555" stroke-width="1" stroke-dasharray="0.6 8.1"/>
<rect x="138.9" y="431.3" width="86.9" height="87" fill="none" stroke="#000" stroke-width="1.3"/>
<line x1="138.9" y1="468.5" x2="225.8" y2="468.5" stroke="#111" stroke-width="1"/>
<line x1="137.7" y1="434.3" x2="137.7" y2="518.3" stroke="#555" stroke-width="1" stroke-dasharray="0.6 8.1"/>
<line x1="140.9" y1="519.5" x2="225.8" y2="519.5" stroke="#555" stroke-width="1" stroke-dasharray="0.6 8.1"/>
<rect x="228.8" y="339.3" width="86.9" height="87" fill="none" stroke="#000" stroke-width="1.3"/>
<line x1="228.8" y1="372.5" x2="315.7" y2="372.5" stroke="#111" stroke-width="1"/>
<line x1="227.6" y1="342.3" x2="227.6" y2="426.3" stroke="#555" stroke-width="1" stroke-dasharray="0.6 8.1"/>
<line x1="230.8" y1="427.5" x2="315.7" y2="427.5" stroke="#555" stroke-width="1" stroke-dasharray="0.6 8.1"/>
<rect x="228.8" y="431.3" width="86.9" height="87" fill="none" stroke="#000" stroke-width="1.3"/>
<line x1="228.8" y1="467.5" x2="315.7" y2="467.5" stroke="#111" stroke-width="1"/>
<line x1="227.6" y1="434.3" x2="227.6" y2="518.3" stroke="#555" stroke-width="1" stroke-dasharray="0.6 8.1"/>
<line x1="230.8" y1="519.5" x2="315.7" y2="519.5" stroke="#555" stroke-width="1" stroke-dasharray="0.6 8.1"/>
<rect x="318.6" y="339.3" width="86.9" height="87" fill="none" stroke="#000" stroke-width="1.3"/>
<line x1="318.6" y1="368.5" x2="405.5" y2="368.5" stroke="#111" stroke-width="1"/>
<line x1="317.4" y1="342.3" x2="317.4" y2="426.3" stroke="#555" stroke-width="1" stroke-dasharray="0.6 8.1"/>
<line x1="320.6" y1="427.5" x2="405.5" y2="427.5" stroke="#555" stroke-width="1" stroke-dasharray="0.6 8.1"/>
<rect x="318.6" y="431.3" width="86.9" height="87" fill="none" stroke="#000" stroke-width="1.3"/>
<line x1="318.6" y1="464.5" x2="405.5" y2="464.5" stroke="#111" stroke-width="1"/>
<line x1="317.4" y1="434.3" x2="317.4" y2="518.3" stroke="#555" stroke-width="1" stroke-dasharray="0.6 8.1"/>
<line x1="320.6" y1="519.5" x2="405.5" y2="519.5" stroke="#555" stroke-width="1" stroke-dasharray="0.6 8.1"/>
<rect x="408.6" y="339.3" width="86.9" height="87" fill="none" stroke="#000" stroke-width="1.3"/>
<line x1="408.6" y1="374.5" x2="495.5" y2="374.5" stroke="#111" stroke-width="1"/>
<line x1="407.4" y1="342.3" x2="407.4" y2="426.3" stroke="#555" stroke-width="1" stroke-dasharray="0.6 8.1"/>
<line x1="410.6" y1="427.5" x2="495.5" y2="427.5" stroke="#555" stroke-width="1" stroke-dasharray="0.6 8.1"/>
<rect x="408.6" y="431.3" width="86.9" height="87" fill="none" stroke="#000" stroke-width="1.3"/>
<line x1="408.6" y1="468.5" x2="495.5" y2="468.5" stroke="#111" stroke-width="1"/>
<line x1="407.4" y1="434.3" x2="407.4" y2="518.3" stroke="#555" stroke-width="1" stroke-dasharray="0.6 8.1"/>
<line x1="410.6" y1="519.5" x2="495.5" y2="519.5" stroke="#555" stroke-width="1" stroke-dasharray="0.6 8.1"/>
<line x1="88.5" y1="339.8" x2="88.5" y2="425.8" stroke="#444" stroke-width="0.9"/>
<line x1="94.5" y1="339.8" x2="94.5" y2="425.8" stroke="#444" stroke-width="0.9"/>
<line x1="100.5" y1="339.8" x2="100.5" y2="425.8" stroke="#444" stroke-width="0.9"/>
<line x1="107.5" y1="339.8" x2="107.5" y2="425.8" stroke="#444" stroke-width="0.9"/>
<line x1="113.5" y1="339.8" x2="113.5" y2="425.8" stroke="#444" stroke-width="0.9"/>
<line x1="120.5" y1="339.8" x2="120.5" y2="425.8" stroke="#444" stroke-width="0.9"/>
<text x="87.7" y="344.8" font-size="6.8" text-anchor="end" font-weight="bold" fill="#d9a462" stroke="#d9a462" stroke-width="0.08">&gt;5</text>
<text x="91.4" y="344.8" font-size="6.8" text-anchor="middle" font-weight="bold" fill="#d9a462" stroke="#d9a462" stroke-width="0.08">5</text>
<text x="97.45" y="344.8" font-size="6.8" text-anchor="middle" font-weight="bold" fill="#c97a8e" stroke="#c97a8e" stroke-width="0.08">4</text>
<text x="103.85" y="344.8" font-size="6.8" text-anchor="middle" font-weight="bold" fill="#c97a8e" stroke="#c97a8e" stroke-width="0.08">3</text>
<text x="110.4" y="344.8" font-size="6.8" text-anchor="middle" font-weight="bold" fill="#c97a8e" stroke="#c97a8e" stroke-width="0.08">2</text>
<text x="116.95" y="344.8" font-size="6.8" text-anchor="middle" font-weight="bold" fill="#3c1a1e" stroke="#3c1a1e" stroke-width="0.08">1</text>
<text x="124" y="344.8" font-size="6.8" text-anchor="middle" font-weight="bold" fill="#2e1416" stroke="#2e1416" stroke-width="0.08">0</text>
<line x1="88.5" y1="431.8" x2="88.5" y2="436" stroke="#222" stroke-width="1"/>
<line x1="94.5" y1="431.8" x2="94.5" y2="436" stroke="#222" stroke-width="1"/>
<line x1="100.5" y1="431.8" x2="100.5" y2="436" stroke="#222" stroke-width="1"/>
<line x1="107.5" y1="431.8" x2="107.5" y2="436" stroke="#222" stroke-width="1"/>
<line x1="113.5" y1="431.8" x2="113.5" y2="436" stroke="#222" stroke-width="1"/>
<line x1="120.5" y1="431.8" x2="120.5" y2="436" stroke="#222" stroke-width="1"/>
<text x="177.9" y="344.8" font-size="6.8" text-anchor="end" font-weight="bold" fill="#d9a462" stroke="#d9a462" stroke-width="0.08">&gt;5</text>
<text x="181.55" y="344.8" font-size="6.8" text-anchor="middle" font-weight="bold" fill="#d9a462" stroke="#d9a462" stroke-width="0.08">5</text>
<text x="188.05" y="344.8" font-size="6.8" text-anchor="middle" font-weight="bold" fill="#c97a8e" stroke="#c97a8e" stroke-width="0.08">4</text>
<text x="194.7" y="344.8" font-size="6.8" text-anchor="middle" font-weight="bold" fill="#c97a8e" stroke="#c97a8e" stroke-width="0.08">3</text>
<text x="201.45" y="344.8" font-size="6.8" text-anchor="middle" font-weight="bold" fill="#c97a8e" stroke="#c97a8e" stroke-width="0.08">2</text>
<text x="208.2" y="344.8" font-size="6.8" text-anchor="middle" font-weight="bold" fill="#3c1a1e" stroke="#3c1a1e" stroke-width="0.08">1</text>
<text x="215" y="344.8" font-size="6.8" text-anchor="middle" font-weight="bold" fill="#2e1416" stroke="#2e1416" stroke-width="0.08">0</text>
<line x1="178.5" y1="339.8" x2="178.5" y2="345.6" stroke="#666" stroke-width="0.8"/>
<line x1="184.5" y1="339.8" x2="184.5" y2="345.6" stroke="#666" stroke-width="0.8"/>
<line x1="191.5" y1="339.8" x2="191.5" y2="345.6" stroke="#666" stroke-width="0.8"/>
<line x1="197.5" y1="339.8" x2="197.5" y2="345.6" stroke="#666" stroke-width="0.8"/>
<line x1="205.5" y1="339.8" x2="205.5" y2="345.6" stroke="#666" stroke-width="0.8"/>
<line x1="211.5" y1="339.8" x2="211.5" y2="345.6" stroke="#666" stroke-width="0.8"/>
<line x1="178.5" y1="431.8" x2="178.5" y2="436" stroke="#222" stroke-width="1"/>
<line x1="184.5" y1="431.8" x2="184.5" y2="436" stroke="#222" stroke-width="1"/>
<line x1="191.5" y1="431.8" x2="191.5" y2="436" stroke="#222" stroke-width="1"/>
<line x1="197.5" y1="431.8" x2="197.5" y2="436" stroke="#222" stroke-width="1"/>
<line x1="205.5" y1="431.8" x2="205.5" y2="436" stroke="#222" stroke-width="1"/>
<line x1="211.5" y1="431.8" x2="211.5" y2="436" stroke="#222" stroke-width="1"/>
<text x="262.7" y="344.8" font-size="6.8" text-anchor="end" font-weight="bold" fill="#d9a462" stroke="#d9a462" stroke-width="0.08">&gt;5</text>
<text x="266.35" y="344.8" font-size="6.8" text-anchor="middle" font-weight="bold" fill="#d9a462" stroke="#d9a462" stroke-width="0.08">5</text>
<text x="272.4" y="344.8" font-size="6.8" text-anchor="middle" font-weight="bold" fill="#c97a8e" stroke="#c97a8e" stroke-width="0.08">4</text>
<text x="279.05" y="344.8" font-size="6.8" text-anchor="middle" font-weight="bold" fill="#c97a8e" stroke="#c97a8e" stroke-width="0.08">3</text>
<text x="286" y="344.8" font-size="6.8" text-anchor="middle" font-weight="bold" fill="#c97a8e" stroke="#c97a8e" stroke-width="0.08">2</text>
<text x="292.6" y="344.8" font-size="6.8" text-anchor="middle" font-weight="bold" fill="#3c1a1e" stroke="#3c1a1e" stroke-width="0.08">1</text>
<text x="299.5" y="344.8" font-size="6.8" text-anchor="middle" font-weight="bold" fill="#2e1416" stroke="#2e1416" stroke-width="0.08">0</text>
<line x1="263.5" y1="339.8" x2="263.5" y2="345.6" stroke="#666" stroke-width="0.8"/>
<line x1="269.5" y1="339.8" x2="269.5" y2="345.6" stroke="#666" stroke-width="0.8"/>
<line x1="275.5" y1="339.8" x2="275.5" y2="345.6" stroke="#666" stroke-width="0.8"/>
<line x1="282.5" y1="339.8" x2="282.5" y2="345.6" stroke="#666" stroke-width="0.8"/>
<line x1="289.5" y1="339.8" x2="289.5" y2="345.6" stroke="#666" stroke-width="0.8"/>
<line x1="295.5" y1="339.8" x2="295.5" y2="345.6" stroke="#666" stroke-width="0.8"/>
<line x1="263.5" y1="431.8" x2="263.5" y2="436" stroke="#222" stroke-width="1"/>
<line x1="269.5" y1="431.8" x2="269.5" y2="436" stroke="#222" stroke-width="1"/>
<line x1="275.5" y1="431.8" x2="275.5" y2="436" stroke="#222" stroke-width="1"/>
<line x1="282.5" y1="431.8" x2="282.5" y2="436" stroke="#222" stroke-width="1"/>
<line x1="289.5" y1="431.8" x2="289.5" y2="436" stroke="#222" stroke-width="1"/>
<line x1="295.5" y1="431.8" x2="295.5" y2="436" stroke="#222" stroke-width="1"/>
<text x="359" y="344.8" font-size="6.8" text-anchor="end" font-weight="bold" fill="#d9a462" stroke="#d9a462" stroke-width="0.08">&gt;5</text>
<text x="362.9" y="344.8" font-size="6.8" text-anchor="middle" font-weight="bold" fill="#d9a462" stroke="#d9a462" stroke-width="0.08">5</text>
<text x="369.45" y="344.8" font-size="6.8" text-anchor="middle" font-weight="bold" fill="#c97a8e" stroke="#c97a8e" stroke-width="0.08">4</text>
<text x="375.9" y="344.8" font-size="6.8" text-anchor="middle" font-weight="bold" fill="#c97a8e" stroke="#c97a8e" stroke-width="0.08">3</text>
<text x="382.6" y="344.8" font-size="6.8" text-anchor="middle" font-weight="bold" fill="#c97a8e" stroke="#c97a8e" stroke-width="0.08">2</text>
<text x="389.1" y="344.8" font-size="6.8" text-anchor="middle" font-weight="bold" fill="#3c1a1e" stroke="#3c1a1e" stroke-width="0.08">1</text>
<text x="395.7" y="344.8" font-size="6.8" text-anchor="middle" font-weight="bold" fill="#2e1416" stroke="#2e1416" stroke-width="0.08">0</text>
<line x1="359.5" y1="339.8" x2="359.5" y2="345.6" stroke="#666" stroke-width="0.8"/>
<line x1="366.5" y1="339.8" x2="366.5" y2="345.6" stroke="#666" stroke-width="0.8"/>
<line x1="372.5" y1="339.8" x2="372.5" y2="345.6" stroke="#666" stroke-width="0.8"/>
<line x1="379.5" y1="339.8" x2="379.5" y2="345.6" stroke="#666" stroke-width="0.8"/>
<line x1="386.5" y1="339.8" x2="386.5" y2="345.6" stroke="#666" stroke-width="0.8"/>
<line x1="392.5" y1="339.8" x2="392.5" y2="345.6" stroke="#666" stroke-width="0.8"/>
<line x1="359.5" y1="431.8" x2="359.5" y2="436" stroke="#222" stroke-width="1"/>
<line x1="366.5" y1="431.8" x2="366.5" y2="436" stroke="#222" stroke-width="1"/>
<line x1="372.5" y1="431.8" x2="372.5" y2="436" stroke="#222" stroke-width="1"/>
<line x1="379.5" y1="431.8" x2="379.5" y2="436" stroke="#222" stroke-width="1"/>
<line x1="386.5" y1="431.8" x2="386.5" y2="436" stroke="#222" stroke-width="1"/>
<line x1="392.5" y1="431.8" x2="392.5" y2="436" stroke="#222" stroke-width="1"/>
<text x="445.5" y="344.8" font-size="6.8" text-anchor="end" font-weight="bold" fill="#d9a462" stroke="#d9a462" stroke-width="0.08">&gt;5</text>
<text x="449.4" y="344.8" font-size="6.8" text-anchor="middle" font-weight="bold" fill="#d9a462" stroke="#d9a462" stroke-width="0.08">5</text>
<text x="456.15" y="344.8" font-size="6.8" text-anchor="middle" font-weight="bold" fill="#c97a8e" stroke="#c97a8e" stroke-width="0.08">4</text>
<text x="462.9" y="344.8" font-size="6.8" text-anchor="middle" font-weight="bold" fill="#c97a8e" stroke="#c97a8e" stroke-width="0.08">3</text>
<text x="469.65" y="344.8" font-size="6.8" text-anchor="middle" font-weight="bold" fill="#c97a8e" stroke="#c97a8e" stroke-width="0.08">2</text>
<text x="476.3" y="344.8" font-size="6.8" text-anchor="middle" font-weight="bold" fill="#3c1a1e" stroke="#3c1a1e" stroke-width="0.08">1</text>
<text x="483.1" y="344.8" font-size="6.8" text-anchor="middle" font-weight="bold" fill="#2e1416" stroke="#2e1416" stroke-width="0.08">0</text>
<line x1="446.5" y1="339.8" x2="446.5" y2="345.6" stroke="#666" stroke-width="0.8"/>
<line x1="452.5" y1="339.8" x2="452.5" y2="345.6" stroke="#666" stroke-width="0.8"/>
<line x1="459.5" y1="339.8" x2="459.5" y2="345.6" stroke="#666" stroke-width="0.8"/>
<line x1="466.5" y1="339.8" x2="466.5" y2="345.6" stroke="#666" stroke-width="0.8"/>
<line x1="473.5" y1="339.8" x2="473.5" y2="345.6" stroke="#666" stroke-width="0.8"/>
<line x1="479.5" y1="339.8" x2="479.5" y2="345.6" stroke="#666" stroke-width="0.8"/>
<line x1="446.5" y1="431.8" x2="446.5" y2="436" stroke="#222" stroke-width="1"/>
<line x1="452.5" y1="431.8" x2="452.5" y2="436" stroke="#222" stroke-width="1"/>
<line x1="459.5" y1="431.8" x2="459.5" y2="436" stroke="#222" stroke-width="1"/>
<line x1="466.5" y1="431.8" x2="466.5" y2="436" stroke="#222" stroke-width="1"/>
<line x1="473.5" y1="431.8" x2="473.5" y2="436" stroke="#222" stroke-width="1"/>
<line x1="479.5" y1="431.8" x2="479.5" y2="436" stroke="#222" stroke-width="1"/>
<text transform="translate(44.3 383.4) rotate(-90)" font-size="10" text-anchor="middle" fill="#222" stroke="#222" stroke-width="0.22">c-Kit</text>
<text transform="translate(44.4 476.2) rotate(-90)" font-size="10" text-anchor="middle" fill="#222" stroke="#222" stroke-width="0.22">Sca-1</text>
<text x="270.8" y="532.3" font-size="10.3" text-anchor="middle" fill="#1a1a1a" stroke="#1a1a1a" stroke-width="0.22">CFSE</text>
<path d="M496.2 354.5 H512.8 V481 H499" fill="none" stroke="#111" stroke-width="1.2"/>
<path d="M495.8 481 l4 -2 l0 4 z" fill="#111"/>
<text x="60" y="550.6" font-size="10.2" fill="#1a1a1a" stroke="#1a1a1a" stroke-width="0.22">0-1x divided cells</text>
<text x="172" y="550.6" font-size="10.2" fill="#1a1a1a" stroke="#1a1a1a" stroke-width="0.22">2-4x divided cells</text>
<text x="289.5" y="550.6" font-size="10.2" fill="#1a1a1a" stroke="#1a1a1a" stroke-width="0.22">5x divided cells</text>
<text x="398.8" y="550.6" font-size="10.2" fill="#1a1a1a" stroke="#1a1a1a" stroke-width="0.22">&gt; 5x divided cells</text>
<rect x="58.1" y="613.6" width="11.7" height="60.8" fill="#8c1a1a"/>
<line x1="63.95" y1="606.6" x2="63.95" y2="614.1" stroke="#111" stroke-width="1.3"/>
<line x1="61.25" y1="607.3" x2="66.65" y2="607.3" stroke="#111" stroke-width="1.5"/>
<rect x="75.95" y="637.5" width="11.7" height="36.9" fill="#8c1a1a"/>
<line x1="81.8" y1="632.5" x2="81.8" y2="638" stroke="#111" stroke-width="1.3"/>
<line x1="79.1" y1="633.2" x2="84.5" y2="633.2" stroke="#111" stroke-width="1.5"/>
<rect x="93.8" y="610" width="11.7" height="64.4" fill="#8c1a1a"/>
<line x1="99.65" y1="596.2" x2="99.65" y2="610.5" stroke="#111" stroke-width="1.3"/>
<line x1="96.95" y1="596.9" x2="102.35" y2="596.9" stroke="#111" stroke-width="1.5"/>
<rect x="111.65" y="673.4" width="11.7" height="1" fill="#8c1a1a"/>
<line x1="117.5" y1="672.6" x2="117.5" y2="673.9" stroke="#111" stroke-width="1.3"/>
<line x1="114.8" y1="673.3" x2="120.2" y2="673.3" stroke="#111" stroke-width="1.5"/>
<rect x="129.5" y="624.5" width="11.7" height="49.9" fill="#8c1a1a"/>
<line x1="135.35" y1="605" x2="135.35" y2="625" stroke="#111" stroke-width="1.3"/>
<line x1="132.65" y1="605.7" x2="138.05" y2="605.7" stroke="#111" stroke-width="1.5"/>
<line x1="55" y1="590.2" x2="55" y2="675" stroke="#111" stroke-width="1.2"/>
<line x1="52.4" y1="674.4" x2="55" y2="674.4" stroke="#111" stroke-width="1.1"/>
<text x="48.8" y="677.5" font-size="8.9" text-anchor="end" fill="#1a1a1a" stroke="#1a1a1a" stroke-width="0.16">0</text>
<line x1="52.4" y1="658.32" x2="55" y2="658.32" stroke="#111" stroke-width="1.1"/>
<text x="48.8" y="661.42" font-size="8.9" text-anchor="end" fill="#1a1a1a" stroke="#1a1a1a" stroke-width="0.16">2</text>
<line x1="52.4" y1="642.24" x2="55" y2="642.24" stroke="#111" stroke-width="1.1"/>
<text x="48.8" y="645.34" font-size="8.9" text-anchor="end" fill="#1a1a1a" stroke="#1a1a1a" stroke-width="0.16">4</text>
<line x1="52.4" y1="626.16" x2="55" y2="626.16" stroke="#111" stroke-width="1.1"/>
<text x="48.8" y="629.26" font-size="8.9" text-anchor="end" fill="#1a1a1a" stroke="#1a1a1a" stroke-width="0.16">6</text>
<line x1="52.4" y1="610.08" x2="55" y2="610.08" stroke="#111" stroke-width="1.1"/>
<text x="48.8" y="613.18" font-size="8.9" text-anchor="end" fill="#1a1a1a" stroke="#1a1a1a" stroke-width="0.16">8</text>
<line x1="52.4" y1="594" x2="55" y2="594" stroke="#111" stroke-width="1.1"/>
<text x="48.8" y="597.1" font-size="8.9" text-anchor="end" fill="#1a1a1a" stroke="#1a1a1a" stroke-width="0.16">10</text>
<line x1="54.4" y1="674.4" x2="142.4" y2="674.4" stroke="#111" stroke-width="1.2"/>
<line x1="63.95" y1="674.4" x2="63.95" y2="677.4" stroke="#111" stroke-width="1"/>
<text transform="translate(69.75 682.6) rotate(-45)" font-size="8.5" text-anchor="end" fill="#1a1a1a" stroke="#1a1a1a" stroke-width="0.16">PBS</text>
<line x1="81.8" y1="674.4" x2="81.8" y2="677.4" stroke="#111" stroke-width="1"/>
<text transform="translate(87.6 682.6) rotate(-45)" font-size="8.5" text-anchor="end" fill="#1a1a1a" stroke="#1a1a1a" stroke-width="0.16">G-CSF</text>
<line x1="99.65" y1="674.4" x2="99.65" y2="677.4" stroke="#111" stroke-width="1"/>
<text transform="translate(105.45 682.6) rotate(-45)" font-size="8.5" text-anchor="end" fill="#1a1a1a" stroke="#1a1a1a" stroke-width="0.16">Cxcr4 antagonist</text>
<line x1="117.5" y1="674.4" x2="117.5" y2="677.4" stroke="#111" stroke-width="1"/>
<text transform="translate(123.3 682.6) rotate(-45)" font-size="8.5" text-anchor="end" fill="#1a1a1a" stroke="#1a1a1a" stroke-width="0.16">Mpl agonist</text>
<line x1="135.35" y1="674.4" x2="135.35" y2="677.4" stroke="#111" stroke-width="1"/>
<text transform="translate(141.15 682.6) rotate(-45)" font-size="8.5" text-anchor="end" fill="#1a1a1a" stroke="#1a1a1a" stroke-width="0.16">FLT3L</text>
<line x1="64.2" y1="562.5" x2="134.9" y2="562.5" stroke="#222" stroke-width="1"/>
<text x="134.1" y="561.4" font-size="8" text-anchor="end" fill="#222" stroke="#222" stroke-width="0.16">n.s.</text>
<line x1="64.2" y1="571.5" x2="117.3" y2="571.5" stroke="#222" stroke-width="1"/>
<text x="116.7" y="571.3" font-size="9.4" text-anchor="end" fill="#222" stroke="#222" stroke-width="0.16">***</text>
<line x1="64.2" y1="579.5" x2="97.4" y2="579.5" stroke="#222" stroke-width="1"/>
<text x="96.6" y="578.4" font-size="8" text-anchor="end" fill="#222" stroke="#222" stroke-width="0.16">n.s.</text>
<line x1="64.2" y1="587.5" x2="80.1" y2="587.5" stroke="#222" stroke-width="1"/>
<text x="79.5" y="587.3" font-size="9.4" text-anchor="end" fill="#222" stroke="#222" stroke-width="0.16">**</text>
<rect x="168" y="615.5" width="12.5" height="58.9" fill="#e3a1a3"/>
<line x1="174.25" y1="610.5" x2="174.25" y2="616" stroke="#111" stroke-width="1.3"/>
<line x1="171.55" y1="611.2" x2="176.95" y2="611.2" stroke="#111" stroke-width="1.5"/>
<rect x="186.3" y="628.8" width="12.5" height="45.6" fill="#e3a1a3"/>
<line x1="192.55" y1="624.5" x2="192.55" y2="629.3" stroke="#111" stroke-width="1.3"/>
<line x1="189.85" y1="625.2" x2="195.25" y2="625.2" stroke="#111" stroke-width="1.5"/>
<rect x="204.6" y="611.3" width="12.5" height="63.1" fill="#e3a1a3"/>
<line x1="210.85" y1="604.3" x2="210.85" y2="611.8" stroke="#111" stroke-width="1.3"/>
<line x1="208.15" y1="605" x2="213.55" y2="605" stroke="#111" stroke-width="1.5"/>
<rect x="222.9" y="657" width="12.5" height="17.4" fill="#e3a1a3"/>
<line x1="229.15" y1="654.5" x2="229.15" y2="657.5" stroke="#111" stroke-width="1.3"/>
<line x1="226.45" y1="655.2" x2="231.85" y2="655.2" stroke="#111" stroke-width="1.5"/>
<rect x="241.2" y="646.8" width="12.5" height="27.6" fill="#e3a1a3"/>
<line x1="247.45" y1="638" x2="247.45" y2="647.3" stroke="#111" stroke-width="1.3"/>
<line x1="244.75" y1="638.7" x2="250.15" y2="638.7" stroke="#111" stroke-width="1.5"/>
<line x1="165.2" y1="590.2" x2="165.2" y2="675" stroke="#111" stroke-width="1.2"/>
<line x1="162.6" y1="674.4" x2="165.2" y2="674.4" stroke="#111" stroke-width="1.1"/>
<text x="159" y="677.5" font-size="8.9" text-anchor="end" fill="#1a1a1a" stroke="#1a1a1a" stroke-width="0.16">0</text>
<line x1="162.6" y1="654.42" x2="165.2" y2="654.42" stroke="#111" stroke-width="1.1"/>
<text x="159" y="657.52" font-size="8.9" text-anchor="end" fill="#1a1a1a" stroke="#1a1a1a" stroke-width="0.16">10</text>
<line x1="162.6" y1="634.45" x2="165.2" y2="634.45" stroke="#111" stroke-width="1.1"/>
<text x="159" y="637.55" font-size="8.9" text-anchor="end" fill="#1a1a1a" stroke="#1a1a1a" stroke-width="0.16">20</text>
<line x1="162.6" y1="614.48" x2="165.2" y2="614.48" stroke="#111" stroke-width="1.1"/>
<text x="159" y="617.58" font-size="8.9" text-anchor="end" fill="#1a1a1a" stroke="#1a1a1a" stroke-width="0.16">30</text>
<line x1="162.6" y1="594.5" x2="165.2" y2="594.5" stroke="#111" stroke-width="1.1"/>
<text x="159" y="597.6" font-size="8.9" text-anchor="end" fill="#1a1a1a" stroke="#1a1a1a" stroke-width="0.16">40</text>
<line x1="164.6" y1="674.4" x2="254.9" y2="674.4" stroke="#111" stroke-width="1.2"/>
<line x1="174.25" y1="674.4" x2="174.25" y2="677.4" stroke="#111" stroke-width="1"/>
<text transform="translate(180.05 682.6) rotate(-45)" font-size="8.5" text-anchor="end" fill="#1a1a1a" stroke="#1a1a1a" stroke-width="0.16">PBS</text>
<line x1="192.55" y1="674.4" x2="192.55" y2="677.4" stroke="#111" stroke-width="1"/>
<text transform="translate(198.35 682.6) rotate(-45)" font-size="8.5" text-anchor="end" fill="#1a1a1a" stroke="#1a1a1a" stroke-width="0.16">G-CSF</text>
<line x1="210.85" y1="674.4" x2="210.85" y2="677.4" stroke="#111" stroke-width="1"/>
<text transform="translate(216.65 682.6) rotate(-45)" font-size="8.5" text-anchor="end" fill="#1a1a1a" stroke="#1a1a1a" stroke-width="0.16">Cxcr4 antagonist</text>
<line x1="229.15" y1="674.4" x2="229.15" y2="677.4" stroke="#111" stroke-width="1"/>
<text transform="translate(234.95 682.6) rotate(-45)" font-size="8.5" text-anchor="end" fill="#1a1a1a" stroke="#1a1a1a" stroke-width="0.16">Mpl agonist</text>
<line x1="247.45" y1="674.4" x2="247.45" y2="677.4" stroke="#111" stroke-width="1"/>
<text transform="translate(253.25 682.6) rotate(-45)" font-size="8.5" text-anchor="end" fill="#1a1a1a" stroke="#1a1a1a" stroke-width="0.16">FLT3L</text>
<line x1="175" y1="562.5" x2="242.9" y2="562.5" stroke="#222" stroke-width="1"/>
<text x="242.3" y="562.3" font-size="9.4" text-anchor="end" fill="#222" stroke="#222" stroke-width="0.16">**</text>
<line x1="175" y1="571.5" x2="226.4" y2="571.5" stroke="#222" stroke-width="1"/>
<text x="225.8" y="571.3" font-size="9.4" text-anchor="end" fill="#222" stroke="#222" stroke-width="0.16">***</text>
<line x1="175" y1="579.5" x2="207.4" y2="579.5" stroke="#222" stroke-width="1"/>
<text x="206.6" y="578.4" font-size="8" text-anchor="end" fill="#222" stroke="#222" stroke-width="0.16">n.s.</text>
<line x1="175" y1="587.5" x2="192.7" y2="587.5" stroke="#222" stroke-width="1"/>
<text x="192.1" y="587.3" font-size="9.4" text-anchor="end" fill="#222" stroke="#222" stroke-width="0.16">*</text>
<rect x="279.5" y="613.8" width="12" height="60.6" fill="#f1eebd"/>
<line x1="285.5" y1="609.5" x2="285.5" y2="614.3" stroke="#111" stroke-width="1.3"/>
<line x1="282.8" y1="610.2" x2="288.2" y2="610.2" stroke="#111" stroke-width="1.5"/>
<rect x="298.7" y="615" width="12" height="59.4" fill="#f1eebd"/>
<line x1="304.7" y1="610.8" x2="304.7" y2="615.5" stroke="#111" stroke-width="1.3"/>
<line x1="302" y1="611.5" x2="307.4" y2="611.5" stroke="#111" stroke-width="1.5"/>
<rect x="317.9" y="618.8" width="12" height="55.6" fill="#f1eebd"/>
<line x1="323.9" y1="614.5" x2="323.9" y2="619.3" stroke="#111" stroke-width="1.3"/>
<line x1="321.2" y1="615.2" x2="326.6" y2="615.2" stroke="#111" stroke-width="1.5"/>
<rect x="337.1" y="612.5" width="12" height="61.9" fill="#f1eebd"/>
<line x1="343.1" y1="603" x2="343.1" y2="613" stroke="#111" stroke-width="1.3"/>
<line x1="340.4" y1="603.7" x2="345.8" y2="603.7" stroke="#111" stroke-width="1.5"/>
<rect x="356.3" y="647" width="12" height="27.4" fill="#f1eebd"/>
<line x1="362.3" y1="639.3" x2="362.3" y2="647.5" stroke="#111" stroke-width="1.3"/>
<line x1="359.6" y1="640" x2="365" y2="640" stroke="#111" stroke-width="1.5"/>
<line x1="275.5" y1="590.2" x2="275.5" y2="675" stroke="#111" stroke-width="1.2"/>
<line x1="272.9" y1="674.4" x2="275.5" y2="674.4" stroke="#111" stroke-width="1.1"/>
<text x="269.3" y="677.5" font-size="8.9" text-anchor="end" fill="#1a1a1a" stroke="#1a1a1a" stroke-width="0.16">0</text>
<line x1="272.9" y1="657.42" x2="275.5" y2="657.42" stroke="#111" stroke-width="1.1"/>
<text x="269.3" y="660.52" font-size="8.9" text-anchor="end" fill="#1a1a1a" stroke="#1a1a1a" stroke-width="0.16">5</text>
<line x1="272.9" y1="640.44" x2="275.5" y2="640.44" stroke="#111" stroke-width="1.1"/>
<text x="269.3" y="643.54" font-size="8.9" text-anchor="end" fill="#1a1a1a" stroke="#1a1a1a" stroke-width="0.16">10</text>
<line x1="272.9" y1="623.46" x2="275.5" y2="623.46" stroke="#111" stroke-width="1.1"/>
<text x="269.3" y="626.56" font-size="8.9" text-anchor="end" fill="#1a1a1a" stroke="#1a1a1a" stroke-width="0.16">15</text>
<line x1="272.9" y1="606.48" x2="275.5" y2="606.48" stroke="#111" stroke-width="1.1"/>
<text x="269.3" y="609.58" font-size="8.9" text-anchor="end" fill="#1a1a1a" stroke="#1a1a1a" stroke-width="0.16">20</text>
<line x1="272.9" y1="589.5" x2="275.5" y2="589.5" stroke="#111" stroke-width="1.1"/>
<text x="269.3" y="592.6" font-size="8.9" text-anchor="end" fill="#1a1a1a" stroke="#1a1a1a" stroke-width="0.16">25</text>
<line x1="274.9" y1="674.4" x2="369.5" y2="674.4" stroke="#111" stroke-width="1.2"/>
<line x1="285.5" y1="674.4" x2="285.5" y2="677.4" stroke="#111" stroke-width="1"/>
<text transform="translate(291.3 682.6) rotate(-45)" font-size="8.5" text-anchor="end" fill="#1a1a1a" stroke="#1a1a1a" stroke-width="0.16">PBS</text>
<line x1="304.7" y1="674.4" x2="304.7" y2="677.4" stroke="#111" stroke-width="1"/>
<text transform="translate(310.5 682.6) rotate(-45)" font-size="8.5" text-anchor="end" fill="#1a1a1a" stroke="#1a1a1a" stroke-width="0.16">G-CSF</text>
<line x1="323.9" y1="674.4" x2="323.9" y2="677.4" stroke="#111" stroke-width="1"/>
<text transform="translate(329.7 682.6) rotate(-45)" font-size="8.5" text-anchor="end" fill="#1a1a1a" stroke="#1a1a1a" stroke-width="0.16">Cxcr4 antagonist</text>
<line x1="343.1" y1="674.4" x2="343.1" y2="677.4" stroke="#111" stroke-width="1"/>
<text transform="translate(348.9 682.6) rotate(-45)" font-size="8.5" text-anchor="end" fill="#1a1a1a" stroke="#1a1a1a" stroke-width="0.16">Mpl agonist</text>
<line x1="362.3" y1="674.4" x2="362.3" y2="677.4" stroke="#111" stroke-width="1"/>
<text transform="translate(368.1 682.6) rotate(-45)" font-size="8.5" text-anchor="end" fill="#1a1a1a" stroke="#1a1a1a" stroke-width="0.16">FLT3L</text>
<line x1="285.8" y1="562.5" x2="363.6" y2="562.5" stroke="#222" stroke-width="1"/>
<text x="363" y="562.3" font-size="9.4" text-anchor="end" fill="#222" stroke="#222" stroke-width="0.16">***</text>
<line x1="285.8" y1="571.5" x2="341.1" y2="571.5" stroke="#222" stroke-width="1"/>
<text x="340.3" y="570.4" font-size="8" text-anchor="end" fill="#222" stroke="#222" stroke-width="0.16">n.s.</text>
<line x1="285.8" y1="579.5" x2="324.4" y2="579.5" stroke="#222" stroke-width="1"/>
<text x="323.6" y="578.4" font-size="8" text-anchor="end" fill="#222" stroke="#222" stroke-width="0.16">n.s.</text>
<line x1="285.8" y1="587.5" x2="305.7" y2="587.5" stroke="#222" stroke-width="1"/>
<text x="304.9" y="586.4" font-size="8" text-anchor="end" fill="#222" stroke="#222" stroke-width="0.16">n.s.</text>
<rect x="393.3" y="627.5" width="12.5" height="46.9" fill="#ecb97c"/>
<line x1="399.55" y1="623.8" x2="399.55" y2="628" stroke="#111" stroke-width="1.3"/>
<line x1="396.85" y1="624.5" x2="402.25" y2="624.5" stroke="#111" stroke-width="1.5"/>
<rect x="412.6" y="617" width="12.5" height="57.4" fill="#ecb97c"/>
<line x1="418.85" y1="614.3" x2="418.85" y2="617.5" stroke="#111" stroke-width="1.3"/>
<line x1="416.15" y1="615" x2="421.55" y2="615" stroke="#111" stroke-width="1.5"/>
<rect x="431.9" y="628.3" width="12.5" height="46.1" fill="#ecb97c"/>
<line x1="438.15" y1="624.3" x2="438.15" y2="628.8" stroke="#111" stroke-width="1.3"/>
<line x1="435.45" y1="625" x2="440.85" y2="625" stroke="#111" stroke-width="1.5"/>
<rect x="451.2" y="597.5" width="12.5" height="76.9" fill="#ecb97c"/>
<line x1="457.45" y1="594.3" x2="457.45" y2="598" stroke="#111" stroke-width="1.3"/>
<line x1="454.75" y1="595" x2="460.15" y2="595" stroke="#111" stroke-width="1.5"/>
<rect x="470.5" y="599.5" width="12.5" height="74.9" fill="#ecb97c"/>
<line x1="476.75" y1="591.8" x2="476.75" y2="600" stroke="#111" stroke-width="1.3"/>
<line x1="474.05" y1="592.5" x2="479.45" y2="592.5" stroke="#111" stroke-width="1.5"/>
<line x1="389.5" y1="590.2" x2="389.5" y2="675" stroke="#111" stroke-width="1.2"/>
<line x1="386.9" y1="674.4" x2="389.5" y2="674.4" stroke="#111" stroke-width="1.1"/>
<text x="383.3" y="677.5" font-size="8.9" text-anchor="end" fill="#1a1a1a" stroke="#1a1a1a" stroke-width="0.16">0</text>
<line x1="386.9" y1="653.48" x2="389.5" y2="653.48" stroke="#111" stroke-width="1.1"/>
<text x="383.3" y="656.58" font-size="8.9" text-anchor="end" fill="#1a1a1a" stroke="#1a1a1a" stroke-width="0.16">20</text>
<line x1="386.9" y1="632.55" x2="389.5" y2="632.55" stroke="#111" stroke-width="1.1"/>
<text x="383.3" y="635.65" font-size="8.9" text-anchor="end" fill="#1a1a1a" stroke="#1a1a1a" stroke-width="0.16">40</text>
<line x1="386.9" y1="611.62" x2="389.5" y2="611.62" stroke="#111" stroke-width="1.1"/>
<text x="383.3" y="614.73" font-size="8.9" text-anchor="end" fill="#1a1a1a" stroke="#1a1a1a" stroke-width="0.16">60</text>
<line x1="386.9" y1="590.7" x2="389.5" y2="590.7" stroke="#111" stroke-width="1.1"/>
<text x="383.3" y="593.8" font-size="8.9" text-anchor="end" fill="#1a1a1a" stroke="#1a1a1a" stroke-width="0.16">80</text>
<line x1="388.9" y1="674.4" x2="484.2" y2="674.4" stroke="#111" stroke-width="1.2"/>
<line x1="399.55" y1="674.4" x2="399.55" y2="677.4" stroke="#111" stroke-width="1"/>
<text transform="translate(405.35 682.6) rotate(-45)" font-size="8.5" text-anchor="end" fill="#1a1a1a" stroke="#1a1a1a" stroke-width="0.16">PBS</text>
<line x1="418.85" y1="674.4" x2="418.85" y2="677.4" stroke="#111" stroke-width="1"/>
<text transform="translate(424.65 682.6) rotate(-45)" font-size="8.5" text-anchor="end" fill="#1a1a1a" stroke="#1a1a1a" stroke-width="0.16">G-CSF</text>
<line x1="438.15" y1="674.4" x2="438.15" y2="677.4" stroke="#111" stroke-width="1"/>
<text transform="translate(443.95 682.6) rotate(-45)" font-size="8.5" text-anchor="end" fill="#1a1a1a" stroke="#1a1a1a" stroke-width="0.16">Cxcr4 antagonist</text>
<line x1="457.45" y1="674.4" x2="457.45" y2="677.4" stroke="#111" stroke-width="1"/>
<text transform="translate(463.25 682.6) rotate(-45)" font-size="8.5" text-anchor="end" fill="#1a1a1a" stroke="#1a1a1a" stroke-width="0.16">Mpl agonist</text>
<line x1="476.75" y1="674.4" x2="476.75" y2="677.4" stroke="#111" stroke-width="1"/>
<text transform="translate(482.55 682.6) rotate(-45)" font-size="8.5" text-anchor="end" fill="#1a1a1a" stroke="#1a1a1a" stroke-width="0.16">FLT3L</text>
<line x1="398.7" y1="562.5" x2="476.5" y2="562.5" stroke="#222" stroke-width="1"/>
<text x="475.9" y="562.3" font-size="9.4" text-anchor="end" fill="#222" stroke="#222" stroke-width="0.16">**</text>
<line x1="398.7" y1="571.5" x2="456.6" y2="571.5" stroke="#222" stroke-width="1"/>
<text x="456" y="571.3" font-size="9.4" text-anchor="end" fill="#222" stroke="#222" stroke-width="0.16">***</text>
<line x1="398.7" y1="579.5" x2="438.1" y2="579.5" stroke="#222" stroke-width="1"/>
<text x="437.3" y="578.4" font-size="8" text-anchor="end" fill="#222" stroke="#222" stroke-width="0.16">n.s.</text>
<line x1="398.7" y1="587.5" x2="418.5" y2="587.5" stroke="#222" stroke-width="1"/>
<text x="417.9" y="587.3" font-size="9.4" text-anchor="end" fill="#222" stroke="#222" stroke-width="0.16">*</text>
<text transform="translate(32.4 633) rotate(-90)" font-size="9.2" text-anchor="middle" fill="#1a1a1a" stroke="#1a1a1a" stroke-width="0.2">Donor LKS (%)</text>
</svg>
</body></html>
